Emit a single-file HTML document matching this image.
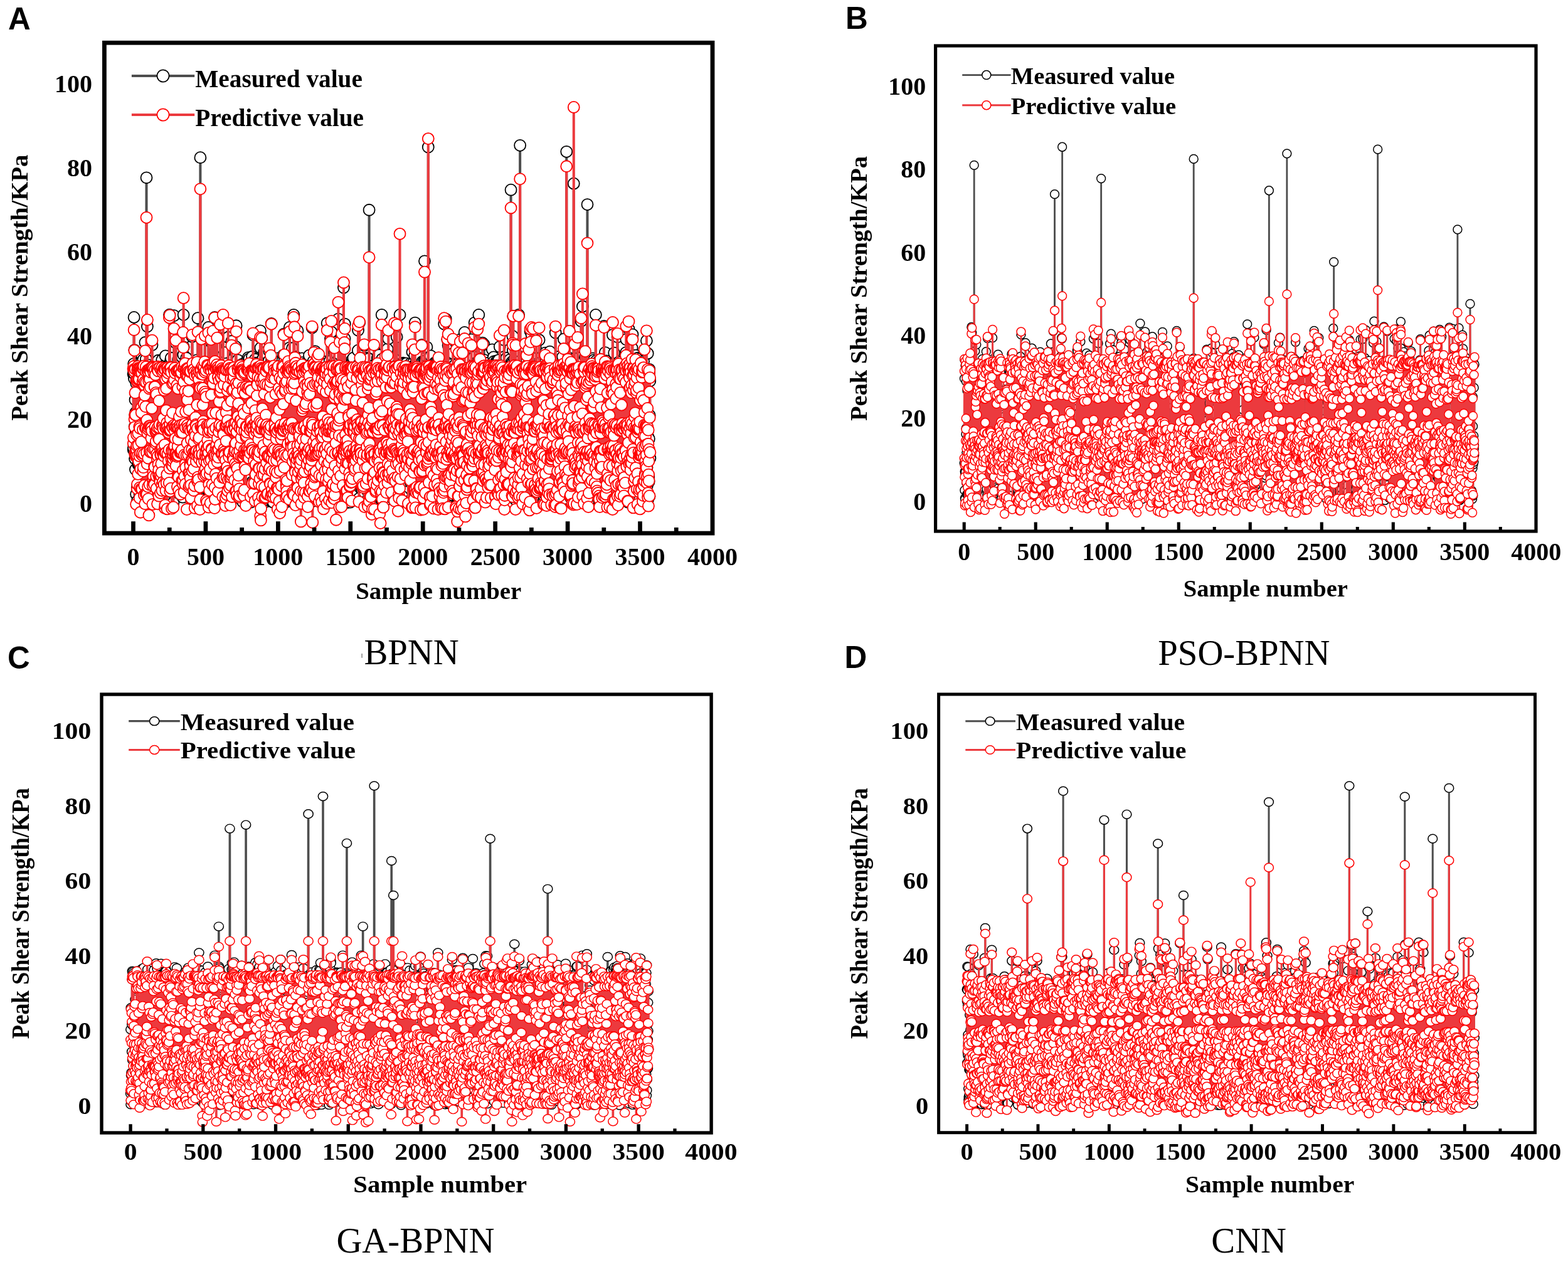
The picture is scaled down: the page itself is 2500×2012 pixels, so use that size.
<!DOCTYPE html>
<html><head><meta charset="utf-8"><title>Peak shear strength: measured vs predictive</title>
<style>html,body{margin:0;padding:0;background:#fff;}svg{display:block;}</style></head>
<body><svg width="2500" height="2012" viewBox="0 0 2500 2012">
<rect width="2500" height="2012" fill="#fff"/>
<defs>
<marker id="Ak" markerUnits="userSpaceOnUse" viewBox="-14 -14 28 28" markerWidth="121.29" markerHeight="41.88" preserveAspectRatio="none" overflow="visible"><circle r="9" fill="#fff" stroke="#000" stroke-width="1.8"/></marker>
<marker id="Ar" markerUnits="userSpaceOnUse" viewBox="-14 -14 28 28" markerWidth="121.29" markerHeight="41.88" preserveAspectRatio="none" overflow="visible"><circle r="9" fill="#fff" stroke="#f00" stroke-width="1.8"/></marker>
</defs>
<path transform="translate(212.5 802.7) scale(0.23086 -0.6685)" d="M0 309l1-181 1 5 1 200 1-20 1 131 1-146 1 11 1 57 1-183 1-39 1-37 1 104 1 36 1 77 1-243 1 136 1-49 1-38 1 0 1-108 1 264 1-151 1-12 1 53 1-56 1 180 1-262 1-32 1 310 1-193 1 183 1 28 1-241 1 73 1 144 1-154 1 200 1-262 1 228 1-3 1-49 1-103 1-70 1-76 1 19 1 129 1 154 1 16 1-333 1 101 1-19 1 221 1 18 1-274 1 98 1 69 1-1 1 71 1 51 1 12 1-318 1 43 1 236 1-220 1 164 1 62 1-147 1-107 1 277 1-256 1 192 1 49 1-23 1-74 1-213 1 106 1-86 1 234 1-9 1 35 1-284 1 370 1-223 1 28 1 72 1-255 1 269 1 69 1-169 1 126 1 476 1-760 1 126 1 59 1-173 1 42 1 351 1-108 1-117 1 106 1-132 1-119 1 47 1-91 1 270 1-83 1 76 1-253 1 312 1-74 1-63 1 87 1-237 1 62 1 195 1-170 1 195 1-129 1 69 1 26 1-1 1-151 1 21 1 16 1-14 1 15 1 128 1-116 1 1 1 188 1-81 1 15 1-189 1-101 1 24 1 8 1 274 1-254 1-27 1 245 1-166 1 176 1-226 1-34 1 53 1-49 1 201 1-147 1 170 1 22 1-103 1-37 1 153 1-140 1-34 1 125 1-88 1 5 1-100 1 197 1-268 1 176 1-50 1 51 1-99 1 225 1-289 1 317 1-144 1-97 1 235 1 14 1-248 1 0 1 77 1-76 1-72 1 211 1-93 1 61 1-119 1 86 1 133 1-233 1 10 1-23 1 84 1-118 1 106 1-15 1 215 1-198 1-67 1 63 1-70 1 69 1-96 1 314 1-292 1 122 1 142 1-189 1-29 1 72 1-112 1 271 1-137 1-13 1-45 1 8 1 187 1-229 1-82 1 255 1 44 1-3 1-185 1-106 1 301 1-312 1 95 1 247 1-147 1 87 1-256 1 112 1 57 1 58 1-219 1-13 1 160 1-3 1-118 1-45 1 293 1 10 1-148 1-77 1 196 1 1 1 14 1-136 1-72 1 55 1 165 1 1 1-221 1-50 1 394 1-281 1-65 1 346 1-275 1-164 1 194 1 95 1-99 1 140 1-154 1-133 1 293 1-266 1 244 1-249 1-1 1-48 1 108 1-41 1 90 1 75 1-8 1-172 1 102 1-102 1 17 1 44 1-138 1 265 1-153 1 202 1 132 1-314 1 61 1 119 1-135 1 6 1 118 1-10 1-80 1-51 1-77 1 14 1 6 1 278 1-282 1 25 1 17 1 4 1 44 1 121 1-219 1 204 1-4 1-203 1-22 1 129 1-2 1-35 1 91 1 92 1-188 1-31 1-47 1 113 1-166 1 293 1 3 1-94 1 45 1 73 1-42 1-77 1-46 1-26 1-131 1 191 1 97 1-181 1 190 1-191 1 64 1-49 1 172 1-196 1 23 1-82 1 289 1-192 1 37 1-34 1 98 1-243 1 63 1 313 1-346 1 310 1 95 1-77 1-82 1-129 1-136 1 160 1-97 1-6 1 225 1-109 1 126 1-72 1-149 1-21 1 70 1 56 1-142 1 259 1 2 1-36 1 55 1-237 1 186 1-267 1 286 1-79 1-113 1 120 1-69 1 158 1-148 1 114 1-16 1-171 1 180 1 11 1-219 1-57 1 204 1-65 1-86 1-53 1 87 1 217 1 0 1-287 1 71 1-29 1-1 1 63 1 165 1-277 1-23 1 118 1 9 1 45 1-5 1-24 1-8 1-26 1 277 1-347 1 147 1-24 1 133 1-92 1-104 1 189 1-196 1 31 1-83 1 41 1 236 1-190 1 67 1 101 1-261 1 77 1-97 1 293 1-168 1-21 1 28 1 70 1-79 1 30 1-42 1 52 1-86 1 0 1 40 1 192 1 3 1 4 1-105 1-162 1 164 1-216 1 280 1 139 1-399 1 28 1-2 1 14 1 63 1 26 1 145 1-15 1-125 1-69 1-30 1 195 1-179 1-71 1 5 1 0 1 797 1-568 1 47 1-123 1 131 1 18 1 3 1 64 1-208 1-45 1-13 1-29 1-3 1 85 1-49 1 180 1 17 1-66 1-11 1-47 1-8 1-19 1 3 1-124 1 247 1 28 1-43 1-199 1 31 1-6 1 211 1-29 1 92 1-120 1-106 1-82 1-17 1 194 1-145 1 207 1-83 1-221 1 77 1 47 1-47 1-3 1 109 1-183 1 92 1 204 1-177 1 32 1-76 1 108 1 110 1-139 1 247 1-337 1-57 1 106 1-114 1 314 1-225 1 82 1-163 1 135 1-10 1-86 1-2 1 119 1-159 1 315 1-10 1-216 1 273 1-264 1 159 1 26 1-183 1-13 1 12 1 59 1 152 1-264 1 121 1 149 1-174 1 214 1-72 1-34 1 68 1-157 1-80 1 245 1-254 1 205 1-31 1-117 1-148 1 440 1-401 1 312 1-325 1 40 1 256 1-284 1 132 1 79 1-134 1 218 1-31 1 67 1-241 1-66 1 262 1-224 1 310 1-292 1-40 1 63 1 174 1 1 1-292 1 257 1-185 1 65 1 149 1-161 1 9 1 165 1-46 1-76 1-32 1-109 1 222 1-80 1-78 1 291 1-123 1 26 1 4 1-57 1-8 1 73 1-35 1 9 1-195 1 100 1-44 1 129 1-24 1 45 1-3 1-217 1-11 1-82 1 331 1 83 1-110 1-137 1 6 1-87 1 209 1-22 1-208 1 52 1 15 1-66 1 288 1-45 1-206 1-9 1-72 1-14 1 147 1-151 1 93 1 208 1-146 1 43 1-22 1 131 1 5 1-236 1-57 1 25 1 151 1-21 1 86 1-63 1-172 1 43 1 318 1-130 1-203 1 231 1-182 1 208 1-201 1-12 1 39 1 30 1-145 1 105 1 30 1 152 1-9 1-261 1-26 1 106 1-75 1-7 1 253 1-13 1-209 1 151 1 159 1-176 1-170 1-21 1 270 1-183 1 68 1 102 1 10 1-161 1 82 1 85 1-205 1 203 1-213 1 232 1-20 1 13 1-171 1 35 1 27 1-119 1 68 1 21 1 7 1-109 1 69 1-117 1 360 1-238 1 64 1 66 1 158 1-304 1-93 1 234 1-79 1-162 1 270 1-204 1 30 1 177 1-129 1 178 1-152 1-133 1 242 1-90 1-162 1 222 1-134 1-120 1 87 1 204 1-273 1-14 1 116 1 31 1-8 1 38 1 132 1 2 1-21 1-11 1 26 1-198 1 48 1-15 1-55 1 207 1-116 1 114 1-156 1 157 1 22 1-15 1-112 1-201 1 285 1-188 1 155 1-34 1-114 1 202 1-192 1 113 1-219 1 265 1-238 1 123 1 29 1 100 1-196 1 187 1-148 1 15 1-55 1-25 1-45 1 240 1-123 1 11 1-50 1 52 1-3 1 38 1 5 1 148 1-227 1-20 1 214 1-192 1 5 1 208 1-117 1 135 1-251 1 212 1-41 1-154 1-30 1 252 1 9 1-32 1-174 1 129 1-70 1-26 1-17 1-39 1 21 1 66 1-200 1 297 1-13 1-48 1-45 1 25 1-21 1 39 1 77 1-187 1 223 1-227 1-71 1 51 1 217 1-136 1 218 1-89 1-293 1 209 1-34 1-10 1 117 1-226 1 194 1-233 1 16 1 117 1-77 1 42 1-128 1 337 1-126 1-24 1-138 1 24 1 103 1 152 1-135 1-40 1 150 1-98 1-10 1 46 1 31 1-170 1 181 1-85 1 102 1-176 1 198 1-194 1 175 1-289 1 134 1-45 1 17 1-53 1 90 1 162 1-257 1 64 1-104 1 154 1-130 1 256 1 103 1-398 1 357 1-178 1-166 1 1 1 150 1 126 1 28 1-54 1 117 1-360 1 141 1-137 1-33 1 244 1-168 1 239 1-115 1 140 1-39 1-200 1 223 1-192 1 163 1-235 1 294 1-28 1-69 1-76 1-142 1-38 1 124 1-65 1 33 1 105 1 89 1-289 1 159 1 23 1 130 1-159 1 162 1-129 1-104 1 122 1-181 1 304 1-169 1 0 1-64 1 151 1-187 1-54 1 77 1 248 1-224 1 78 1-24 1 177 1-271 1 122 1 172 1-85 1-76 1-89 1-33 1-7 1 215 1-45 1-193 1 132 1 105 1 23 1-293 1 151 1-61 1 322 1-89 1-255 1-75 1 40 1-46 1 25 1 111 1-14 1 184 1-164 1-12 1-23 1-108 1 123 1-74 1-26 1 298 1-232 1 200 1 6 1 1 1-92 1-59 1 66 1 85 1-224 1 116 1-168 1 259 1-267 1 179 1-146 1 189 1-79 1 170 1-239 1 67 1-106 1-6 1 302 1-35 1-257 1-30 1 92 1 60 1-122 1 243 1 40 1-204 1 9 1-124 1 257 1-173 1-86 1 227 1-43 1-94 1-96 1 289 1-238 1 116 1-15 1 115 1-176 1 105 1-54 1-30 1 43 1-135 1 55 1 83 1-143 1 289 1 9 1-218 1 158 1 78 1-161 1 9 1-10 1-94 1 172 1 97 1-24 1 74 1-212 1-37 1-84 1 268 1-229 1 20 1 125 1-84 1-8 1 110 1-36 1 49 1-1 1-211 1-65 1 317 1-143 1-136 1-17 1 42 1-68 1 274 1-242 1-26 1 173 1 141 1-22 1-147 1 6 1 165 1-196 1 203 1-42 1 51 1 2 1-181 1 33 1-184 1 359 1-77 1 126 1-108 1-7 1-123 1 130 1-49 1-83 1-27 1 13 1-21 1-2 1 184 1-208 1 26 1 127 1-45 1 43 1-167 1 267 1-79 1-287 1 118 1-109 1 136 1 49 1-57 1-5 1 51 1 263 1-178 1-270 1 306 1-20 1 119 1-97 1-203 1 237 1-168 1-70 1-12 1-65 1 321 1-62 1 39 1-89 1 47 1-149 1-62 1 269 1-10 1-135 1-100 1-82 1 116 1 6 1 274 1-376 1 304 1-329 1 98 1 10 1 53 1 114 1-156 1 57 1-2 1-79 1 52 1-69 1 67 1 170 1-19 1-112 1-115 1 64 1-54 1 111 1-186 1 9 1 89 1 14 1-101 1 19 1 1 1 256 1 44 1-10 1-52 1-47 1 77 1-141 1 136 1-238 1 121 1-120 1-68 1 97 1 83 1-77 1-63 1-32 1 275 1 14 1-194 1 81 1 145 1-266 1 62 1 82 1-184 1 273 1 25 1-84 1-64 1-58 1 46 1 161 1-152 1 134 1-167 1-56 1 223 1-140 1 99 1 17 1-260 1 4 1 274 1-185 1 162 1 27 1-97 1 111 1-224 1-94 1 351 1-217 1 169 1-208 1 147 1-241 1 185 1 0 1 112 1-221 1 93 1-74 1 7 1 49 1-89 1 143 1-197 1 189 1-104 1 6 1 317 1-200 1-29 1-185 1 133 1 70 1-182 1 274 1 39 1-208 1-8 1 107 1-195 1 325 1-311 1 272 1-10 1-227 1-59 1 111 1 227 1-239 1 179 1 31 1 2 1-248 1 40 1-37 1 60 1-38 1 214 1-106 1-150 1 68 1 124 1 38 1-118 1 97 1 44 1-10 1-172 1-2 1 155 1-164 1-12 1 176 1 54 1-199 1 190 1-328 1 258 1-205 1 35 1 185 1-135 1-32 1 84 1 84 1-112 1-3 1-169 1 318 1 12 1-243 1 198 1-123 1-58 1-95 1 302 1-249 1 267 1-40 1-189 1 164 1-102 1 67 1 80 1-292 1 154 1-165 1 310 1-28 1-156 1 134 1-58 1-111 1 92 1 102 1 27 1-224 1-3 1-83 1 123 1 179 1 26 1-5 1-47 1-215 1 98 1 135 1-116 1-63 1 186 1-294 1 413 1-130 1-217 1 32 1 11 1 66 1-116 1 72 1 178 1-240 1 85 1 22 1-97 1-24 1-68 1 168 1 38 1 129 1-20 1 2 1-35 1-156 1 149 1 114 1-246 1 47 1-174 1 6 1 95 1 288 1-389 1 220 1-216 1 267 1-199 1 68 1-7 1-24 1 53 1-144 1 12 1 39 1 213 1-123 1 147 1-301 1 296 1-149 1 164 1-324 1 349 1-110 1-222 1 276 1-267 1 244 1-162 1 44 1 45 1 64 1-147 1-121 1 25 1 171 1 73 1 29 1 22 1-18 1-29 1-234 1 282 1-129 1 9 1 82 1-201 1 94 1-94 1 353 1-326 1-34 1 234 1 32 1-147 1-27 1 83 1-244 1 267 1 77 1-131 1 83 1-34 1 23 1-176 1-49 1 205 1 34 1 21 1-26 1-3 1-288 1 93 1 274 1-271 1-11 1 7 1 162 1-108 1 79 1-121 1-64 1 262 1-40 1-156 1-13 1 408 1-258 1 5 1-145 1 19 1 245 1-250 1 262 1 35 1-300 1-41 1 196 1 27 1-126 1 129 1-204 1 27 1-32 1-78 1 253 1-176 1 4 1 15 1 2 1-122 1 256 1 71 1-230 1 68 1-151 1 304 1-88 1-93 1-52 1 134 1-1 1-44 1 123 1-170 1 62 1-102 1 26 1-77 1-4 1 9 1-40 1 324 1-145 1 17 1 109 1-195 1-85 1 64 1 239 1-77 1-210 1-24 1 322 1-15 1-211 1 94 1-162 1 290 1-221 1-23 1 92 1 5 1 156 1-271 1 40 1 58 1 21 1-74 1-27 1 79 1 25 1-31 1-80 1 12 1 28 1-43 1 45 1-19 1 178 1-180 1 123 1-103 1 191 1-118 1-26 1-45 1-15 1 186 1-172 1 107 1-40 1-41 1 162 1-211 1 259 1 48 1-248 1 166 1-230 1 211 1-232 1-68 1 42 1 61 1 316 1-246 1-23 1 149 1-120 1 144 1-177 1 10 1-42 1 64 1-35 1-16 1-41 1 234 1-168 1 16 1 108 1 22 1-251 1 287 1-99 1-199 1 291 1-94 1-122 1 62 1-151 1-31 1 281 1 34 1-220 1 91 1 5 1 183 1-42 1-308 1 162 1-2 1 113 1-158 1-60 1 144 1 110 1-12 1 9 1-144 1-146 1 304 1-175 1 4 1 74 1-103 1-37 1 209 1-254 1 31 1 109 1-176 1 11 1 205 1-234 1 182 1 23 1 33 1 96 1-67 1-72 1 494 1-671 1 104 1 157 1-163 1 35 1 162 1-244 1 22 1-73 1 172 1-75 1-111 1 265 1-154 1 0 1 155 1 47 1-311 1 291 1-214 1 73 1 160 1-301 1 171 1-35 1-117 1 38 1 91 1-143 1 31 1 257 1-227 1 277 1-333 1 94 1-113 1 56 1 43 1 30 1-72 1 147 1 73 1 16 1-37 1-247 1 245 1-51 1-168 1 259 1 1 1-43 1 38 1-252 1 127 1-11 1-8 1 184 1-243 1 241 1-38 1-274 1 98 1-18 1 52 1-60 1 116 1-78 1 169 1 42 1-224 1-63 1-40 1 85 1-16 1 67 1 48 1-208 1 26 1 140 1-15 1-115 1 248 1 41 1-319 1 316 1-230 1 355 1-106 1-339 1 231 1 51 1-267 1 22 1 7 1 133 1-177 1 161 1-154 1 49 1 240 1-242 1-2 1 16 1 67 1 144 1-279 1 185 1 115 1-16 1 17 1-213 1 241 1-7 1-15 1-235 1 201 1-135 1 181 1-302 1 313 1-234 1 71 1-22 1 171 1-37 1 84 1-23 1-10 1-270 1 46 1-35 1 97 1 220 1-237 1 154 1-98 1-87 1-21 1-56 1 287 1-263 1 73 1-61 1 109 1 30 1-36 1 146 1-219 1 73 1-52 1 124 1-142 1-10 1-93 1 74 1 133 1-75 1-26 1-62 1 20 1 4 1 265 1-182 1 137 1-14 1-74 1-148 1 164 1-50 1-16 1 155 1-233 1 78 1 248 1-254 1-147 1 65 1 45 1 208 1-41 1 26 1-272 1 300 1-125 1-14 1-80 1-24 1 128 1 70 1-68 1 168 1-297 1 107 1 96 1 29 1-137 1 25 1-121 1-17 1-74 1 122 1 29 1-36 1 184 1-283 1-10 1 44 1 272 1-128 1-200 1 166 1 282 1-207 1-104 1-14 1-41 1 102 1 112 1-227 1 252 1-147 1-32 1-31 1 48 1-34 1 16 1 1 1-127 1 108 1 18 1 182 1-86 1 58 1 38 1-220 1 144 1-128 1-8 1 210 1-55 1-126 1 174 1-22 1-124 1 3 1-89 1 20 1-4 1 67 1-2 1-121 1 108 1 161 1-11 1 11 1-150 1 161 1-21 1-125 1-83 1 71 1-58 1-29 1 200 1-135 1 24 1 128 1-145 1 118 1-274 1 94 1 187 1 19 1-18 1-90 1-17 1 20 1-119 1 118 1-21 1-54 1 129 1 62 1-146 1-118 1 283 1-118 1 90 1-9 1-109 1-126 1 16 1 6 1 210 1-287 1 180 1-97 1 271 1-65 1-291 1 329 1-124 1 54 1 64 1-237 1 234 1-241 1 65 1 92 1 86 1-294 1 54 1-61 1 160 1 167 1-26 1 104 1-403 1 280 1-285 1 275 1-201 1 231 1-303 1 70 1 227 1-134 1-176 1 77 1 221 1 0 1 25 1 11 1-151 1-165 1 79 1 193 1-133 1-28 1-10 1 44 1-94 1-58 1 113 1 179 1-191 1-44 1-53 1 131 1-122 1 312 1-237 1-2 1-61 1 259 1-282 1 243 1 27 1-214 1 91 1 129 1-43 1 120 1-215 1 34 1 141 1-229 1-23 1 12 1 190 1-119 1-17 1-126 1-2 1 298 1 16 1-167 1-13 1 74 1-188 1 235 1 55 1 244 1-467 1 164 1-74 1 139 1-27 1-285 1 278 1-131 1 36 1-70 1 180 1-13 1-175 1 2 1 238 1-42 1-230 1 56 1-49 1 187 1-3 1-197 1 170 1-85 1 670 1-763 1 89 1-43 1 127 1-223 1 285 1-46 1 55 1 5 1-207 1-47 1-55 1-14 1 311 1-294 1-2 1 215 1 109 1-251 1 29 1-46 1 28 1 113 1 75 1-93 1-109 1 227 1-77 1-232 1 152 1 93 1-71 1 13 1-77 1 52 1 154 1-269 1 70 1-110 1 290 1-134 1 45 1-48 1-127 1 223 1-76 1 140 1-209 1 36 1 145 1-20 1-67 1-143 1 244 1-173 1-73 1 104 1 140 1 17 1-249 1 27 1 217 1-41 1-241 1 34 1-5 1 240 1-293 1 267 1-99 1 88 1 58 1-144 1-88 1 62 1-106 1 87 1-34 1 227 1-317 1 274 1-288 1 321 1-195 1 129 1-4 1 21 1-175 1 61 1-165 1 145 1 48 1-103 1 8 1 17 1 223 1-100 1-223 1 35 1-37 1 112 1-71 1 52 1 15 1-109 1 289 1 28 1-59 1-85 1 237 1-351 1-64 1 31 1 153 1-176 1 37 1 256 1-100 1 56 1 37 1 133 1-245 1-130 1 96 1 183 1-151 1-74 1 68 1 52 1 65 1-175 1 262 1-74 1-235 1 132 1 99 1-207 1 271 1-358 1 93 1 70 1 56 1-165 1 125 1-18 1-15 1 166 1-289 1 64 1 10 1 51 1-105 1-9 1 142 1 64 1-108 1-38 1-25 1 219 1-201 1-61 1 58 1 93 1-73 1-7 1 39 1 160 1-236 1 2 1 194 1 83 1-221 1-118 1 253 1-163 1 175 1-26 1-75 1 118 1-210 1 23 1 72 1 23 1 121 1-137 1-90 1 43 1-1 1-113 1 26 1-38 1 97 1-91 1 355 1-220 1 151 1-168 1-54 1-7 1 200 1-280 1 179 1-178 1 306 1-180 1-120 1 293 1-136 1-42 1-114 1 367 1-247 1-125 1 296 1-122 1-160 1 337 1-339 1 67 1 44 1 262 1-305 1 96 1-99 1 33 1 9 1-114 1 118 1-76 1 40 1 191 1 33 1-21 1-163 1-120 1 108 1 228 1-122 1 73 1-115 1-72 1-93 1 76 1 72 1-75 1 57 1 88 1-152 1 212 1-211 1 321 1-68 1-325 1 305 1-14 1-91 1-193 1 286 1-169 1 70 1 88 1-287 1 247 1-212 1 63 1-49 1-18 1 101 1-44 1-59 1 273 1 34 1-205 1 182 1-105 1 163 1-250 1 140 1 48 1-168 1-89 1-1 1 94 1-50 1-47 1 83 1-53 1 228 1-224 1 227 1-44 1-17 1-86 1 147 1-183 1 23 1 137 1 95 1-171 1-69 1 163 1-195 1-38 1 48 1 124 1 69 1-35 1-192 1 165 1-251 1 98 1 85 1 134 1-211 1 211 1 23 1-87 1 60 1-240 1 349 1-311 1 119 1-233 1 188 1-183 1 145 1 137 1 42 1-52 1-113 1-118 1 70 1 164 1-253 1 157 1-13 1-148 1 163 1 71 1 158 1-100 1-47 1-104 1-4 1 161 1-316 1 330 1-233 1 342 1-333 1-21 1 25 1 13 1 128 1-174 1 114 1-4 1 148 1-209 1 73 1-11 1-62 1-95 1-20 1 146 1-27 1 176 1-191 1-59 1 250 1-134 1 129 1-226 1-14 1 311 1-77 1-77 1-92 1 189 1-262 1 240 1 28 1 4 1-272 1 315 1-224 1 151 1-223 1 259 1-51 1-218 1 19 1 222 1-299 1 143 1 2 1-99 1 68 1-71 1 70 1 139 1-145 1-98 1 267 1-132 1-33 1-69 1 133 1 88 1-152 1-44 1 16 1 237 1-281 1 40 1-36 1 261 1-196 1 34 1-103 1 257 1 15 1-115 1-115 1-50 1 3 1 263 1-129 1 145 1-36 1 5 1-114 1-173 1 191 1-82 1-62 1 100 1-91 1 22 1 156 1-153 1 276 1-155 1 84 1-122 1 117 1 15 1-126 1 32 1-97 1 234 1-147 1 77 1-144 1 204 1-232 1 18 1-33 1 232 1-243 1 237 1-172 1-132 1-12 1 161 1 154 1-298 1 270 1 24 1-85 1-108 1 220 1-4 1-131 1-87 1 171 1-5 1-278 1 326 1-78 1-47 1-192 1 223 1 85 1-221 1-19 1 259 1-337 1 139 1 34 1-17 1-37 1-98 1 348 1-212 1 143 1-148 1-6 1 153 1 10 1-12 1-276 1 62 1 242 1-69 1 23 1 42 1-304 1 198 1-103 1 62 1 136 1 18 1-228 1 97 1-74 1 139 1-104 1-83 1 206 1-93 1-147 1 264 1 80 1-274 1-92 1 3 1 290 1-292 1 302 1-186 1-84 1 63 1-6 1 44 1 77 1-65 1 56 1-129 1 16 1 234 1-200 1-10 1 54 1-152 1 140 1-168 1 323 1-171 1 122 1-253 1 117 1 121 1-106 1 119 1-177 1-2 1-101 1 148 1 163 1-198 1 75 1 9 1 143 1-246 1 211 1-32 1-176 1 29 1-30 1 649 1-629 1 156 1-163 1 217 1 8 1-164 1 156 1-327 1 248 1 84 1-225 1 290 1-376 1 343 1-255 1 336 1-312 1-117 1 5 1 289 1-160 1-28 1 41 1-115 1 295 1-16 1-153 1 7 1-133 1 272 1-312 1-1 1 304 1 40 1-181 1 160 1-325 1 306 1-135 1 93 1-66 1 118 1-159 1-70 1 46 1 9 1-28 1-85 1 272 1-296 1 55 1-33 1 144 1 272 1-334 1 16 1 9 1 35 1-167 1 123 1-28 1 26 1 724 1-514 1-149 1-37 1-81 1 139 1 58 1-10 1-154 1-24 1-42 1 137 1 84 1-108 1 123 1 35 1-307 1 153 1-136 1 45 1 218 1 44 1-153 1 15 1-58 1 82 1 88 1 10 1-115 1 3 1 57 1 50 1-61 1-135 1-90 1 97 1 191 1 63 1-268 1 158 1 80 1-245 1 217 1-151 1 26 1 81 1 77 1-160 1 154 1-128 1-164 1 200 1-153 1 79 1-19 1 68 1 66 1-267 1 51 1-31 1 82 1 238 1-54 1-122 1-36 1 183 1-321 1 92 1-31 1-61 1 129 1 269 1-243 1 218 1-243 1-95 1 270 1-204 1-7 1 4 1 291 1-269 1-95 1 241 1-14 1 5 1 47 1-178 1 173 1-148 1-73 1 293 1-71 1-4 1-118 1 146 1-194 1-27 1 48 1 184 1-45 1-264 1 179 1-28 1-136 1 270 1-131 1 179 1-254 1-88 1 280 1-192 1 276 1-141 1-228 1 147 1-144 1 91 1 78 1-19 1 155 1-248 1 47 1 56 1-152 1 25 1 14 1-27 1 150 1 114 1-116 1 116 1 78 1-285 1 195 1-2 1-261 1 43 1 255 1-270 1 240 1-271 1 88 1 27 1 167 1-257 1-19 1 43 1 102 1 121 1-142 1-64 1-84 1 125 1 32 1-24 1 33 1-93 1 129 1 78 1-52 1-137 1-102 1 229 1-94 1 31 1-153 1 293 1-178 1-57 1-53 1 198 1-121 1-62 1 321 1-110 1-186 1 278 1-13 1 10 1-31 1 6 1-15 1-49 1-223 1-9 1 298 1-25 1-251 1 100 1-59 1 90 1-167 1 145 1-125 1 281 1 35 1-25 1-120 1 31 1-171 1-37 1 54 1 86 1 173 1-306 1 338 1-52 1-14 1 24 1-123 1-121 1 60 1 35 1-39 1 159 1-63 1-199 1 87 1-61 1 70 1-11 1 14 1-102 1 164 1-53 1 6 1 178 1-295 1 246 1 10 1-90 1-38 1-30 1 51 1 66 1-72 1-20 1-127 1 188 1 101 1-299 1 103 1-110 1 307 1 95 1-256 1 67 1-92 1-111 1-7 1 153 1 21 1-25 1-48 1 186 1-26 1-138 1-108 1 32 1 256 1-25 1 17 1-110 1 41 1-70 1 151 1-232 1 267 1-51 1-184 1-105 1 39 1 144 1 122 1-249 1 86 1 12 1-154 1 49 1 48 1 23 1 192 1-14 1-306 1 290 1-230 1 154 1-37 1 34 1 89 1-142 1 32 1-161 1 108 1 211 1-101 1-56 1-20 1-133 1 40 1 249 1 63 1-296 1 36 1 8 1-51 1 201 1 22 1-231 1-69 1 202 1 70 1-171 1-61 1 278 1-218 1 147 1 7 1-98 1 123 1 548 1-515 1-226 1 63 1-102 1 81 1 174 1-262 1 262 1-18 1 36 1-113 1 10 1-33 1 70 1-146 1-58 1 274 1-212 1 17 1 270 1-81 1-142 1 145 1-104 1-205 1 265 1-110 1-165 1 8 1 324 1-32 1-34 1-21 1-147 1-76 1 269 1-109 1 137 1-311 1 116 1 153 1-255 1 74 1-48 1 70 1-94 1 262 1-277 1 321 1 419 1-454 1-306 1 312 1-54 1-38 1 104 1 64 1-351 1 77 1 36 1 146 1 27 1-171 1 64 1-131 1 207 1-215 1 101 1 99 1 32 1-36 1-260 1 312 1-12 1-142 1 95 1 113 1-172 1-117 1 65 1-134 1 110 1 55 1-136 1 260 1 34 1-306 1 121 1-43 1 24 1-70 1-42 1 263 1-156 1 61 1-52 1-30 1-41 1 72 1-64 1 351 1-291 1-79 1 21 1 165 1-117 1-6 1-63 1 52 1 117 1 236 1-448 1 153 1 15 1 111 1-118 1-40 1 175 1 22 1-268 1-50 1 277 1-125 1-82 1 183 1 46 1-253 1 243 1 39 1-251 1 108 1-136 1 44 1 143 1-134 1 22 1-36 1 136 1 35 1-209 1 52 1 173 1-267 1 683 1-632 1 26 1 134 1-103 1-35 1 230 1-329 1 311 1-144 1-76 1-79 1 303 1-149 1 142 1-197 1 75 1-9 1-58 1 30 1 3 1 28 1-128 1 224 1 3 1 30 1-188 1 64 1 92 1 52 1-131 1 105 1-272 1 272 1-31 1-26 1-125 1 181 1-114 1 154 1-177 1-82 1 161 1-129 1 193 1 30 1-73 1 51 1-208 1-13 1 71 1 132 1-89 1-155 1 269 1-143 1-106 1 220 1 152 1-194 1 84 1-178 1-19 1-15 1 32 1-135 1 32 1 59 1-61 1 48 1 186 1 42 1-62 1 50 1-306 1 132 1 171 1-184 1 155 1 53 1-163 1-169 1 0 1-1 1 116 1-112 1 159 1-19 1-71 1 65 1 135 1-187 1 241 1-152 1-2 1 46 1-172 1 72 1 180 1-180 1 198 1-238 1-83 1 301 1 7 1-101 1-47 1 123 1-99 1 155 1-148 1-70 1-102 1 177 1 109 1 115 1-276 1 170 1 23 1-165 1 125 1-116 1 87 1 89 1-332 1 168 1 124 1-305 1 187 1-194 1 323 1-38 1 47 1-299 1 285 1-301 1 185 1 123 1-320 1 271 1-228 1 57 1 64 1 26 1 125 1 5 1-297 1 85 1 98 1-68 1-79 1 4 1 125 1-28 1-45 1-117 1 305 1-140 1 141 1 5 1-33 1-224 1 47 1 45 1 52 1-20 1-85 1 21 1 171 1-50 1 55 1-206 1 51 1-21 1-115 1 392 1-120 1-97 1-53 1-105 1 129 1 135 1 33 1-124 1-48 1 207 1-262 1 68 1-138 1 43 1-41 1 65 1 36 1-121 1 224 1-112 1 171 1-38 1-8 1 73 1-135 1-143 1 221 1 55 1-198 1 112 1 86 1-242 1 322 1-372 1 42 1 10 1-56 1 287 1-221 1-46 1 296 1-212 1-11 1-7 1 203 1-104 1 108 1-188 1-97 1 169 1-109 1 168 1-62 1 117 1-183 1-121 1 105 1-50 1 257 1-263 1 168 1-103 1 205 1-156 1 17 1 118 1-97 1-135 1 57 1 52 1 130 1-231 1 125 1-142 1-23 1-13 1-21 1 101 1-55 1 240 1-99 1-13 1 125 1-127 1 124 1-240 1 42 1 212 1-103 1-97 1 171 1 71 1 31 1-74 1-208 1 70 1-83 1 219 1-204 1 72 1-8 1-36 1-127 1 181 1 121 1-311 1 341 1-241 1 41 1 38 1 234 1-112 1-21 1-207 1 265 1-84 1 41 1-126 1-75 1 230 1-56 1 57 1-239 1-4 1 223 1-120 1-25 1-19 1 19 1 96 1-153 1 184 1 81 1-48 1-216 1 102 1 194 1-101 1-188 1 9 1 197 1-294 1 218 1-127 1 236 1-44 1-289 1 12 1 145 1-40 1 147 1-93 1-146 1 247 1-71 1 72 1 29 1 31 1-272 1 96 1-20 1 35 1 63 1 5 1 49 1 20 1-27 1-250 1 121 1 8 1-128 1-44 1 338 1-194 1 42 1 101 1-92 1-150 1 231 1-182 1 34 1 181 1-301 1 34 1 50 1 70 1 0 1 10 1-170 1 135 1 83 1-87 1-1 1-2 1 207 1-185 1-137 1 85 1-12 1-27 1 249 1-78 1-131 1 219 1-21 1-165 1-7 1-117 1 310 1-11 1-277 1-21 1 319 1-120 1-166 1 131 1-57 1 68 1 170 1-166 1-160 1 91 1 30 1-85 1-16 1 97 1-32 1 67 1-89 1 53 1 36 1-64 1 18 1 243 1-315 1 124 1-111 1-44 1 135 1 39 1-5 1 147 1-349 1 8 1 117 1 24 1-144 1 50 1 53 1-65 1 102 1 157 1 9 1-303 1 193 1 83 1-1 1-184" fill="none" stroke="#4d4d4d" stroke-width="4" vector-effect="non-scaling-stroke" stroke-linejoin="bevel" marker-start="url(#Ak)" marker-mid="url(#Ak)" marker-end="url(#Ak)"/>
<path transform="translate(212.5 802.7) scale(0.23086 -0.6685)" d="M0 321l1-178 1 14 1 164 1 6 1 87 1-94 1-5 1 50 1-164 1-19 1-63 1 93 1 52 1 56 1-205 1 96 1-81 1-18 1 0 1-114 1 296 1-179 1 14 1 35 1-26 1 155 1-258 1 11 1 272 1-205 1 183 1 31 1-257 1 97 1 156 1-184 1 179 1-218 1 195 1 27 1-25 1-114 1-70 1-100 1 25 1 141 1 142 1-8 1-334 1 141 1-38 1 242 1-7 1-282 1 112 1 81 1-11 1 98 1-3 1-1 1-277 1 81 1 211 1-206 1 171 1 31 1-146 1-99 1 246 1-237 1 210 1 24 1 8 1-91 1-217 1 98 1-75 1 239 1-24 1 32 1-291 1 365 1-184 1 2 1 49 1-208 1 292 1 11 1-147 1 110 1 393 1-657 1 96 1 78 1-177 1 72 1 344 1-122 1-148 1 150 1-141 1-137 1 68 1-97 1 303 1-133 1 111 1-320 1 348 1-46 1-89 1 133 1-273 1 79 1 172 1-170 1 196 1-137 1 92 1 40 1-4 1-191 1 57 1 3 1-26 1 24 1 143 1-96 1-54 1 216 1-63 1-2 1-202 1-124 1 45 1 11 1 266 1-246 1-9 1 257 1-192 1 181 1-263 1-1 1 41 1-43 1 234 1-192 1 191 1 40 1-136 1-52 1 177 1-136 1-28 1 121 1-116 1 24 1-107 1 195 1-224 1 139 1-57 1 58 1-69 1 213 1-321 1 327 1-145 1-68 1 209 1-6 1-223 1-24 1 86 1-75 1-62 1 227 1-92 1 28 1-120 1 127 1 136 1-258 1-11 1-4 1 77 1-103 1 92 1-2 1 204 1-202 1-52 1 30 1-21 1 57 1-87 1 280 1-293 1 155 1 127 1-179 1-13 1 62 1-132 1 266 1-114 1-25 1-60 1-3 1 207 1-209 1-68 1 225 1 51 1 2 1-183 1-151 1 331 1-324 1 124 1 199 1-139 1 117 1-266 1 90 1 101 1 52 1-219 1-6 1 129 1 14 1-123 1-82 1 335 1-21 1-118 1-65 1 206 1-12 1-1 1-136 1-74 1 68 1 149 1 1 1-191 1-79 1 394 1-269 1-90 1 365 1-260 1-160 1 145 1 147 1-119 1 123 1-149 1-140 1 288 1-211 1 200 1-208 1-13 1-104 1 139 1-4 1 60 1 103 1-70 1-127 1 92 1-81 1 7 1 9 1-125 1 297 1-165 1 196 1 98 1-281 1 51 1 108 1-158 1 37 1 149 1-12 1-128 1-28 1-35 1-12 1 5 1 276 1-299 1 24 1 5 1 62 1 5 1 130 1-204 1 170 1 35 1-202 1-75 1 149 1-8 1-45 1 138 1 45 1-166 1-38 1-52 1 115 1-147 1 286 1 0 1-110 1 104 1 7 1 1 1-133 1-16 1-49 1-99 1 159 1 121 1-180 1 189 1-138 1 46 1-47 1 141 1-191 1 5 1-73 1 272 1-157 1 19 1-19 1 110 1-232 1 32 1 329 1-353 1 317 1 118 1-167 1-33 1-104 1-159 1 159 1-70 1-51 1 260 1-135 1 144 1-66 1-222 1 48 1 87 1 38 1-133 1 221 1 13 1-6 1 2 1-201 1 206 1-335 1 318 1-49 1-111 1 103 1-60 1 136 1-143 1 141 1-18 1-187 1 152 1 47 1-242 1-34 1 184 1-46 1-105 1-29 1 84 1 169 1 18 1-247 1 27 1-4 1-30 1 113 1 142 1-271 1-31 1 139 1-48 1 81 1 1 1 0 1-58 1-26 1 300 1-325 1 112 1-14 1 159 1-156 1-79 1 220 1-199 1 1 1-90 1 52 1 237 1-174 1 22 1 145 1-271 1 75 1-128 1 316 1-182 1 48 1-10 1 44 1-82 1 65 1-63 1 60 1-85 1 15 1 10 1 188 1-5 1 29 1-102 1-181 1 125 1-184 1 309 1 105 1-346 1 53 1-66 1 7 1 64 1 32 1 143 1 18 1-157 1-31 1-20 1 171 1-160 1-131 1 53 1-30 1 741 1-475 1 40 1-131 1 125 1 12 1-2 1 73 1-212 1-48 1-1 1-33 1 17 1 64 1-62 1 210 1-19 1-33 1-40 1-57 1 18 1-8 1-12 1-109 1 256 1-7 1 10 1-250 1 62 1-37 1 237 1-72 1 134 1-87 1-200 1-30 1-14 1 192 1-140 1 196 1-63 1-247 1 102 1 22 1-59 1 25 1 89 1-183 1 126 1 201 1-212 1 33 1-40 1 72 1 145 1-158 1 237 1-286 1-130 1 146 1-92 1 275 1-218 1 80 1-151 1 142 1 2 1-105 1 12 1 108 1-189 1 323 1-3 1-214 1 284 1-287 1 155 1 56 1-184 1-2 1-1 1 62 1 107 1-252 1 170 1 110 1-155 1 241 1-109 1-16 1 50 1-161 1-58 1 205 1-229 1 222 1-16 1-187 1-123 1 454 1-405 1 301 1-329 1 105 1 209 1-254 1 110 1 36 1-86 1 195 1 2 1-7 1-181 1-79 1 271 1-215 1 279 1-268 1-28 1 56 1 170 1-6 1-291 1 273 1-191 1 19 1 191 1-191 1 42 1 151 1-29 1-50 1-59 1-134 1 215 1-77 1-48 1 287 1-108 1 0 1-6 1-46 1 10 1 52 1-30 1 2 1-182 1 92 1-27 1 132 1 6 1-5 1-2 1-196 1-57 1-46 1 291 1 143 1-134 1-148 1-4 1-98 1 254 1-37 1-173 1 20 1-7 1-62 1 257 1-15 1-185 1-3 1-112 1-8 1 190 1-171 1 89 1 215 1-169 1 68 1-31 1 133 1 0 1-257 1-41 1 66 1 147 1-44 1 79 1-71 1-168 1 47 1 353 1-151 1-223 1 262 1-196 1 207 1-218 1 13 1 53 1 7 1-147 1 85 1 56 1 145 1-3 1-262 1-62 1 180 1-133 1 19 1 236 1 18 1-242 1 170 1 133 1-190 1-121 1-50 1 254 1-197 1 103 1 140 1 1 1-208 1 68 1 119 1-182 1 157 1-167 1 220 1-22 1 14 1-192 1 62 1 6 1-136 1 68 1 17 1 38 1-84 1 34 1-100 1 340 1-225 1 49 1 93 1 124 1-322 1-58 1 231 1-90 1-152 1 261 1-197 1 39 1 143 1-78 1 136 1-116 1-158 1 268 1-79 1-171 1 220 1-176 1-96 1 101 1 209 1-290 1-17 1 108 1 54 1 1 1 17 1 115 1 5 1 11 1-21 1 11 1-181 1 62 1-43 1-45 1 195 1-127 1 139 1-144 1 150 1-6 1-3 1-125 1-168 1 254 1-166 1 158 1-46 1-112 1 205 1-198 1 96 1-196 1 292 1-278 1 96 1 45 1 140 1-225 1 175 1-145 1-2 1-36 1 41 1-126 1 283 1-120 1 26 1-58 1 35 1-29 1 38 1 13 1 137 1-197 1-12 1 164 1-166 1 20 1 188 1-89 1 92 1-199 1 198 1-47 1-153 1-11 1 213 1 13 1-21 1-184 1 148 1-96 1 2 1-8 1-55 1 21 1 57 1-182 1 254 1 42 1-43 1-79 1 5 1-16 1 60 1 79 1-186 1 186 1-191 1-80 1 79 1 178 1-118 1 220 1-88 1-294 1 156 1 3 1-11 1 144 1-214 1 207 1-262 1 2 1 116 1-46 1 4 1-117 1 317 1-101 1-29 1-124 1 24 1 89 1 142 1-138 1-14 1 160 1-128 1-26 1 79 1 29 1-169 1 166 1-96 1 137 1-201 1 179 1-178 1 199 1-309 1 139 1-69 1 28 1-65 1 123 1 154 1-241 1 40 1-122 1 195 1-137 1 239 1 98 1-426 1 358 1-150 1-218 1 28 1 204 1 131 1-5 1-30 1 106 1-352 1 136 1-109 1-53 1 210 1-141 1 212 1-108 1 133 1-44 1-150 1 186 1-175 1 147 1-217 1 252 1-20 1-40 1-84 1-138 1-26 1 99 1-30 1 41 1 59 1 102 1-269 1 158 1 38 1 108 1-133 1 129 1-132 1-86 1 91 1-166 1 304 1-152 1-2 1-58 1 169 1-223 1-37 1 88 1 215 1-213 1 71 1-35 1 173 1-241 1 96 1 193 1-46 1-159 1-53 1-27 1-37 1 231 1-26 1-207 1 130 1 114 1 63 1-336 1 167 1-59 1 303 1-127 1-194 1-82 1 52 1-44 1-13 1 103 1-2 1 183 1-180 1 1 1-3 1-107 1 117 1-86 1-23 1 305 1-226 1 204 1 13 1-6 1-138 1-47 1 61 1 108 1-220 1 100 1-147 1 231 1-248 1 166 1-117 1 142 1-50 1 161 1-212 1 66 1-132 1 37 1 249 1-2 1-284 1-50 1 130 1 57 1-137 1 276 1 14 1-200 1 0 1-94 1 242 1-159 1-111 1 219 1-45 1-56 1-146 1 323 1-222 1 106 1-3 1 86 1-149 1 63 1 6 1-76 1 43 1-112 1 74 1 49 1-173 1 303 1 26 1-216 1 156 1 67 1-148 1-1 1-6 1-79 1 143 1 89 1-16 1 92 1-222 1-5 1-89 1 269 1-234 1-6 1 155 1-87 1 8 1 95 1-19 1 4 1 17 1-231 1-42 1 303 1-140 1-133 1-7 1 74 1-83 1 262 1-237 1-37 1 167 1 128 1 9 1-143 1-36 1 174 1-200 1 223 1-23 1 3 1 4 1-149 1 15 1-179 1 317 1-55 1 138 1-94 1-3 1-130 1 141 1-72 1-74 1-20 1 26 1-41 1 6 1 171 1-184 1-3 1 141 1-82 1 92 1-216 1 250 1-27 1-265 1 75 1-79 1 136 1 21 1-44 1-16 1 59 1 266 1-169 1-255 1 299 1-32 1 134 1-112 1-199 1 238 1-172 1-64 1-37 1-79 1 339 1-23 1 14 1-81 1 73 1-219 1-3 1 231 1-9 1-142 1-71 1-44 1 59 1 18 1 261 1-362 1 279 1-303 1 101 1-39 1 106 1 143 1-198 1 51 1-4 1-59 1 43 1-55 1 60 1 151 1 1 1-134 1-97 1 58 1-47 1 85 1-150 1-72 1 152 1-5 1-104 1 62 1-4 1 261 1 1 1 11 1-64 1-46 1 98 1-167 1 158 1-246 1 163 1-154 1-45 1 86 1 66 1-51 1-80 1-35 1 277 1 23 1-238 1 109 1 138 1-203 1 16 1 96 1-206 1 257 1 40 1-85 1-63 1-55 1 34 1 161 1-138 1 144 1-209 1-19 1 228 1-195 1 139 1 21 1-269 1-25 1 286 1-155 1 135 1 67 1-132 1 124 1-214 1-73 1 297 1-195 1 172 1-224 1 181 1-232 1 143 1 4 1 111 1-198 1 84 1-85 1 24 1 16 1-80 1 133 1-145 1 135 1-68 1 11 1 308 1-230 1-12 1-225 1 162 1 70 1-158 1 252 1 50 1-211 1 26 1 85 1-159 1 288 1-314 1 287 1-14 1-256 1-46 1 117 1 193 1-211 1 169 1 40 1-1 1-258 1 65 1-55 1 82 1-39 1 196 1-84 1-115 1 26 1 97 1 80 1-147 1 114 1 64 1-31 1-137 1-64 1 183 1-177 1-5 1 203 1 34 1-227 1 196 1-321 1 279 1-216 1 56 1 157 1-101 1-47 1 55 1 99 1-100 1-17 1-155 1 302 1-3 1-222 1 227 1-162 1-35 1-118 1 293 1-232 1 259 1-6 1-184 1 139 1-114 1 49 1 116 1-294 1 159 1-201 1 328 1 1 1-195 1 170 1-121 1-68 1 87 1 133 1-7 1-186 1-51 1-66 1 117 1 174 1 18 1-11 1-44 1-208 1 122 1 145 1-151 1-55 1 201 1-320 1 413 1-129 1-190 1 44 1 22 1 40 1-119 1 91 1 135 1-255 1 133 1-5 1-82 1-36 1-54 1 165 1 20 1 133 1 0 1-14 1-15 1-166 1 138 1 116 1-210 1 8 1-155 1-3 1 84 1 326 1-396 1 186 1-223 1 325 1-252 1 95 1 4 1-50 1 69 1-156 1 8 1 1 1 239 1-110 1 149 1-312 1 300 1-129 1 144 1-316 1 360 1-119 1-232 1 270 1-200 1 170 1-141 1 44 1 20 1 102 1-141 1-104 1-79 1 226 1 101 1 34 1-4 1 7 1-34 1-232 1 260 1-109 1 5 1 77 1-172 1 66 1-67 1 361 1-358 1-44 1 241 1 9 1-130 1-36 1 103 1-274 1 258 1 136 1-181 1 118 1-60 1 57 1-207 1-46 1 248 1 9 1-3 1-32 1 10 1-306 1 116 1 297 1-277 1-32 1 11 1 149 1-99 1 73 1-109 1-78 1 230 1 21 1-176 1-2 1 411 1-278 1 27 1-161 1 17 1 252 1-258 1 243 1 48 1-285 1-49 1 165 1 73 1-157 1 161 1-188 1 11 1-50 1-68 1 261 1-174 1 7 1 17 1-6 1-104 1 219 1 74 1-227 1 54 1-137 1 306 1-42 1-142 1-41 1 116 1-5 1-27 1 142 1-198 1 54 1-104 1 52 1-71 1-14 1 22 1-20 1 279 1-147 1 14 1 136 1-210 1-64 1 69 1 205 1-37 1-236 1-45 1 315 1-5 1-210 1 108 1-155 1 244 1-182 1-16 1 69 1 19 1 131 1-236 1 43 1 51 1-15 1-62 1-15 1 81 1 21 1-8 1-106 1 30 1 15 1-40 1 41 1-6 1 153 1-169 1 143 1-124 1 204 1-131 1-34 1-22 1-23 1 184 1-171 1 72 1-11 1-14 1 140 1-199 1 206 1 102 1-240 1 134 1-208 1 208 1-234 1-80 1 57 1 93 1 279 1-259 1-46 1 181 1-133 1 171 1-215 1-4 1-8 1 76 1-43 1-42 1 8 1 190 1-128 1 13 1 89 1 15 1-257 1 279 1-53 1-221 1 279 1-85 1-138 1 82 1-146 1 4 1 275 1-14 1-186 1 66 1-1 1 197 1-62 1-325 1 186 1 10 1 137 1-148 1-93 1 113 1 118 1 0 1 4 1-147 1-125 1 276 1-156 1 17 1-3 1-46 1-24 1 194 1-219 1 31 1 53 1-172 1 61 1 214 1-280 1 218 1-19 1 91 1 40 1-27 1-68 1 359 1-582 1 138 1 156 1-129 1 13 1 134 1-200 1 9 1-109 1 168 1-75 1-94 1 281 1-185 1 10 1 183 1 14 1-345 1 347 1-207 1 83 1 121 1-331 1 216 1-34 1-113 1 14 1 101 1-107 1-3 1 250 1-208 1 275 1-331 1 72 1-133 1 88 1 41 1 3 1-17 1 78 1 137 1-1 1-27 1-260 1 233 1-83 1-147 1 293 1-16 1-41 1 52 1-275 1 133 1 3 1-5 1 159 1-228 1 217 1-31 1-237 1 114 1-57 1 65 1-53 1 110 1-117 1 199 1 4 1-204 1-18 1-123 1 110 1 43 1 58 1 27 1-183 1-77 1 232 1-62 1-58 1 238 1 19 1-298 1 298 1-256 1 360 1-118 1-280 1 192 1 72 1-282 1 74 1-24 1 126 1-195 1 146 1-146 1 84 1 247 1-263 1 14 1-17 1 67 1 199 1-279 1 132 1 123 1 20 1-12 1-191 1 204 1 32 1-28 1-255 1 209 1-153 1 192 1-290 1 305 1-210 1 24 1-24 1 180 1-57 1 109 1-35 1 0 1-269 1 46 1-25 1 70 1 273 1-229 1 140 1-141 1-54 1-10 1-56 1 263 1-253 1 50 1-34 1 88 1 61 1-60 1 100 1-161 1 72 1-71 1 159 1-152 1-8 1-91 1 87 1 82 1-51 1-27 1-56 1 17 1 46 1 200 1-144 1 107 1 4 1-73 1-161 1 143 1-19 1-7 1 137 1-181 1 49 1 251 1-265 1-159 1 55 1 66 1 199 1-39 1 33 1-267 1 266 1-117 1-26 1-50 1-32 1 126 1 83 1-73 1 196 1-305 1 103 1 99 1 0 1-135 1 25 1-109 1-41 1-81 1 137 1 46 1-70 1 233 1-307 1-8 1 23 1 292 1-116 1-176 1 136 1 471 1-363 1-161 1 5 1-65 1 127 1 102 1-205 1 228 1-128 1-50 1-24 1 71 1-54 1 14 1 16 1-149 1 101 1 13 1 203 1-45 1 5 1 18 1-183 1 155 1-148 1-7 1 198 1-28 1-169 1 190 1 12 1-161 1 24 1-104 1 26 1 2 1 62 1 12 1-116 1 99 1 161 1-22 1 14 1-117 1 116 1-4 1-142 1-80 1 79 1-63 1 6 1 147 1-143 1 48 1 149 1-167 1 137 1-285 1 106 1 200 1 13 1-20 1-115 1-4 1 15 1-109 1 88 1 4 1-58 1 104 1 85 1-131 1-123 1 258 1-105 1 112 1-45 1-62 1-113 1-5 1 22 1 180 1-307 1 201 1-91 1 279 1-101 1-287 1 330 1-117 1 61 1 54 1-201 1 189 1-233 1 54 1 150 1 44 1-287 1 93 1-117 1 173 1 183 1-47 1 101 1-386 1 279 1-324 1 325 1-227 1 216 1-278 1 62 1 233 1-148 1-134 1 81 1 205 1-4 1-3 1 3 1-137 1-156 1 88 1 195 1-115 1-76 1 1 1 54 1-70 1-81 1 103 1 188 1-211 1-27 1-38 1 140 1-143 1 282 1-243 1 47 1-83 1 281 1-335 1 333 1-12 1-192 1 32 1 162 1-58 1 127 1-190 1-1 1 133 1-215 1-28 1 2 1 199 1-106 1 10 1-195 1 27 1 295 1 6 1-144 1-30 1 135 1-236 1 261 1 17 1 235 1-461 1 170 1-81 1 127 1 14 1-296 1 286 1-112 1 1 1-74 1 188 1 4 1-197 1 17 1 189 1-4 1-231 1 73 1-69 1 168 1 39 1-203 1 198 1-118 1 690 1-763 1 75 1-36 1 118 1-214 1 278 1-33 1 32 1-9 1-204 1 1 1-100 1-19 1 306 1-286 1-17 1 231 1 90 1-203 1 7 1-49 1 42 1 101 1 90 1-125 1-57 1 193 1-63 1-239 1 166 1 131 1-152 1 28 1-72 1 60 1 148 1-259 1 63 1-142 1 336 1-131 1-3 1-6 1-140 1 230 1-90 1 139 1-199 1 55 1 144 1-37 1-99 1-78 1 213 1-182 1-55 1 90 1 146 1 0 1-264 1 63 1 206 1-44 1-236 1 36 1 35 1 199 1-330 1 314 1-115 1 86 1 77 1-144 1-92 1 76 1-152 1 83 1 1 1 195 1-297 1 302 1-292 1 294 1-186 1 158 1-20 1 52 1-215 1 64 1-185 1 183 1 2 1-52 1-33 1 29 1 202 1-49 1-262 1 23 1-45 1 168 1-61 1 29 1-15 1-83 1 279 1 14 1-61 1-78 1 262 1-378 1-33 1 10 1 142 1-196 1 72 1 234 1-107 1 66 1 55 1 127 1-240 1-131 1 84 1 177 1-132 1-87 1 77 1 53 1 86 1-200 1 271 1-81 1-248 1 137 1 100 1-185 1 289 1-413 1 121 1 65 1 36 1-146 1 105 1 14 1-2 1 131 1-254 1 72 1-8 1 36 1-119 1 11 1 125 1 80 1-79 1-48 1-14 1 193 1-168 1-73 1 48 1 62 1-66 1 9 1 29 1 168 1-289 1 80 1 201 1 81 1-230 1-138 1 232 1-143 1 176 1-28 1-81 1 138 1-238 1 35 1 67 1 18 1 120 1-141 1-60 1 19 1 35 1-103 1-4 1-74 1 117 1-121 1 379 1-174 1 129 1-173 1-43 1-28 1 196 1-317 1 223 1-199 1 328 1-179 1-112 1 254 1-88 1-40 1-127 1 342 1-243 1-128 1 303 1-86 1-164 1 290 1-290 1 48 1 30 1 267 1-280 1 87 1-120 1 51 1-27 1-111 1 111 1-43 1 18 1 205 1 40 1 3 1-197 1-126 1 119 1 243 1-115 1 74 1-130 1-90 1-111 1 130 1 67 1-69 1 65 1 66 1-147 1 207 1-250 1 337 1-77 1-296 1 296 1 5 1-74 1-278 1 347 1-184 1 39 1 128 1-298 1 264 1-228 1 92 1-61 1-35 1 108 1-50 1-52 1 275 1 9 1-197 1 194 1-111 1 173 1-250 1 132 1 52 1-209 1-49 1-4 1 64 1 3 1-65 1 62 1-34 1 232 1-209 1 212 1-31 1-48 1-78 1 162 1-209 1 62 1 134 1 66 1-162 1-45 1 157 1-204 1-31 1 33 1 130 1 59 1-26 1-199 1 178 1-259 1 93 1 78 1 141 1-198 1 205 1-1 1-60 1 54 1-266 1 366 1-313 1 147 1-264 1 199 1-199 1 198 1 134 1 3 1-46 1-91 1-152 1 83 1 175 1-259 1 164 1-27 1-151 1 191 1 64 1 139 1-113 1-17 1-97 1-26 1 146 1-290 1 297 1-193 1 306 1-323 1 20 1-14 1 27 1 127 1-164 1 101 1 8 1 134 1-225 1 68 1-7 1-58 1-87 1-21 1 173 1-63 1 200 1-201 1-32 1 218 1-150 1 155 1-244 1 4 1 306 1-66 1-39 1-144 1 187 1-264 1 220 1 42 1 12 1-252 1 252 1-150 1 135 1-221 1 232 1-39 1-222 1 59 1 201 1-320 1 163 1 15 1-123 1 81 1-81 1 64 1 162 1-162 1-108 1 281 1-132 1-28 1-84 1 129 1 113 1-170 1-71 1 74 1 191 1-279 1 82 1-34 1 243 1-231 1 70 1-115 1 256 1 18 1-151 1-85 1-25 1-22 1 256 1-98 1 123 1-23 1 18 1-121 1-186 1 191 1-56 1-104 1 119 1-45 1-11 1 179 1-184 1 216 1-141 1 114 1-102 1 122 1 9 1-144 1 13 1-75 1 213 1-123 1 111 1-186 1 192 1-224 1 8 1 3 1 220 1-248 1 232 1-177 1-119 1 2 1 164 1 142 1-325 1 298 1 32 1-116 1-111 1 220 1 0 1-126 1-70 1 169 1-17 1-253 1 302 1-38 1-114 1-151 1 225 1 74 1-213 1-54 1 266 1-302 1 133 1 15 1-12 1-32 1-89 1 366 1-216 1 133 1-133 1-17 1 104 1 41 1-24 1-253 1 28 1 264 1-81 1 17 1 54 1-299 1 217 1-113 1 47 1 146 1 8 1-258 1 141 1-84 1 152 1-98 1-63 1 163 1-110 1-122 1 243 1 125 1-295 1-132 1 22 1 308 1-297 1 282 1-140 1-103 1 55 1 13 1 25 1 115 1-78 1 42 1-101 1-54 1 238 1-188 1-3 1 53 1-131 1 139 1-137 1 271 1-151 1 154 1-273 1 93 1 158 1-124 1 148 1-207 1-10 1-59 1 119 1 142 1-184 1 42 1 20 1 138 1-203 1 205 1-55 1-179 1 48 1-36 1 602 1-577 1 140 1-181 1 233 1 2 1-150 1 148 1-301 1 247 1 51 1-218 1 283 1-366 1 362 1-260 1 329 1-267 1-148 1 3 1 287 1-152 1-27 1 27 1-109 1 261 1 7 1-152 1-8 1-117 1 271 1-300 1-37 1 331 1 60 1-194 1 140 1-295 1 291 1-140 1 119 1-114 1 144 1-137 1-79 1 21 1-8 1-9 1-83 1 279 1-298 1 31 1 17 1 115 1 270 1-328 1 6 1 5 1 62 1-174 1 111 1-44 1 40 1 649 1-457 1-133 1-58 1-64 1 112 1 110 1-26 1-139 1-18 1-64 1 166 1 59 1-132 1 137 1 54 1-306 1 130 1-146 1 72 1 211 1 38 1-141 1 5 1-57 1 64 1 121 1-1 1-120 1 21 1 51 1 45 1-36 1-152 1-106 1 113 1 194 1 60 1-289 1 149 1 86 1-216 1 198 1-123 1-6 1 77 1 96 1-167 1 141 1-127 1-141 1 203 1-137 1 57 1-15 1 58 1 55 1-290 1 98 1-39 1 104 1 214 1-49 1-137 1-41 1 183 1-339 1 118 1-31 1-67 1 170 1 242 1-234 1 203 1-260 1-80 1 271 1-190 1-24 1 5 1 313 1-297 1-76 1 269 1-47 1-7 1 48 1-172 1 175 1-159 1-72 1 335 1-91 1-18 1-115 1 131 1-198 1-12 1 58 1 147 1-1 1-277 1 142 1-3 1-135 1 280 1-153 1 150 1-209 1-79 1 256 1-204 1 302 1-120 1-279 1 197 1-158 1 95 1 65 1-11 1 142 1-199 1 7 1 58 1-153 1 54 1-34 1 8 1 130 1 132 1-122 1 120 1 99 1-303 1 162 1 40 1-283 1 76 1 206 1-228 1 236 1-288 1 76 1 59 1 146 1-268 1-11 1 58 1 81 1 109 1-163 1-46 1-32 1 72 1 37 1-11 1 26 1-101 1 153 1 96 1-70 1-153 1-97 1 247 1-83 1 0 1-125 1 277 1-169 1-92 1-56 1 184 1-69 1-57 1 299 1-81 1-202 1 258 1-3 1-3 1-3 1 1 1-21 1-66 1-239 1 20 1 298 1-11 1-256 1 93 1-33 1 80 1-153 1 110 1-118 1 295 1 2 1-10 1-117 1 18 1-165 1-13 1 48 1 98 1 138 1-298 1 325 1-24 1-6 1-16 1-118 1-81 1 17 1 65 1-78 1 177 1-44 1-241 1 122 1-13 1 7 1 6 1-5 1-92 1 155 1-41 1 26 1 125 1-269 1 271 1 6 1-113 1-59 1-8 1 67 1 27 1-30 1-53 1-130 1 215 1 110 1-301 1 95 1-123 1 321 1 109 1-295 1 73 1-76 1-127 1 27 1 105 1 54 1-13 1-53 1 175 1-26 1-125 1-109 1 45 1 243 1-63 1 49 1-96 1 36 1-69 1 140 1-220 1 232 1-15 1-194 1-103 1 32 1 122 1 147 1-266 1 62 1 66 1-191 1 89 1 29 1 34 1 179 1 9 1-341 1 294 1-221 1 132 1-18 1 36 1 106 1-133 1 5 1-138 1 63 1 211 1-85 1-69 1 4 1-126 1-11 1 295 1 36 1-259 1 15 1-1 1-5 1 198 1 8 1-237 1-60 1 200 1 69 1-165 1-62 1 254 1-203 1 158 1 8 1-104 1 137 1 484 1-487 1-195 1 49 1-105 1 60 1 201 1-269 1 275 1-19 1 30 1-183 1 48 1-19 1 71 1-113 1-68 1 243 1-199 1-2 1 289 1-90 1-135 1 138 1-101 1-206 1 281 1-115 1-164 1 1 1 317 1-25 1 2 1-43 1-149 1-80 1 274 1-113 1 114 1-318 1 114 1 207 1-265 1 77 1-87 1 75 1-72 1 261 1-312 1 324 1 624 1-625 1-320 1 319 1-87 1-55 1 140 1 63 1-294 1 21 1 76 1 127 1 0 1-126 1-7 1-79 1 183 1-191 1 79 1 121 1 23 1 5 1-320 1 317 1 8 1-143 1 108 1 108 1-190 1-119 1 58 1-130 1 101 1 65 1-134 1 269 1 9 1-271 1 122 1-64 1 57 1-91 1-20 1 251 1-234 1 154 1-100 1-1 1-31 1 77 1-101 1 369 1-298 1-108 1 74 1 179 1-158 1-27 1-41 1 29 1 122 1 286 1-483 1 155 1-3 1 123 1-110 1-46 1 182 1 7 1-249 1-76 1 291 1-121 1-47 1 190 1 11 1-249 1 201 1 87 1-247 1 76 1-85 1 7 1 167 1-107 1 4 1-65 1 134 1 39 1-197 1 34 1 169 1-280 1 609 1-557 1 60 1 130 1-98 1-55 1 214 1-323 1 321 1-130 1-68 1-90 1 264 1-113 1 145 1-238 1 119 1-19 1-67 1 70 1-5 1-55 1-76 1 265 1-21 1 21 1-201 1 77 1 111 1 31 1-151 1 135 1-262 1 272 1-10 1-89 1-109 1 189 1-119 1 134 1-147 1-66 1 119 1-69 1 158 1 3 1-79 1 80 1-208 1-13 1 74 1 129 1-116 1-139 1 247 1-122 1-90 1 219 1 122 1-158 1 55 1-143 1-46 1 1 1 34 1-128 1 31 1 42 1-83 1 66 1 208 1 19 1-9 1 6 1-295 1 163 1 134 1-208 1 139 1 64 1-132 1-167 1-6 1-2 1 111 1-129 1 183 1-50 1-24 1 23 1 149 1-187 1 258 1-176 1 14 1 47 1-146 1 42 1 188 1-203 1 212 1-235 1-73 1 301 1 9 1-127 1-8 1 123 1-130 1 135 1-129 1-60 1-110 1 175 1 126 1 101 1-291 1 195 1 1 1-143 1 116 1-119 1 137 1 22 1-322 1 173 1 128 1-295 1 156 1-156 1 295 1 8 1-19 1-268 1 284 1-277 1 183 1 99 1-336 1 272 1-192 1 58 1 49 1-8 1 156 1-11 1-254 1 73 1 71 1-31 1-52 1-31 1 119 1-30 1-63 1-125 1 334 1-157 1 153 1 0 1-13 1-254 1 65 1 17 1 100 1-66 1-44 1-8 1 199 1-53 1 25 1-164 1 5 1-42 1-103 1 446 1-160 1-83 1-59 1-120 1 128 1 123 1 58 1-144 1-13 1 156 1-203 1 71 1-176 1 46 1-50 1 117 1 4 1-118 1 179 1-61 1 191 1-33 1-35 1 60 1-130 1-137 1 234 1 41 1-200 1 68 1 133 1-224 1 310 1-388 1 89 1-28 1-82 1 310 1-200 1-60 1 287 1-222 1-2 1 23 1 166 1-119 1 140 1-145 1-157 1 162 1-90 1 175 1-90 1 123 1-168 1-107 1 87 1-65 1 273 1-239 1 157 1-116 1 201 1-139 1-7 1 144 1-127 1-148 1 73 1 65 1 121 1-182 1 61 1-100 1-21 1-22 1-20 1 93 1-49 1 235 1-121 1 1 1 143 1-134 1 135 1-272 1 80 1 200 1-141 1-62 1 163 1 64 1 70 1-107 1-221 1 84 1-91 1 246 1-221 1 78 1-14 1-12 1-159 1 181 1 141 1-323 1 314 1-219 1 45 1 28 1 261 1-118 1-12 1-210 1 219 1-39 1 26 1-120 1-73 1 227 1-57 1 47 1-227 1-17 1 233 1-118 1-27 1-52 1 70 1 78 1-168 1 186 1 109 1-47 1-234 1 81 1 200 1-86 1-183 1 7 1 195 1-334 1 280 1-149 1 201 1-15 1-278 1 24 1 128 1-24 1 124 1-75 1-145 1 256 1-101 1 74 1 27 1 26 1-258 1 73 1 19 1 3 1 84 1 6 1 52 1-1 1-21 1-266 1 156 1-12 1-107 1-73 1 326 1-154 1 7 1 138 1-136 1-127 1 224 1-153 1-13 1 210 1-292 1 6 1 81 1 61 1 2 1 17 1-208 1 130 1 129 1-131 1 7 1 24 1 189 1-209 1-91 1 84 1-5 1-80 1 267 1-46 1-142 1 205 1-5 1-191 1 13 1-130 1 318 1-9 1-264 1-31 1 305 1-78 1-203 1 118 1-51 1 77 1 180 1-150 1-164 1 82 1 42 1-106 1-5 1 94 1-58 1 84 1-97 1 94 1-3 1-40 1-24 1 296 1-327 1 96 1-132 1 16 1 114 1 48 1-45 1 138 1-305 1 10 1 117 1 33 1-181 1 75 1 32 1-47 1 75 1 182 1 6 1-299 1 187 1 61 1 34 1-178" fill="none" stroke="#ec3a3e" stroke-width="4" vector-effect="non-scaling-stroke" stroke-linejoin="bevel" marker-start="url(#Ar)" marker-mid="url(#Ar)" marker-end="url(#Ar)"/>
<rect x="166.4" y="68.2" width="969.6" height="781.9" fill="none" stroke="#000" stroke-width="6.8"/>
<path d="M212.5 831.2V850.1M270.22 840.9V850.1M327.93 831.2V850.1M385.64 840.9V850.1M443.36 831.2V850.1M501.07 840.9V850.1M558.79 831.2V850.1M616.5 840.9V850.1M674.22 831.2V850.1M731.94 840.9V850.1M789.65 831.2V850.1M847.37 840.9V850.1M905.08 831.2V850.1M962.8 840.9V850.1M1020.51 831.2V850.1M1078.22 840.9V850.1" stroke="#000" stroke-width="6.7"/>
<g font-family="'Liberation Serif','Times New Roman',serif" font-weight="bold" font-size="40"><text transform="translate(212.5 901) scale(1 1)" text-anchor="middle">0</text><text transform="translate(327.93 901) scale(1 1)" text-anchor="middle">500</text><text transform="translate(443.36 901) scale(1 1)" text-anchor="middle">1000</text><text transform="translate(558.79 901) scale(1 1)" text-anchor="middle">1500</text><text transform="translate(674.22 901) scale(1 1)" text-anchor="middle">2000</text><text transform="translate(789.65 901) scale(1 1)" text-anchor="middle">2500</text><text transform="translate(905.08 901) scale(1 1)" text-anchor="middle">3000</text><text transform="translate(1020.51 901) scale(1 1)" text-anchor="middle">3500</text><text transform="translate(1135.94 901) scale(1 1)" text-anchor="middle">4000</text><text transform="translate(147 815.97) scale(1 1)" text-anchor="end">0</text><text transform="translate(147 682.27) scale(1 1)" text-anchor="end">20</text><text transform="translate(147 548.57) scale(1 1)" text-anchor="end">40</text><text transform="translate(147 414.87) scale(1 1)" text-anchor="end">60</text><text transform="translate(147 281.17) scale(1 1)" text-anchor="end">80</text><text transform="translate(147 147.47) scale(1 1)" text-anchor="end">100</text></g>
<text font-family="'Liberation Serif','Times New Roman',serif" font-weight="bold" font-size="38.7" text-anchor="middle" transform="translate(43.7 458.7) rotate(-90) scale(1 1)">Peak Shear Strength/KPa</text>
<text font-family="'Liberation Serif','Times New Roman',serif" font-weight="bold" font-size="38.8" text-anchor="middle" transform="translate(699.2 955.1) scale(1 1)">Sample number</text>
<path d="M209.9 121H310.2" stroke="#4d4d4d" stroke-width="4"/>
<ellipse cx="260" cy="121" rx="9.6" ry="9.6" fill="#fff" stroke="#000" stroke-width="1.8"/>
<text font-family="'Liberation Serif','Times New Roman',serif" font-weight="bold" font-size="39.3" transform="translate(311.2 139.2) scale(1 1)">Measured value</text>
<path d="M209.9 183H310.2" stroke="#ec3a3e" stroke-width="4"/>
<ellipse cx="260" cy="183" rx="9.6" ry="9.6" fill="#fff" stroke="#f00" stroke-width="1.8"/>
<text font-family="'Liberation Serif','Times New Roman',serif" font-weight="bold" font-size="39.3" transform="translate(311.2 201) scale(1 1)">Predictive value</text>
<text font-family="'Liberation Serif','Times New Roman',serif" font-size="56.7" text-anchor="middle" x="656.1" y="1059.2">BPNN</text>
<text font-family="'Liberation Sans',Arial,sans-serif" font-weight="bold" font-size="49.5" x="13" y="47">A</text>
<rect x="576.2" y="1042" width="1.8" height="6.8" fill="#9a9a9a"/>
<defs>
<marker id="Bk" markerUnits="userSpaceOnUse" viewBox="-14 -14 28 28" markerWidth="122.79" markerHeight="42.3" preserveAspectRatio="none" overflow="visible"><circle r="6.9" fill="#fff" stroke="#000" stroke-width="1.5"/></marker>
<marker id="Br" markerUnits="userSpaceOnUse" viewBox="-14 -14 28 28" markerWidth="122.79" markerHeight="42.3" preserveAspectRatio="none" overflow="visible"><circle r="6.9" fill="#fff" stroke="#f00" stroke-width="1.5"/></marker>
</defs>
<path transform="translate(1537.2 799.5) scale(0.22803 -0.6619)" d="M0 92l1 204 1 46 1-315 1 45 1-64 1-3 1 61 1 262 1-257 1 31 1 240 1-180 1 14 1 113 1-244 1 73 1 182 1-208 1-75 1 125 1 125 1 56 1-259 1-46 1 137 1-139 1 41 1 8 1 55 1-18 1-4 1 166 1-184 1-76 1 24 1 135 1 172 1-36 1-181 1-108 1 295 1 43 1-328 1 48 1-51 1 117 1-7 1 163 1-212 1 29 1 313 1-414 1 122 1-103 1 381 1-272 1-52 1-26 1 34 1-1 1 208 1 0 1-149 1 34 1-28 1-16 1 176 1-174 1-51 1 721 1-789 1 113 1-18 1-23 1 43 1-86 1 312 1-224 1-104 1 162 1 41 1-235 1 94 1 20 1 145 1 117 1-341 1 81 1-88 1 224 1-30 1 52 1-153 1-78 1 223 1-195 1 39 1 25 1-112 1 290 1-58 1-141 1-15 1 49 1-145 1 120 1-21 1-31 1 179 1 38 1-163 1 18 1-125 1 212 1-137 1 30 1-10 1 175 1-239 1 27 1 200 1-124 1-29 1-91 1 246 1-205 1 49 1 219 1-112 1-139 1 224 1-221 1 74 1 147 1-196 1-8 1 154 1-173 1 235 1-188 1 25 1-54 1 142 1-235 1-4 1 239 1-66 1 125 1-232 1 219 1-254 1 268 1-227 1 275 1-104 1 52 1-279 1 308 1-199 1-124 1 234 1-111 1 255 1-146 1-128 1 33 1 163 1-3 1-298 1 295 1-221 1 236 1-97 1 80 1-161 1 168 1-25 1-192 1 158 1-108 1 162 1-27 1-214 1 35 1 77 1 86 1-111 1-126 1 42 1 4 1-68 1 101 1 6 1 25 1 151 1-209 1-70 1 311 1 72 1-110 1-182 1 241 1-277 1 51 1 30 1-57 1 22 1-105 1 31 1 225 1-209 1 277 1-239 1 231 1-228 1 151 1 97 1-239 1 22 1 194 1-189 1 180 1-161 1 1 1-29 1 117 1 9 1-100 1-49 1-34 1 58 1-13 1 202 1-208 1 2 1 3 1 245 1-265 1-57 1 213 1 68 1-215 1 25 1 206 1-163 1-91 1 150 1-199 1 279 1-139 1-162 1 326 1-259 1 241 1 14 1-199 1 39 1 53 1 104 1-277 1 91 1-129 1 87 1 114 1-151 1-25 1-14 1 95 1-9 1-17 1 56 1-22 1-42 1 22 1 157 1-241 1 151 1 93 1-186 1 128 1-113 1-76 1 96 1-3 1 3 1-90 1 249 1-115 1-99 1 123 1-173 1 130 1-132 1 133 1 2 1-5 1 116 1-10 1-77 1-150 1 309 1-166 1-135 1 74 1-56 1-9 1 43 1 39 1-84 1 275 1-188 1-63 1-11 1 76 1-47 1-48 1 301 1-9 1-6 1-193 1 151 1 62 1-264 1 210 1 43 1-259 1 53 1 62 1-73 1-55 1 58 1 252 1-309 1 62 1-74 1 103 1-131 1 89 1 202 1 36 1 5 1-103 1-153 1-10 1 183 1-190 1 148 1-77 1-132 1 72 1 112 1 161 1-173 1 138 1 10 1-31 1 19 1-16 1-227 1 210 1-157 1-116 1 321 1-264 1 10 1 28 1 13 1-24 1 8 1-55 1 107 1 166 1-309 1 243 1-121 1-104 1 68 1 189 1-191 1 160 1 73 1-311 1 7 1 271 1-76 1-72 1 188 1-323 1 203 1 104 1-307 1 48 1-52 1 345 1-228 1 61 1-82 1 302 1-135 1-86 1-42 1 144 1-220 1 246 1-243 1-34 1 14 1 86 1-129 1 71 1 60 1-104 1 236 1-48 1-208 1 247 1-158 1 206 1-123 1 58 1-108 1 200 1 7 1-62 1-211 1 141 1-47 1 157 1 65 1-60 1-218 1 51 1-133 1 0 1 104 1 102 1-77 1-34 1 45 1 120 1-136 1-10 1-71 1-63 1 40 1 237 1-217 1 47 1-24 1 74 1-49 1 151 1 13 1-23 1-84 1 168 1-312 1 37 1 206 1-131 1 183 1-272 1 227 1-128 1-127 1 221 1-63 1-48 1-96 1 271 1 19 1-194 1-21 1 262 1-235 1-48 1 185 1-154 1 195 1-293 1 130 1-73 1 29 1-65 1 52 1 14 1 64 1-40 1-111 1-17 1 336 1-174 1-98 1 214 1 47 1-315 1 58 1-68 1 94 1-83 1 72 1 88 1-139 1 294 1-232 1 147 1-208 1 254 1 47 1-57 1-184 1 74 1-72 1-39 1 269 1-68 1-199 1 91 1 79 1 42 1 85 1-272 1 212 1-116 1-70 1 183 1-133 1 132 1-146 1-131 1 80 1 264 1-217 1-141 1 53 1 67 1 6 1-25 1-91 1 98 1-3 1 70 1 106 1-205 1 180 1-162 1 177 1 17 1-189 1 9 1-25 1 242 1-281 1-27 1 84 1 58 1 39 1-193 1 192 1 38 1 94 1 16 1-184 1-142 1 260 1-199 1-75 1 336 1-216 1-39 1 73 1 155 1-206 1-8 1 22 1-76 1 5 1 65 1-90 1-21 1 264 1-261 1 256 1-94 1-76 1 256 1-50 1 30 1-309 1 163 1 134 1-200 1-3 1 12 1 27 1-127 1 139 1-165 1 102 1 147 1 83 1-24 1-77 1-133 1 195 1 84 1-53 1-81 1-141 1 187 1-194 1-69 1 10 1 67 1-86 1 283 1-276 1 43 1 17 1 211 1-263 1 115 1 260 1-369 1 194 1-206 1 45 1 16 1 14 1 209 1-85 1 9 1 503 1-652 1 102 1 134 1-27 1 41 1-329 1 75 1 80 1 33 1-43 1 98 1-96 1-61 1 30 1-46 1 253 1-315 1 108 1 8 1-65 1 82 1-123 1 83 1 36 1 163 1-11 1-106 1-96 1 238 1 8 1-333 1 305 1-45 1-178 1 63 1 119 1 62 1-195 1-136 1 14 1-5 1-2 1 339 1-253 1 71 1 16 1 68 1 142 1-272 1-104 1 374 1-48 1 510 1-679 1 172 1-345 1 19 1 320 1-175 1-98 1 262 1-176 1-45 1 160 1-261 1 19 1 12 1 14 1-32 1 300 1-286 1 92 1 161 1-255 1 254 1-159 1 4 1-78 1-4 1 244 1-220 1 255 1-180 1-33 1-98 1 152 1 80 1 57 1-299 1 6 1 127 1-133 1 312 1-182 1 197 1-311 1 305 1 1 1-318 1 191 1-72 1 91 1-86 1 18 1-44 1-60 1 69 1-51 1-21 1 158 1 114 1-161 1-81 1-52 1 227 1 6 1-72 1-14 1-82 1-36 1 16 1 10 1 88 1 157 1-315 1 52 1 30 1 170 1-27 1 55 1-182 1 226 1-49 1-273 1 74 1 143 1-159 1 54 1-45 1 77 1-6 1-13 1-46 1-24 1 60 1-99 1 146 1-48 1-96 1 65 1 247 1-183 1 127 1-55 1 43 1-263 1 353 1-103 1 101 1-296 1 192 1-141 1-77 1 201 1 102 1-64 1 46 1-268 1 217 1 58 1-314 1 113 1-45 1 175 1-237 1 46 1-45 1 101 1-94 1 34 1 319 1-365 1 130 1-63 1 52 1-60 1 212 1-127 1 89 1 69 1-209 1-28 1-67 1 290 1-48 1-186 1-65 1 12 1 23 1 224 1-51 1 114 1-188 1-138 1 205 1 124 1-277 1 44 1 2 1-86 1 18 1 75 1-41 1 2 1 38 1 217 1-193 1-55 1 53 1 61 1-71 1-83 1 319 1-245 1-84 1 213 1 81 1-303 1 102 1 187 1-28 1-165 1 208 1-46 1-135 1-101 1 97 1-132 1 258 1 60 1-296 1 324 1-214 1-7 1-123 1 11 1 258 1 5 1-154 1-75 1 26 1-9 1-40 1 51 1 195 1-271 1 3 1 123 1-60 1 218 1 27 1-312 1 127 1 192 1-1 1-253 1-59 1 222 1-126 1-92 1 378 1-325 1 128 1-45 1 19 1 132 1-153 1-33 1 181 1-129 1 233 1-223 1-36 1-23 1 229 1-326 1 242 1-182 1 160 1-96 1-5 1 107 1-116 1-39 1-84 1 69 1 83 1-53 1 184 1-239 1 240 1-158 1 191 1-98 1 154 1-119 1-144 1-105 1 92 1-24 1-29 1 243 1-190 1 177 1-152 1-109 1 82 1-79 1 69 1 185 1-269 1 269 1-174 1 32 1 642 1-453 1-236 1 9 1 16 1-12 1-49 1 54 1-91 1 147 1-150 1 259 1-262 1 322 1-74 1 67 1-47 1-264 1 319 1-195 1-19 1-30 1 38 1 3 1 122 1-121 1 138 1 11 1 8 1 24 1-10 1-279 1 305 1-216 1 24 1-75 1-58 1 155 1-42 1 211 1-7 1-142 1-20 1-103 1 139 1-94 1 198 1-38 1-247 1 33 1-35 1 61 1 261 1-7 1-192 1 10 1-68 1 31 1 36 1 19 1-2 1 220 1-268 1-84 1 166 1-176 1 23 1-32 1-1 1 396 1-219 1 102 1 41 1-227 1 208 1-164 1-62 1 218 1-29 1-67 1-124 1 1 1 236 1 47 1-346 1 149 1-158 1 14 1 159 1-143 1-35 1 56 1-19 1 128 1-78 1 169 1-232 1 248 1-96 1-105 1 211 1-170 1-49 1 12 1-60 1 115 1-114 1 52 1-10 1 216 1-172 1 203 1-236 1 32 1-81 1-3 1 283 1-17 1-232 1-18 1 53 1 181 1 38 1-163 1-53 1 226 1-242 1 241 1 30 1-109 1-217 1 317 1-264 1 196 1 32 1 92 1-73 1-114 1 55 1-173 1 39 1 252 1-364 1 81 1 177 1 26 1-198 1 157 1-197 1-39 1 102 1 7 1-18 1 143 1-171 1-29 1 251 1-205 1 10 1-112 1 142 1-35 1 256 1-218 1-34 1 13 1-15 1 75 1-134 1 229 1-279 1 95 1 62 1 124 1 23 1-124 1 93 1-153 1-40 1-36 1 68 1 45 1 117 1-51 1-124 1-45 1 162 1-215 1 26 1 31 1-49 1 183 1-112 1 327 1-310 1 216 1-275 1 259 1 34 1-260 1 52 1-51 1 203 1 111 1-297 1 170 1-245 1 312 1-185 1 1 1 194 1-156 1 40 1-77 1-34 1-4 1 39 1-143 1 106 1-77 1 294 1-287 1 203 1-238 1 161 1-125 1 92 1-104 1 111 1 151 1-262 1-16 1 339 1 3 1-342 1 296 1-153 1 133 1-282 1 316 1-52 1-251 1 205 1-216 1 257 1-7 1-112 1 196 1-236 1-98 1 318 1 5 1-281 1 191 1-121 1-113 1 268 1-227 1 15 1-1 1 284 1-320 1 307 1-263 1 17 1 37 1 51 1-63 1 26 1 44 1-64 1 160 1-237 1 387 1-293 1-100 1 108 1 109 1-129 1-21 1-94 1 113 1-30 1 22 1 129 1 65 1-75 1-125 1-102 1 289 1-2 1-188 1-2 1 241 1-266 1 17 1 28 1-26 1-75 1 76 1 28 1-1 1-3 1-99 1 234 1-161 1 42 1 271 1-285 1 0 1-72 1 66 1 83 1 102 1-243 1 81 1-45 1 217 1-74 1-48 1 157 1-170 1 183 1-263 1-44 1 275 1-148 1-121 1 184 1 56 1-116 1-77 1-82 1 320 1-237 1 235 1 27 1-248 1-115 1 290 1-146 1-24 1-105 1 174 1-170 1 247 1-123 1-146 1 95 1 81 1 16 1-188 1 320 1-324 1 108 1-89 1 261 1-274 1 387 1-84 1-49 1 29 1 68 1-254 1 49 1-47 1 110 1-97 1 29 1 127 1 47 1-196 1 7 1-97 1-9 1 322 1-38 1-307 1 35 1 81 1-46 1 85 1 159 1-232 1 251 1-325 1 336 1-211 1-32 1 15 1 30 1-44 1 7 1-97 1 5 1-16 1 320 1-304 1 283 1-292 1 104 1 47 1-63 1 19 1-115 1-5 1 282 1-275 1 127 1-113 1 95 1 183 1-208 1 183 1-152 1-91 1 69 1-59 1 126 1-18 1 188 1-12 1-175 1-27 1 6 1 157 1-116 1 72 1 26 1 138 1-100 1-195 1 232 1-339 1 116 1 208 1-74 1-248 1 2 1 99 1 225 1-233 1-98 1 161 1 25 1 116 1-164 1 178 1-297 1-2 1 32 1 306 1-98 1 63 1 10 1-161 1 123 1-146 1 137 1-188 1 2 1 207 1-278 1 345 1-274 1 173 1-245 1 269 1-199 1-71 1 50 1-70 1 65 1 243 1-194 1 20 1-113 1 103 1-39 1 53 1 20 1 10 1-46 1-113 1 80 1-12 1 32 1 214 1-21 1-76 1-175 1 276 1-178 1 145 1 22 1-34 1-192 1 5 1-22 1 164 1-237 1 30 1 84 1-94 1 82 1 222 1-308 1-6 1-14 1 188 1 61 1-246 1 303 1-272 1 63 1-72 1 47 1 32 1 169 1 38 1 9 1-1 1-194 1 106 1-195 1 40 1 160 1-164 1 336 1-349 1-23 1 48 1 249 1-177 1-75 1 70 1 164 1-312 1 151 1-26 1 50 1-102 1 21 1 47 1-141 1 12 1 67 1-63 1 211 1-131 1 90 1 180 1-291 1 62 1 183 1-320 1 51 1-3 1 84 1-17 1 2 1 17 1-131 1 11 1 125 1 202 1-344 1 149 1 180 1-93 1 54 1-121 1-66 1-21 1-7 1 33 1 232 1-274 1 19 1-15 1-39 1 171 1 39 1-166 1 65 1 30 1 148 1-288 1-17 1 259 1-119 1-58 1-44 1 24 1 167 1-42 1-185 1 286 1-302 1 12 1 253 1-236 1 212 1-134 1 214 1-304 1 4 1 245 1-139 1-30 1-76 1 230 1-241 1 167 1 115 1-147 1-15 1-68 1 224 1-111 1-41 1 17 1-70 1-79 1 240 1-189 1 239 1-121 1 141 1-249 1-41 1 287 1-217 1 58 1 159 1-293 1 3 1 21 1 113 1 176 1 12 1-6 1-176 1 138 1-260 1 136 1-112 1 762 1-480 1-53 1 38 1-189 1-15 1 111 1 7 1-150 1 39 1 180 1-138 1-70 1 186 1-175 1 2 1-18 1 217 1-1 1-249 1 29 1 21 1-97 1 271 1 5 1 0 1 2 1-187 1-12 1 208 1-176 1-94 1 270 1-43 1-183 1 21 1-74 1 277 1-279 1 284 1-277 1 268 1-272 1-7 1 273 1-221 1-65 1 316 1-238 1 58 1 189 1-177 1 102 1-2 1 26 1-150 1 92 1-218 1 126 1 38 1-50 1 43 1 108 1-156 1 153 1 40 1-73 1-214 1 15 1 242 1-218 1 264 1-192 1 196 1-286 1 17 1 55 1-107 1 187 1-142 1-18 1 23 1-7 1 12 1 76 1-114 1 0 1 89 1-31 1 47 1 90 1 146 1-44 1-213 1 191 1-204 1-77 1 83 1-32 1-43 1 74 1 10 1-81 1 103 1 65 1-61 1 176 1-301 1 144 1-129 1 210 1-149 1 47 1-58 1 82 1-46 1-86 1 298 1-45 1-122 1 172 1-300 1 73 1 185 1 81 1-51 1-300 1 391 1-323 1-57 1 193 1 136 1-227 1-90 1 103 1-89 1 50 1 65 1-29 1 14 1-80 1-37 1 130 1-72 1-44 1 288 1-174 1-63 1 108 1-156 1-30 1 98 1 255 1-259 1-92 1-21 1 25 1 36 1 61 1-43 1-59 1 98 1 45 1-52 1 158 1 25 1-237 1 214 1-134 1-31 1-81 1 6 1 57 1 94 1 129 1-16 1-189 1 203 1-302 1 10 1 231 1 73 1-247 1 39 1-21 1-83 1 90 1 66 1 148 1-278 1-23 1 12 1 58 1 82 1-14 1-151 1 25 1 148 1 91 1-233 1 45 1 158 1-235 1 333 1-262 1 261 1-109 1 108 1-87 1-200 1 197 1-184 1 95 1-49 1 212 1-306 1 9 1 117 1 3 1-41 1 40 1 161 1-221 1-72 1 54 1 246 1-268 1 147 1-13 1-151 1 38 1 56 1 221 1-37 1-290 1 43 1 32 1 281 1-296 1 158 1-171 1-37 1 269 1-209 1 232 1-1 1-230 1 191 1-17 1 16 1-205 1 33 1 21 1 150 1 0 1-181 1-65 1 127 1-33 1 214 1-160 1-19 1 149 1 35 1-328 1-5 1 262 1-256 1 73 1 271 1-280 1 224 1-138 1 123 1 16 1-294 1 291 1-190 1 58 1 175 1 7 1-283 1 320 1-73 1-165 1-74 1 25 1 0 1 77 1-98 1 258 1-246 1 30 1-107 1 12 1 28 1 61 1 231 1-183 1 162 1-152 1-138 1-15 1 295 1-291 1 102 1-44 1 263 1-323 1 6 1 24 1 87 1 203 1-24 1-23 1 60 1-193 1 19 1 131 1-291 1 31 1 57 1-62 1 70 1-1 1-66 1 74 1 60 1-24 1-41 1-37 1-17 1 46 1-47 1-55 1 159 1-3 1-82 1-52 1-11 1 290 1-281 1-22 1 203 1 78 1 52 1-117 1 54 1-201 1 79 1-39 1-83 1 96 1-107 1 276 1-163 1-109 1 82 1 239 1-337 1 106 1-35 1-8 1 211 1-122 1-12 1 119 1-254 1 112 1-70 1 47 1 233 1-33 1-36 1-255 1 416 1-251 1 99 1-176 1 148 1-169 1 137 1-74 1-52 1-51 1 272 1 33 1-213 1 197 1-134 1-125 1 235 1-179 1-51 1-8 1-63 1 75 1 9 1-84 1 60 1 343 1-303 1-88 1 143 1 179 1-330 1 118 1-26 1 71 1-79 1 63 1 132 1-207 1 77 1-47 1-105 1 163 1-86 1-72 1 36 1 53 1-17 1-71 1 91 1 295 1-63 1-323 1 21 1 131 1 170 1-20 1-180 1 29 1-39 1 64 1-162 1 134 1-11 1 144 1 1 1-204 1 67 1-76 1 60 1-50 1-76 1 291 1-220 1 178 1-13 1-171 1-6 1-2 1 32 1 129 1-88 1-48 1 55 1-106 1 215 1-179 1-13 1 191 1 1 1 49 1-167 1-57 1 190 1-5 1-163 1-97 1 49 1 76 1 42 1 162 1-53 1-260 1 70 1 16 1 25 1-20 1-13 1 218 1-196 1-33 1-49 1 271 1-206 1 206 1 6 1-169 1 229 1-233 1 191 1-7 1-26 1-153 1 177 1-271 1 27 1 206 1 27 1-233 1 75 1-72 1-11 1 193 1-207 1 351 1-134 1-135 1-122 1 281 1-295 1 112 1-92 1 96 1-103 1 302 1-302 1 260 1-90 1-108 1 149 1 18 1-140 1 70 1 569 1-400 1-246 1-94 1 254 1-172 1 41 1-68 1 51 1 121 1-212 1 32 1 211 1-117 1 177 1-94 1 40 1-145 1-19 1 18 1 181 1-220 1 186 1-128 1-123 1 313 1-203 1 9 1-40 1 28 1 74 1-69 1 131 1-215 1-46 1 261 1 63 1-249 1 198 1-252 1 276 1-69 1 37 1-9 1-251 1 74 1-37 1 51 1 246 1-142 1-197 1 121 1-100 1 75 1 37 1-123 1 116 1-9 1-71 1-22 1 50 1-73 1 235 1-207 1 290 1-175 1 233 1-279 1 107 1-60 1-13 1 1 1 124 1-141 1 21 1 215 1-64 1 102 1-309 1 59 1-27 1 190 1 33 1-18 1-243 1 259 1-219 1 201 1-302 1 268 1 37 1-208 1 51 1-134 1 231 1-242 1 223 1 35 1-5 1 35 1-10 1-289 1 330 1-13 1-266 1 202 1 43 1-293 1 17 1 6 1 65 1-19 1 196 1-165 1-22 1-46 1 73 1-112 1 135 1-94 1-36 1 103 1-69 1-31 1 107 1 716 1-619 1 93 1-287 1 97 1-107 1 23 1 289 1-212 1-31 1 66 1-128 1-8 1 68 1 252 1-81 1 69 1-194 1-121 1 258 1-74 1-163 1-8 1 280 1-233 1 123 1-11 1-165 1 76 1-73 1 332 1-223 1 86 1-178 1 55 1 35 1 141 1-241 1 69 1 181 1-229 1 255 1-293 1 76 1 264 1-92 1-229 1 298 1 12 1-66 1-132 1-121 1 36 1 77 1-100 1 119 1-50 1 153 1-250 1 339 1 43 1-287 1 23 1-39 1-78 1 159 1-42 1 199 1-163 1 82 1-165 1 40 1-35 1 68 1-105 1 75 1-86 1 72 1-4 1 212 1-284 1 109 1-39 1 58 1-126 1 26 1 162 1-202 1 157 1-80 1 75 1-38 1 180 1 17 1-234 1-40 1 56 1-69 1 290 1-237 1-19 1 74 1 166 1-232 1-62 1 81 1 56 1-55 1 29 1-39 1-62 1 42 1 269 1-70 1-132 1-31 1 21 1-102 1 271 1-191 1 154 1-221 1 73 1-89 1 125 1-121 1 62 1-63 1-11 1 150 1-135 1 129 1-137 1 273 1 15 1-185 1-112 1-2 1 17 1 39 1 53 1-92 1 293 1-269 1 2 1 296 1-209 1 0 1-103 1 213 1 118 1-55 1-65 1-136 1-44 1 107 1-2 1 71 1-172 1 49 1 118 1 133 1-353 1 344 1-189 1 156 1-114 1 123 1-295 1 19 1 27 1 40 1 1 1 26 1-140 1 3 1 222 1-16 1 25 1-184 1 102 1-150 1 314 1-252 1 6 1 137 1-104 1-98 1 153 1 65 1 171 1-333 1 51 1 172 1-14 1-229 1 215 1-268 1 59 1 89 1-74 1-60 1 308 1-299 1 108 1 0 1-25 1 54 1-88 1 103 1 166 1 38 1-227 1 86 1-220 1 315 1-242 1 200 1-203 1 23 1 6 1-31 1 217 1 86 1-317 1 260 1-297 1 214 1-188 1-40 1 45 1 190 1-165 1 25 1-26 1 158 1-93 1 142 1-180 1 118 1 63 1 0 1-186 1-52 1 212 1-207 1 45 1-22 1 39 1 10 1-21 1-96 1 69 1 1 1 62 1-18 1-77 1 27 1-8 1 160 1-165 1 176 1-53 1-71 1 183 1-228 1-3 1-30 1 58 1-10 1 3 1-66 1 73 1 126 1-114 1-114 1 130 1-2 1 178 1-207 1 8 1 208 1-157 1 74 1-185 1 49 1-73 1 129 1-91 1-50 1 263 1-263 1 106 1-118 1 323 1-224 1 123 1 94 1-274 1 88 1-110 1 63 1 73 1-97 1 250 1-134 1 140 1-84 1-133 1-19 1-7 1 8 1 202 1-266 1 54 1-58 1 119 1-119 1 218 1 22 1-200 1 132 1 107 1-51 1 172 1-258 1-105 1 274 1 249 1-556 1 93 1 170 1-246 1-28 1 137 1 126 1-150 1 7 1-3 1-2 1 184 1-137 1-77 1-36 1 248 1-219 1-36 1 190 1 116 1-345 1 304 1-251 1 217 1-263 1 87 1 190 1-222 1 77 1-90 1 110 1-21 1 158 1 79 1-169 1-2 1-195 1 68 1 146 1 116 1-261 1-70 1 363 1-60 1-29 1 0 1-189 1 50 1-32 1 40 1 112 1 7 1-172 1-83 1 254 1-27 1-181 1-56 1 211 1 128 1-63 1-134 1 169 1-82 1-177 1 40 1 3 1 22 1-46 1 81 1-22 1-127 1 239 1 58 1 22 1-183 1 114 1 50 1-51 1 96 1-257 1 215 1 6 1 15 1 42 1-242 1 215 1-104 1-243 1 339 1-246 1-68 1 84 1 203 1-2 1-301 1 75 1 216 1-7 1-94 1-150 1 267 1-320 1 306 1-231 1 218 1-292 1 379 1-146 1-87 1 178 1-231 1 271 1-367 1 1 1 338 1-327 1 248 1 8 1-197 1 22 1 180 1-173 1 176 1-121 1 136 1-172 1 201 1-278 1 271 1-189 1-13 1 191 1-194 1-62 1-39 1 115 1-73 1 89 1-15 1-104 1 294 1-318 1 25 1 213 1-103 1 41 1-24 1-5 1-37 1 19 1-113 1 10 1 112 1-93 1 319 1-251 1-96 1 0 1 132 1-14 1-123 1 320 1-162 1-143 1-26 1 141 1 170 1-1 1 1 1 26 1-53 1-172 1-111 1 150 1-74 1 63 1 162 1 45 1-25 1 16 1-233 1-96 1 325 1-228 1 281 1-310 1 154 1 11 1-161 1 224 1 38 1-119 1-66 1-35 1-1 1-116 1 6 1 52 1 234 1-213 1 303 1-107 1-278 1 10 1 148 1-56 1 34 1 153 1-267 1 107 1-5 1 167 1-255 1 40 1 264 1-322 1 49 1 214 1-175 1 132 1-158 1 327 1-399 1 117 1-7 1-12 1 59 1-28 1 21 1-157 1 126 1-28 1-98 1 142 1 181 1-289 1 2 1 264 1-278 1 99 1-76 1-22 1 274 1-176 1 211 1-244 1-78 1 112 1-25 1 192 1-260 1 84 1 135 1 33 1-272 1 273 1-271 1 101 1-66 1 94 1-48 1 68 1 133 1-233 1 179 1-120 1-111 1 72 1 15 1-93 1 316 1 68 1-311 1-16 1 316 1-311 1 74 1-45 1 188 1-107 1 253 1-391 1 237 1-192 1 6 1 68 1-154 1 28 1-9 1 309 1-88 1-170 1 269 1-284 1 14 1-68 1 129 1 247 1-113 1-206 1 241 1-232 1 239 1-173 1 173 1 534 1-843 1 38 1-28 1 66 1 235 1-312 1 51 1-34 1 258 1-265 1 144 1 198 1-43 1-236 1 183 1-142 1-53 1 236 1-222 1 232 1-249 1 223 1-153 1-23 1 117 1-114 1-19 1 47 1 121 1-253 1 300 1-112 1-42 1-45 1 155 1-188 1-63 1 169 1 0 1 145 1-31 1 8 1 117 1-140 1-154 1-80 1 48 1 165 1 30 1-11 1-276 1 314 1-191 1 15 1-44 1-13 1 50 1-18 1 215 1-181 1 35 1-75 1-50 1 68 1 11 1 271 1-330 1 258 1-67 1-141 1 194 1-58 1 13 1 42 1-237 1 184 1-196 1 83 1 130 1-101 1-176 1 77 1 57 1 175 1-200 1-41 1 168 1-99 1 4 1-18 1-117 1 7 1 297 1-253 1 269 1-232 1 210 1-219 1 134 1-78 1-145 1 148 1 187 1-132 1-147 1 30 1 52 1-88 1 82 1 41 1-28 1-17 1-123 1 108 1-28 1 303 1-300 1 21 1-96 1 313 1-255 1-58 1 233 1-44 1-176 1 138 1-19 1-37 1-49 1 61 1 291 1-29 1-298 1 62 1 178 1-92 1-233 1 133 1 100 1 26 1-187 1 294 1-341 1 280 1-179 1-31 1 21 1 205 1-159 1-140 1 104 1 58 1-108 1-53 1 76 1 212 1 9 1-211 1 3 1 296 1 22 1-64 1-20 1-330 1 144 1 149 1-42 1 34 1-207 1 214 1-288 1 117 1 21 1-150 1 102 1 229 1-54 1-154 1 115 1-238 1 349 1-285 1-63 1 86 1-77 1 59 1 34 1 236 1-340 1 126 1 194 1-85 1 81 1-228 1 177 1 66 1-324 1 269 1-182 1 29 1-67 1 43 1 184 1 16 1-214 1-89 1 338 1-12 1-99 1 82 1-36 1-228 1 331 1-39 1-2 1-286 1 179 1-63 1-162 1 143 1 91 1 102 1-334 1 334 1-247 1-93 1 72 1 217 1-201 1-73 1 72 1 229 1 41 1-248 1 6 1 32 1 121 1-169 1 207 1-198 1 15 1-102 1 18 1-17 1 49 1-59 1 9 1 180 1-179 1 248 1 31 1-87 1 72 1 11 1-166 1 161 1-21 1-136 1 149 1-216 1 5 1 154 1 11 1-125 1 22 1-124 1 75 1-61 1 282 1-298 1 83 1-23 1 238 1-170 1 187 1-166 1 112 1-191 1 69 1 163 1-168 1 164 1-191 1 199 1-303 1 124 1-8 1-131 1 30 1 276 1-184 1-65 1 57 1-89 1 314 1-225 1-46 1 321 1-84 1-287 1 309 1-80 1-232 1 89 1-84 1 297 1-19 1-49 1-107 1 190 1-184 1-54 1 50 1-6 1 148 1-58 1-88 1-71 1-16 1 273 1-274 1 29 1 209 1-118 1 127 1-287 1 274 1-277 1 0 1 140 1 1 1-140 1 290 1-292 1 270 1-118 1-20 1 176 1-259 1 273 1-316 1 189 1-90 1 11 1-20 1-10 1 57 1 22 1 104 1-254 1 295 1-296 1-1 1-17 1 312 1 45 1-274 1 22 1-86 1-20 1 132 1 263 1-60 1-313 1 54 1-33 1 284 1-223 1 168 1-226 1-27 1 88 1 192 1-209 1 212 1-222 1-34 1 242 1-68 1-214 1 57 1 232 1-207 1-1 1 226 1-62 1-142 1-29 1-10 1 335 1-319 1 184 1-199 1 250 1-202 1 201 1-209 1 154 1-223 1 269 1-172 1-114 1 330 1-35 1-49 1 46 1-94 1 73 1-227 1 93 1 163 1 24 1-349 1 23 1 117 1 186 1-272 1 320 1-47 1-18 1-124 1 124 1-260 1 116 1 77 1-224 1 83 1 190 1-138 1-47 1 197 1-100 1 206 1-303 1 52 1-48 1-88 1-11 1 119 1 12 1 247 1-259 1-124 1 144 1-45 1-10 1 297 1-58 1-316 1 237 1 49 1-185 1 173 1 6 1-21 1-268 1 218 1 74 1-297 1 132 1 205 1-194 1-60 1 41 1 117 1-247 1 10 1 294 1-278 1 287 1-256 1 4 1 250 1-52 1-206 1 285 1-200 1 11 1-95 1 276 1-72 1 41 1 40 1-215 1-63 1 100 1-137 1 271 1-29 1-25 1-129 1 155 1-153 1-3 1-104 1 190 1 99 1-295 1 94 1 47 1 274 1-265 1 2 1-89 1 57 1-106 1 103 1 38 1-86 1-56 1 3 1 101 1-68 1-24 1-17 1 267 1 55 1-85 1-243 1 278 1-166 1 176 1 122 1-98 1-300 1 319 1-300 1-23 1 103 1-2 1 220 1-207 1 204 1 34 1-315 1 65 1-89 1 54 1 232 1-181 1 1 1 23 1 191 1-86 1-190 1-48 1 133 1-23 1 110 1-11 1 32 1 89 1-238 1-102 1 9 1 77 1 25 1 531 1-362 1 1 1-209 1 229 1-180 1-61 1 79 1-72 1 338 1-316 1 90 1-116 1-66 1 138 1-130 1-15 1 47 1-30 1-15 1 23 1 18 1 260 1-166 1-23 1-29 1 23 1 75 1-174 1 230 1 85 1-233 1 235 1-23 1 95 1-132 1-144 1 225 1 18 1-59 1-72 1-86 1 144 1-183 1 84 1-81 1 186 1-158 1-27 1 12 1-110 1 54 1 67 1 13 1 12 1 183 1-212 1 203 1-160 1-26 1-39 1 156 1-11 1-240 1 83 1 9 1-95 1 31 1 224 1-250 1-10 1 149 1-73 1-81 1 332 1-184 1-45 1 67 1-111 1-45 1 104 1 33 1 22 1 109 1-212 1 39 1 45 1-70 1 387 1-177 1-204 1 17 1 20 1-9 1 6 1 127 1 63 1-216 1 9 1 47 1-133 1 79 1 227 1-311 1-15 1 88 1-14 1 172 1-71 1-167 1 75 1 246 1-211 1 34 1-63 1 179 1-147 1 8 1-23 1 218" fill="none" stroke="#4d4d4d" stroke-width="2.8" vector-effect="non-scaling-stroke" stroke-linejoin="bevel" marker-start="url(#Bk)" marker-mid="url(#Bk)" marker-end="url(#Bk)"/>
<path transform="translate(1537.2 799.5) scale(0.22803 -0.6619)" d="M0 104l1 210 1 29 1-284 1 28 1-97 1 6 1 102 1 240 1-247 1 55 1 183 1-155 1 26 1 119 1-273 1 81 1 171 1-193 1-114 1 154 1 127 1 73 1-266 1-45 1 99 1-130 1 63 1 11 1 73 1-34 1-36 1 195 1-169 1-115 1 31 1 133 1 175 1-14 1-179 1-116 1 320 1 16 1-312 1 58 1-129 1 154 1 6 1 184 1-233 1 30 1 289 1-405 1 145 1-134 1 408 1-278 1-41 1-18 1-5 1 10 1 213 1 13 1-182 1 39 1-17 1 5 1 150 1-177 1-24 1 381 1-501 1 159 1-46 1-1 1 37 1-87 1 341 1-262 1-89 1 189 1 13 1-185 1 53 1 11 1 136 1 135 1-357 1 113 1-137 1 254 1-54 1 63 1-148 1-60 1 203 1-167 1 35 1 10 1-152 1 340 1-57 1-143 1-19 1 35 1-169 1 157 1-3 1-50 1 178 1 22 1-171 1 27 1-157 1 272 1-163 1 52 1 1 1 176 1-261 1 13 1 211 1-122 1-34 1-71 1 250 1-226 1 52 1 199 1-83 1-116 1 187 1-225 1 63 1 142 1-193 1 13 1 139 1-145 1 214 1-163 1 2 1-27 1 107 1-254 1-14 1 268 1-57 1 141 1-237 1 214 1-263 1 275 1-217 1 242 1-89 1 63 1-313 1 326 1-168 1-155 1 247 1-92 1 233 1-146 1-125 1-3 1 206 1-19 1-317 1 341 1-217 1 215 1-62 1 31 1-153 1 176 1-26 1-197 1 185 1-117 1 167 1-49 1-196 1 36 1 42 1 108 1-111 1-173 1 83 1 25 1-87 1 90 1 34 1 20 1 142 1-216 1-82 1 335 1 77 1-84 1-229 1 232 1-248 1 25 1 30 1-31 1 20 1-104 1 35 1 205 1-183 1 248 1-233 1 231 1-252 1 180 1 76 1-214 1 18 1 202 1-190 1 181 1-172 1-17 1 12 1 83 1 20 1-102 1-41 1-36 1 45 1-20 1 214 1-168 1-32 1-5 1 227 1-242 1-20 1 184 1 64 1-216 1 30 1 196 1-154 1-93 1 160 1-194 1 288 1-172 1-172 1 348 1-250 1 237 1-9 1-162 1 32 1 55 1 91 1-276 1 68 1-103 1 66 1 93 1-114 1-39 1-15 1 113 1-9 1-18 1 47 1 0 1-65 1 37 1 175 1-289 1 173 1 80 1-183 1 154 1-113 1-150 1 147 1-5 1 0 1-104 1 254 1-123 1-59 1 98 1-173 1 128 1-121 1 150 1-17 1-4 1 128 1-4 1-84 1-187 1 340 1-167 1-173 1 86 1-24 1-55 1 88 1 16 1-97 1 317 1-208 1-46 1 5 1 65 1-65 1-84 1 345 1-9 1 3 1-172 1 135 1 30 1-231 1 160 1 67 1-239 1 43 1 43 1-33 1-85 1 86 1 211 1-265 1 17 1-36 1 85 1-166 1 127 1 202 1 48 1-15 1-106 1-144 1 7 1 173 1-164 1 104 1-75 1-96 1 71 1 70 1 153 1-177 1 170 1-4 1-7 1-8 1 3 1-218 1 179 1-164 1-104 1 334 1-255 1 16 1 23 1-9 1-16 1 32 1-94 1 102 1 193 1-332 1 247 1-86 1-162 1 121 1 203 1-213 1 138 1 72 1-305 1-13 1 305 1-103 1-46 1 180 1-360 1 283 1 72 1-325 1 82 1-112 1 359 1-192 1 36 1-73 1 301 1-154 1-74 1-57 1 173 1-225 1 256 1-283 1 1 1 33 1 48 1-135 1 83 1 58 1-118 1 275 1-68 1-227 1 251 1-144 1 222 1-136 1 52 1-97 1 192 1 2 1-27 1-260 1 207 1-87 1 157 1 47 1-42 1-233 1 69 1-128 1-29 1 134 1 85 1-70 1-6 1 25 1 106 1-127 1-3 1-73 1-49 1 31 1 211 1-200 1 60 1-23 1 49 1-38 1 153 1 6 1-28 1-105 1 195 1-315 1 41 1 215 1-109 1 145 1-259 1 238 1-160 1-144 1 267 1-95 1-33 1-102 1 271 1 46 1-215 1-40 1 257 1-204 1-58 1 183 1-159 1 209 1-306 1 140 1-51 1 2 1-53 1 16 1 70 1 22 1-49 1-97 1 16 1 326 1-175 1-128 1 246 1 27 1-337 1 97 1-58 1 85 1-135 1 113 1 97 1-158 1 302 1-251 1 175 1-201 1 246 1 27 1-60 1-172 1 80 1-61 1-78 1 290 1-53 1-227 1 87 1 117 1 47 1 44 1-242 1 200 1-121 1-71 1 211 1-147 1 115 1-170 1-120 1 100 1 247 1-180 1-138 1 52 1 50 1 18 1-53 1-66 1 85 1 8 1 38 1 104 1-158 1 157 1-154 1 152 1 54 1-202 1-10 1 0 1 229 1-275 1-68 1 143 1 39 1 29 1-187 1 179 1 57 1 93 1 6 1-192 1-139 1 267 1-180 1-89 1 332 1-210 1-34 1 60 1 153 1-210 1 0 1 24 1-71 1 4 1 73 1-121 1-19 1 269 1-266 1 282 1-119 1-55 1 252 1-37 1 19 1-328 1 210 1 106 1-227 1 28 1 23 1 0 1-149 1 163 1-165 1 85 1 163 1 86 1-1 1-75 1-142 1 173 1 46 1 6 1-71 1-167 1 182 1-183 1-107 1 63 1 65 1-102 1 268 1-286 1 66 1 55 1 192 1-266 1 110 1 248 1-365 1 211 1-255 1 66 1 34 1 9 1 204 1-57 1-3 1 205 1-351 1 103 1 96 1 2 1 24 1-313 1 88 1 60 1 28 1-31 1 121 1-118 1-75 1 41 1-17 1 219 1-328 1 115 1 35 1-87 1 65 1-137 1 104 1 64 1 164 1-16 1-141 1-94 1 254 1 10 1-324 1 304 1-44 1-160 1 24 1 136 1 53 1-190 1-156 1 27 1 6 1 6 1 341 1-269 1 72 1 23 1 62 1 161 1-273 1-151 1 400 1-60 1 162 1-297 1 135 1-318 1-14 1 345 1-164 1-105 1 258 1-170 1-41 1 149 1-290 1 39 1 41 1-15 1-16 1 299 1-283 1 59 1 217 1-283 1 257 1-173 1 11 1-60 1-21 1 270 1-223 1 231 1-201 1-23 1-91 1 165 1 71 1 69 1-318 1 2 1 162 1-152 1 314 1-174 1 182 1-339 1 353 1-23 1-316 1 204 1-81 1 69 1-76 1 25 1-57 1-22 1 76 1-57 1-60 1 179 1 93 1-132 1-74 1-82 1 255 1-5 1-78 1-3 1-115 1-19 1 37 1-3 1 63 1 183 1-332 1 69 1 21 1 189 1-33 1 64 1-209 1 236 1-55 1-292 1 89 1 174 1-178 1 50 1-53 1 67 1 7 1-9 1-8 1-45 1 55 1-105 1 135 1-38 1-131 1 96 1 225 1-152 1 120 1-32 1 23 1-265 1 326 1-77 1 106 1-289 1 195 1-158 1-79 1 222 1 86 1-60 1 63 1-268 1 191 1 71 1-321 1 114 1-41 1 172 1-257 1 78 1-80 1 134 1-82 1 7 1 328 1-402 1 147 1-41 1 45 1-51 1 201 1-146 1 140 1 41 1-242 1 11 1-116 1 324 1-44 1-182 1-69 1 25 1 16 1 229 1-37 1 86 1-177 1-159 1 244 1 100 1-270 1 29 1 19 1-113 1 55 1 56 1-39 1 27 1-6 1 240 1-196 1-69 1 54 1 64 1-57 1-78 1 278 1-221 1-108 1 236 1 88 1-347 1 151 1 192 1-12 1-196 1 220 1-44 1-120 1-128 1 94 1-130 1 258 1 61 1-326 1 342 1-205 1 7 1-140 1 0 1 291 1 10 1-165 1-75 1 8 1-1 1-22 1 29 1 187 1-227 1-50 1 136 1-67 1 232 1 31 1-333 1 145 1 178 1 6 1-235 1-68 1 261 1-147 1-101 1 385 1-333 1 115 1-29 1 6 1 156 1-187 1-12 1 182 1-151 1 240 1-238 1-38 1-15 1 241 1-319 1 241 1-177 1 152 1-103 1-5 1 129 1-137 1-12 1-99 1 54 1 97 1-68 1 203 1-253 1 264 1-160 1 185 1-97 1 165 1-126 1-156 1-115 1 104 1-31 1-33 1 251 1-215 1 189 1-118 1-139 1 84 1-115 1 119 1 198 1-285 1 265 1-161 1 7 1 344 1-146 1-239 1 24 1 0 1-3 1-62 1 80 1-105 1 117 1-131 1 250 1-287 1 355 1-72 1 83 1-72 1-264 1 324 1-199 1-9 1-26 1 30 1 21 1 102 1-97 1 138 1-7 1 12 1 3 1 18 1-315 1 332 1-199 1 9 1-51 1-80 1 152 1-60 1 233 1-13 1-142 1-13 1-90 1 112 1-80 1 189 1-32 1-291 1 66 1-18 1 60 1 246 1 2 1-212 1 15 1-51 1 33 1 30 1 12 1 7 1 195 1-249 1-128 1 185 1-197 1 66 1 2 1-36 1 386 1-203 1 117 1 11 1-211 1 207 1-171 1-40 1 219 1-61 1-70 1-88 1 3 1 222 1 20 1-340 1 155 1-153 1-34 1 210 1-122 1-28 1 48 1-46 1 141 1-55 1 146 1-260 1 293 1-109 1-99 1 224 1-200 1-55 1 18 1-31 1 97 1-145 1 87 1-25 1 229 1-179 1 205 1-236 1 15 1-69 1-33 1 347 1-49 1-227 1-17 1 49 1 183 1 52 1-172 1-77 1 250 1-256 1 251 1 12 1-95 1-246 1 330 1-237 1 179 1 48 1 53 1-38 1-151 1 85 1-178 1 21 1 286 1-371 1 76 1 185 1 40 1-199 1 117 1-157 1-92 1 128 1 30 1-6 1 117 1-176 1-49 1 269 1-187 1 5 1-137 1 168 1-36 1 224 1-199 1-26 1 9 1-22 1 83 1-137 1 219 1-259 1 78 1 78 1 130 1 35 1-147 1 99 1-147 1-44 1-23 1 79 1 5 1 130 1-32 1-156 1-40 1 186 1-222 1-26 1 69 1-60 1 205 1-99 1 298 1-320 1 248 1-284 1 268 1 12 1-237 1 62 1-55 1 195 1 97 1-291 1 187 1-284 1 327 1-187 1 11 1 179 1-145 1 28 1-70 1-38 1 14 1 15 1-104 1 65 1-59 1 279 1-253 1 181 1-266 1 192 1-119 1 95 1-152 1 127 1 186 1-310 1-22 1 370 1 25 1-343 1 281 1-156 1 135 1-317 1 349 1-62 1-268 1 234 1-241 1 265 1 19 1-129 1 193 1-241 1-125 1 349 1 22 1-278 1 204 1-179 1-83 1 291 1-228 1-5 1-8 1 302 1-367 1 336 1-241 1 24 1 33 1 40 1-61 1 3 1 72 1-79 1 175 1-243 1 349 1-247 1-115 1 97 1 137 1-132 1-33 1-92 1 98 1-4 1 15 1 141 1 67 1-65 1-153 1-76 1 296 1-37 1-153 1-20 1 206 1-258 1 34 1 7 1 3 1-81 1 41 1 31 1 32 1-18 1-104 1 244 1-144 1 31 1 246 1-273 1 13 1-48 1 15 1 87 1 127 1-262 1 73 1-10 1 222 1-79 1-78 1 168 1-167 1 160 1-231 1-29 1 250 1-146 1-126 1 207 1 44 1-128 1-70 1-108 1 337 1-237 1 243 1 30 1-244 1-111 1 315 1-175 1-35 1-142 1 229 1-211 1 264 1-96 1-151 1 115 1 55 1-29 1-142 1 313 1-337 1 116 1-83 1 257 1-274 1 371 1-80 1-37 1 60 1 48 1-271 1 62 1-78 1 143 1-106 1 39 1 142 1 36 1-205 1 6 1-104 1 8 1 315 1-15 1-323 1 15 1 104 1-65 1 88 1 180 1-248 1 267 1-366 1 356 1-214 1-35 1 9 1 54 1-48 1 20 1-111 1-53 1 21 1 339 1-342 1 346 1-343 1 140 1 34 1-37 1-13 1-82 1-43 1 291 1-278 1 126 1-161 1 155 1 201 1-224 1 168 1-134 1-90 1 48 1-65 1 159 1-47 1 185 1 5 1-169 1-8 1 13 1 115 1-98 1 81 1 18 1 107 1-73 1-184 1 230 1-352 1 134 1 176 1-68 1-286 1 38 1 117 1 197 1-240 1-56 1 163 1-5 1 146 1-160 1 149 1-268 1-37 1 46 1 268 1-29 1 34 1-4 1-158 1 152 1-173 1 130 1-184 1-5 1 242 1-287 1 308 1-252 1 180 1-282 1 298 1-179 1-98 1 86 1-79 1 38 1 255 1-206 1 42 1-120 1 93 1-26 1 32 1 27 1-15 1 5 1-168 1 124 1-33 1 55 1 202 1-59 1-14 1-179 1 243 1-149 1 139 1 14 1-31 1-178 1 10 1-26 1 172 1-271 1 45 1 102 1-140 1 129 1 166 1-273 1-34 1 45 1 111 1 97 1-259 1 294 1-224 1 45 1-62 1 56 1 20 1 151 1 56 1 8 1-7 1-210 1 101 1-148 1 9 1 152 1-151 1 322 1-317 1-41 1 45 1 255 1-180 1-89 1 68 1 174 1-340 1 194 1-35 1 21 1-47 1-17 1 80 1-195 1 33 1 67 1-76 1 239 1-117 1 63 1 181 1-293 1 81 1 192 1-333 1 36 1 23 1 62 1-6 1 14 1-2 1-125 1 13 1 115 1 191 1-350 1 180 1 154 1-72 1 54 1-131 1-58 1-21 1-21 1 33 1 228 1-250 1 39 1-58 1-23 1 154 1 55 1-158 1 45 1 26 1 171 1-302 1-30 1 296 1-129 1-79 1-32 1 30 1 167 1-31 1-202 1 297 1-292 1-40 1 281 1-230 1 210 1-129 1 220 1-338 1 4 1 290 1-194 1 6 1-88 1 249 1-282 1 210 1 82 1-118 1-22 1-62 1 198 1-85 1-56 1 26 1-69 1-76 1 229 1-205 1 274 1-143 1 158 1-242 1-80 1 319 1-228 1 58 1 161 1-292 1-35 1 95 1 80 1 171 1 4 1-6 1-169 1 137 1-263 1 121 1-74 1 402 1-168 1-18 1 29 1-203 1 4 1 137 1-2 1-180 1 40 1 200 1-154 1-58 1 201 1-201 1 15 1-9 1 193 1 22 1-257 1 5 1 33 1-139 1 297 1 1 1 47 1-29 1-151 1-27 1 225 1-194 1-90 1 265 1-61 1-190 1 46 1-144 1 349 1-304 1 302 1-253 1 223 1-309 1 21 1 299 1-235 1-33 1 298 1-242 1 31 1 210 1-183 1 112 1 1 1 14 1-136 1 123 1-227 1 82 1 49 1-40 1 32 1 131 1-146 1 162 1 30 1-78 1-231 1 36 1 234 1-232 1 268 1-211 1 213 1-273 1-14 1 72 1-118 1 178 1-109 1-33 1 33 1-11 1 9 1 77 1-131 1 26 1 81 1-48 1 67 1 126 1 97 1-35 1-221 1 208 1-204 1-130 1 116 1-27 1-71 1 124 1-2 1-66 1 88 1 76 1-77 1 182 1-318 1 153 1-110 1 215 1-186 1 63 1-54 1 99 1-68 1-132 1 329 1-40 1-111 1 168 1-356 1 133 1 194 1 98 1-95 1-266 1 370 1-293 1-86 1 219 1 85 1-207 1-68 1 97 1-84 1 49 1 54 1-40 1 36 1-84 1-19 1 71 1-11 1-80 1 296 1-170 1-60 1 133 1-172 1-86 1 127 1 276 1-250 1-143 1 10 1 27 1 36 1 51 1-31 1-102 1 152 1 4 1-37 1 170 1 24 1-245 1 244 1-134 1-30 1-80 1-16 1 84 1 63 1 137 1-20 1-200 1 196 1-266 1-24 1 234 1 93 1-233 1 30 1-25 1-92 1 108 1 31 1 173 1-283 1-42 1 8 1 92 1 61 1-19 1-135 1-20 1 186 1 104 1-245 1 51 1 157 1-270 1 389 1-278 1 249 1-85 1 76 1-64 1-181 1 166 1-179 1 75 1-32 1 206 1-330 1 58 1 111 1-18 1-30 1 45 1 182 1-230 1-117 1 57 1 257 1-241 1 141 1-22 1-163 1 50 1 54 1 222 1-36 1-274 1 10 1 74 1 264 1-293 1 164 1-156 1-47 1 233 1-172 1 216 1 3 1-263 1 225 1-21 1 9 1-220 1 34 1 33 1 161 1 4 1-178 1-129 1 203 1-80 1 201 1-135 1-9 1 142 1 32 1-341 1 12 1 266 1-255 1 88 1 217 1-230 1 235 1-169 1 128 1 31 1-307 1 305 1-234 1 96 1 161 1 2 1-265 1 300 1-100 1-146 1-33 1-11 1 20 1 54 1-75 1 239 1-251 1 42 1-125 1-18 1 77 1 83 1 211 1-178 1 159 1-146 1-149 1-33 1 326 1-303 1 91 1-29 1 252 1-336 1 30 1 18 1 89 1 195 1 1 1-21 1 31 1-176 1 8 1 118 1-273 1 37 1 59 1-36 1 50 1 10 1-95 1 90 1 60 1-46 1-28 1-40 1-26 1 42 1-9 1-65 1 155 1 13 1-111 1-45 1-33 1 323 1-324 1-7 1 183 1 118 1 36 1-69 1 32 1-216 1 87 1-48 1-86 1 115 1-89 1 271 1-208 1-129 1 124 1 225 1-318 1 85 1-11 1-17 1 221 1-135 1 8 1 114 1-274 1 139 1-81 1 15 1 243 1-52 1-12 1-273 1 411 1-240 1 148 1-186 1 139 1-138 1 122 1-104 1-59 1-10 1 247 1 33 1-224 1 200 1-126 1-142 1 268 1-185 1-48 1-11 1-94 1 108 1-6 1-110 1 96 1 303 1-266 1-132 1 162 1 182 1-315 1 125 1-36 1 71 1-72 1 54 1 144 1-244 1 102 1-49 1-104 1 155 1-89 1-54 1 25 1 46 1 13 1-105 1 105 1 303 1-79 1-313 1-2 1 154 1 178 1-19 1-202 1 68 1-51 1 45 1-138 1 142 1-48 1 137 1 36 1-217 1 61 1-78 1 36 1-20 1-89 1 295 1-195 1 153 1 6 1-192 1-9 1 12 1 53 1 144 1-112 1-66 1 79 1-111 1 203 1-198 1 1 1 202 1 18 1 18 1-169 1-45 1 190 1 1 1-152 1-139 1 77 1 60 1 47 1 127 1-10 1-278 1 78 1 45 1-13 1-10 1 3 1 202 1-178 1-37 1-25 1 241 1-207 1 197 1 9 1-161 1 220 1-231 1 197 1-11 1-36 1-158 1 181 1-230 1-9 1 235 1 11 1-247 1 101 1-60 1-10 1 157 1-166 1 311 1-144 1-98 1-159 1 286 1-300 1 105 1-129 1 163 1-108 1 292 1-313 1 285 1-90 1-117 1 161 1 19 1-166 1 86 1 292 1-132 1-223 1-143 1 267 1-160 1 63 1-101 1 55 1 163 1-227 1 47 1 177 1-111 1 176 1-78 1 31 1-139 1-25 1 16 1 170 1-196 1 165 1-115 1-146 1 334 1-175 1-21 1-5 1-57 1 101 1-40 1 134 1-215 1-87 1 282 1 79 1-266 1 239 1-303 1 298 1-61 1 24 1 21 1-297 1 104 1-47 1 62 1 227 1-152 1-166 1 115 1-151 1 134 1 21 1-137 1 130 1 6 1-85 1-49 1 62 1-45 1 215 1-182 1 271 1-174 1 204 1-255 1 118 1-80 1-8 1-34 1 164 1-161 1 40 1 175 1-31 1 102 1-331 1 96 1-42 1 212 1 33 1-19 1-238 1 230 1-223 1 211 1-292 1 256 1 45 1-207 1 69 1-155 1 254 1-306 1 272 1 23 1 1 1 44 1 8 1-331 1 323 1 5 1-266 1 181 1 61 1-301 1 23 1 31 1 32 1 14 1 190 1-177 1 3 1-68 1 73 1-121 1 134 1-84 1-38 1 104 1-48 1-62 1 130 1 356 1-253 1 67 1-272 1 102 1-153 1 81 1 252 1-189 1-38 1 48 1-149 1 6 1 102 1 230 1-83 1 92 1-202 1-162 1 283 1-67 1-199 1 22 1 301 1-223 1 85 1-3 1-202 1 113 1-94 1 355 1-192 1 89 1-163 1 0 1 49 1 141 1-256 1 118 1 122 1-226 1 279 1-303 1 83 1 225 1-49 1-258 1 324 1 11 1-41 1-148 1-142 1 53 1 69 1-128 1 123 1-23 1 167 1-238 1 302 1 57 1-270 1-14 1-10 1-128 1 171 1-27 1 206 1-182 1 113 1-143 1 36 1-34 1 44 1-123 1 89 1-106 1 92 1-5 1 219 1-322 1 143 1-21 1 28 1-138 1 72 1 180 1-268 1 195 1-95 1 76 1-40 1 201 1-13 1-226 1-45 1 45 1-59 1 300 1-227 1-10 1 60 1 154 1-210 1-97 1 110 1 70 1-68 1 21 1-34 1-111 1 112 1 231 1-65 1-140 1-25 1 21 1-129 1 339 1-231 1 151 1-205 1 58 1-109 1 186 1-176 1 77 1-109 1 30 1 194 1-185 1 131 1-142 1 305 1 2 1-171 1-138 1-6 1 18 1 57 1 53 1-147 1 362 1-288 1-3 1 298 1-206 1 0 1-104 1 222 1 76 1-5 1-76 1-144 1-14 1 71 1 19 1 67 1-197 1 47 1 164 1 105 1-360 1 330 1-171 1 178 1-160 1 151 1-289 1 33 1 8 1 44 1 33 1 19 1-153 1-9 1 219 1 3 1 3 1-192 1 86 1-141 1 333 1-223 1-5 1 138 1-116 1-120 1 180 1 71 1 141 1-323 1 51 1 184 1-25 1-189 1 189 1-276 1 72 1 62 1-48 1-104 1 344 1-330 1 125 1-3 1-1 1 32 1-80 1 74 1 196 1 41 1-219 1 94 1-266 1 332 1-197 1 163 1-199 1 22 1-2 1-27 1 229 1 59 1-288 1 234 1-257 1 200 1-219 1-27 1 68 1 181 1-149 1-2 1-11 1 140 1-100 1 169 1-202 1 147 1 13 1 16 1-164 1-61 1 240 1-246 1 52 1-19 1 36 1 24 1-35 1-109 1 81 1 18 1 44 1-26 1-35 1 11 1-29 1 174 1-175 1 191 1-79 1-72 1 224 1-229 1-44 1-16 1 74 1-35 1-18 1-21 1 67 1 140 1-110 1-127 1 122 1-18 1 199 1-207 1 16 1 189 1-142 1 66 1-204 1 43 1-94 1 178 1-91 1-65 1 311 1-324 1 103 1-129 1 359 1-226 1 146 1 99 1-279 1 77 1-153 1 123 1 41 1-77 1 254 1-152 1 133 1-73 1-130 1-29 1-8 1 14 1 214 1-316 1 95 1-113 1 181 1-170 1 244 1 16 1-183 1 124 1 126 1-38 1 121 1-234 1-116 1 291 1 114 1-410 1 71 1 185 1-245 1-51 1 140 1 171 1-196 1 30 1 1 1-19 1 218 1-158 1-66 1-53 1 251 1-216 1-28 1 168 1 120 1-364 1 324 1-253 1 220 1-285 1 121 1 195 1-254 1 73 1-63 1 115 1-39 1 178 1 45 1-167 1-1 1-154 1 55 1 167 1 56 1-220 1-115 1 389 1-45 1-32 1 3 1-195 1 64 1-63 1 66 1 110 1-13 1-179 1-108 1 299 1-49 1-145 1-94 1 205 1 121 1-34 1-134 1 186 1-83 1-185 1 31 1 25 1 2 1-38 1 86 1-50 1-139 1 264 1 66 1 28 1-181 1 81 1 53 1-33 1 94 1-242 1 197 1 1 1 2 1 66 1-241 1 173 1-62 1-284 1 365 1-222 1-65 1 79 1 197 1 3 1-349 1 109 1 226 1-26 1-76 1-155 1 260 1-317 1 314 1-233 1 242 1-337 1 415 1-164 1-75 1 178 1-241 1 275 1-400 1 10 1 377 1-379 1 312 1-13 1-202 1 20 1 188 1-185 1 177 1-152 1 167 1-159 1 200 1-280 1 252 1-183 1-10 1 197 1-196 1-57 1-61 1 143 1-89 1 73 1 4 1-141 1 334 1-357 1 32 1 264 1-122 1 34 1-28 1 17 1-18 1-14 1-130 1-20 1 159 1-104 1 329 1-244 1-128 1-3 1 176 1-24 1-137 1 324 1-158 1-202 1-4 1 168 1 193 1-32 1 40 1 1 1-84 1-157 1-96 1 134 1-40 1 55 1 139 1 44 1-4 1 4 1-227 1-68 1 293 1-216 1 292 1-330 1 163 1 20 1-174 1 244 1 13 1-135 1-50 1-18 1-6 1-140 1 21 1 51 1 240 1-208 1 314 1-115 1-300 1 41 1 100 1-62 1 63 1 151 1-281 1 115 1 9 1 173 1-240 1 15 1 248 1-358 1 118 1 198 1-171 1 144 1-167 1 305 1-372 1 105 1-8 1-12 1 62 1-28 1 31 1-200 1 165 1-26 1-126 1 154 1 177 1-255 1-17 1 244 1-291 1 122 1-61 1 6 1 217 1-134 1 167 1-200 1-149 1 158 1-35 1 208 1-258 1 86 1 122 1 30 1-298 1 301 1-290 1 124 1-62 1 100 1-43 1 58 1 140 1-271 1 232 1-169 1-79 1 74 1 10 1-77 1 295 1 67 1-306 1-1 1 299 1-291 1 60 1-60 1 208 1-120 1 226 1-353 1 249 1-201 1 12 1 29 1-137 1 27 1-39 1 346 1-82 1-164 1 234 1-264 1 33 1-94 1 130 1 271 1-120 1-226 1 265 1-244 1 241 1-171 1 185 1 169 1-520 1 82 1-73 1 116 1 221 1-306 1 33 1-38 1 298 1-339 1 185 1 201 1-62 1-219 1 204 1-158 1-50 1 235 1-232 1 252 1-261 1 238 1-181 1 12 1 103 1-128 1 1 1 18 1 132 1-293 1 353 1-117 1-60 1-40 1 149 1-167 1-69 1 162 1-5 1 150 1-6 1-5 1 94 1-115 1-164 1-74 1 20 1 180 1 29 1-25 1-255 1 321 1-219 1 54 1-68 1 16 1 17 1-1 1 199 1-212 1 64 1-82 1-42 1 74 1 21 1 255 1-302 1 223 1-47 1-146 1 201 1-68 1-8 1 66 1-225 1 180 1-181 1 63 1 120 1-105 1-149 1 69 1 21 1 218 1-215 1-35 1 162 1-93 1-4 1-15 1-109 1-26 1 293 1-212 1 243 1-204 1 200 1-233 1 150 1-84 1-135 1 148 1 167 1-129 1-138 1 25 1 38 1-40 1 23 1 75 1-38 1-13 1-153 1 146 1-46 1 325 1-275 1-27 1-89 1 312 1-251 1-113 1 309 1-44 1-221 1 171 1-21 1-47 1-43 1 53 1 277 1-10 1-288 1 31 1 186 1-72 1-259 1 190 1 63 1 40 1-186 1 295 1-369 1 304 1-217 1-20 1 66 1 147 1-137 1-163 1 112 1 85 1-126 1-75 1 95 1 225 1-3 1-199 1-21 1 314 1-4 1-8 1-50 1-309 1 123 1 159 1-55 1 72 1-236 1 224 1-314 1 129 1 27 1-198 1 138 1 218 1-50 1-131 1 122 1-287 1 353 1-249 1-72 1 84 1-86 1 63 1 28 1 234 1-335 1 132 1 195 1-76 1 76 1-222 1 176 1 54 1-321 1 308 1-206 1 26 1-77 1 55 1 204 1 14 1-226 1-113 1 341 1-15 1-79 1 90 1-47 1-231 1 322 1-36 1-12 1-251 1 140 1-63 1-137 1 89 1 144 1 79 1-331 1 330 1-238 1-97 1 81 1 218 1-183 1-80 1 50 1 249 1 22 1-229 1 27 1-7 1 154 1-170 1 201 1-215 1 66 1-182 1 52 1-54 1 132 1-134 1 44 1 163 1-213 1 314 1 24 1-72 1 37 1 27 1-186 1 182 1-49 1-128 1 157 1-190 1-30 1 187 1-14 1-105 1-12 1-155 1 140 1-115 1 279 1-263 1 102 1-20 1 214 1-163 1 170 1-184 1 127 1-166 1 66 1 157 1-155 1 166 1-189 1 183 1-337 1 155 1-5 1-137 1 58 1 266 1-201 1-36 1 21 1-115 1 341 1-208 1-53 1 310 1-67 1-321 1 329 1-71 1-253 1 129 1-100 1 296 1-26 1-31 1-129 1 185 1-177 1-83 1 95 1-28 1 193 1-56 1-133 1-77 1-19 1 274 1-249 1 48 1 183 1-117 1 121 1-310 1 322 1-332 1 41 1 122 1 11 1-152 1 292 1-315 1 308 1-134 1-27 1 211 1-288 1 291 1-365 1 237 1-78 1 0 1-21 1 16 1 50 1-5 1 119 1-303 1 330 1-321 1 20 1-26 1 348 1 7 1-243 1 17 1-120 1-12 1 190 1 206 1-49 1-331 1 72 1-3 1 255 1-227 1 180 1-249 1-39 1 139 1 191 1-226 1 204 1-230 1 10 1 251 1-87 1-232 1 82 1 202 1-209 1 6 1 230 1-45 1-166 1-2 1-15 1 308 1-337 1 237 1-217 1 256 1-210 1 192 1-214 1 140 1-178 1 251 1-163 1-176 1 384 1-41 1-66 1 73 1-106 1 56 1-215 1 113 1 146 1 40 1-355 1-15 1 155 1 194 1-288 1 324 1-65 1-5 1-139 1 144 1-260 1 99 1 107 1-275 1 120 1 205 1-165 1-58 1 238 1-97 1 172 1-278 1 37 1-31 1-104 1-55 1 150 1 37 1 225 1-246 1-137 1 158 1-27 1-16 1 285 1-76 1-349 1 280 1 60 1-188 1 181 1 25 1-49 1-257 1 213 1 87 1-316 1 136 1 197 1-181 1-67 1 11 1 149 1-263 1 22 1 296 1-335 1 340 1-246 1-12 1 255 1-18 1-248 1 265 1-155 1-28 1-61 1 247 1-79 1 89 1-15 1-174 1-69 1 94 1-186 1 347 1-84 1 7 1-148 1 141 1-147 1 24 1-101 1 187 1 77 1-262 1 75 1 33 1 283 1-266 1 14 1-56 1 71 1-126 1 75 1 37 1-61 1-123 1-11 1 173 1-71 1-40 1-51 1 300 1 66 1-87 1-256 1 263 1-140 1 187 1 92 1-69 1-296 1 284 1-271 1-70 1 134 1 7 1 219 1-231 1 207 1 51 1-288 1 66 1-99 1 44 1 233 1-181 1-20 1 25 1 187 1-78 1-193 1-42 1 128 1 3 1 127 1-18 1 5 1 80 1-229 1-121 1 18 1 73 1 46 1 318 1-175 1 35 1-207 1 232 1-204 1-67 1 49 1 9 1 266 1-283 1 96 1-115 1-120 1 184 1-119 1-30 1 57 1-55 1 1 1 45 1 27 1 246 1-190 1-30 1-14 1 32 1 47 1-140 1 217 1 90 1-248 1 246 1-41 1 100 1-119 1-148 1 206 1 22 1-48 1-56 1-83 1 168 1-234 1 108 1-71 1 150 1-135 1-37 1 5 1-78 1 44 1 56 1 14 1-6 1 184 1-203 1 195 1-149 1-34 1-45 1 196 1-20 1-252 1 107 1 1 1-152 1 86 1 221 1-271 1-38 1 162 1-64 1-95 1 348 1-157 1-61 1 81 1-150 1-47 1 140 1 37 1-27 1 164 1-228 1 51 1 28 1-73 1 349 1-124 1-206 1 15 1 7 1 2 1-1 1 138 1 66 1-218 1 28 1 12 1-100 1 6 1 276 1-317 1-49 1 126 1 0 1 149 1-42 1-190 1 86 1 224 1-186 1 9 1-44 1 200 1-171 1 12 1-29 1 231" fill="none" stroke="#ec3a3e" stroke-width="2.8" vector-effect="non-scaling-stroke" stroke-linejoin="bevel" marker-start="url(#Br)" marker-mid="url(#Br)" marker-end="url(#Br)"/>
<rect x="1491.6" y="73" width="957.4" height="774" fill="none" stroke="#000" stroke-width="5.2"/>
<path d="M1537.2 832.4V847M1594.21 840V847M1651.22 832.4V847M1708.22 840V847M1765.23 832.4V847M1822.24 840V847M1879.25 832.4V847M1936.25 840V847M1993.26 832.4V847M2050.27 840V847M2107.28 832.4V847M2164.28 840V847M2221.29 832.4V847M2278.3 840V847M2335.31 832.4V847M2392.31 840V847" stroke="#000" stroke-width="5.1"/>
<g font-family="'Liberation Serif','Times New Roman',serif" font-weight="bold" font-size="40"><text transform="translate(1537.2 892.5) scale(1 1)" text-anchor="middle">0</text><text transform="translate(1651.22 892.5) scale(1 1)" text-anchor="middle">500</text><text transform="translate(1765.23 892.5) scale(1 1)" text-anchor="middle">1000</text><text transform="translate(1879.25 892.5) scale(1 1)" text-anchor="middle">1500</text><text transform="translate(1993.26 892.5) scale(1 1)" text-anchor="middle">2000</text><text transform="translate(2107.28 892.5) scale(1 1)" text-anchor="middle">2500</text><text transform="translate(2221.29 892.5) scale(1 1)" text-anchor="middle">3000</text><text transform="translate(2335.31 892.5) scale(1 1)" text-anchor="middle">3500</text><text transform="translate(2449.32 892.5) scale(1 1)" text-anchor="middle">4000</text><text transform="translate(1476.2 812.77) scale(1 1)" text-anchor="end">0</text><text transform="translate(1476.2 680.39) scale(1 1)" text-anchor="end">20</text><text transform="translate(1476.2 548.01) scale(1 1)" text-anchor="end">40</text><text transform="translate(1476.2 415.63) scale(1 1)" text-anchor="end">60</text><text transform="translate(1476.2 283.25) scale(1 1)" text-anchor="end">80</text><text transform="translate(1476.2 150.87) scale(1 1)" text-anchor="end">100</text></g>
<text font-family="'Liberation Serif','Times New Roman',serif" font-weight="bold" font-size="38.5" text-anchor="middle" transform="translate(1381.7 460) rotate(-90) scale(1 1)">Peak Shear Strength/KPa</text>
<text font-family="'Liberation Serif','Times New Roman',serif" font-weight="bold" font-size="38.5" text-anchor="middle" transform="translate(2017.8 950.9) scale(1 1)">Sample number</text>
<path d="M1534.2 119.6H1611.6" stroke="#4d4d4d" stroke-width="2.9"/>
<ellipse cx="1572.8" cy="119.6" rx="7" ry="7" fill="#fff" stroke="#000" stroke-width="1.5"/>
<text font-family="'Liberation Serif','Times New Roman',serif" font-weight="bold" font-size="38.5" transform="translate(1611.8 133.8) scale(1 1)">Measured value</text>
<path d="M1534.2 167.7H1611.6" stroke="#ec3a3e" stroke-width="2.9"/>
<ellipse cx="1572.8" cy="167.7" rx="7" ry="7" fill="#fff" stroke="#f00" stroke-width="1.5"/>
<text font-family="'Liberation Serif','Times New Roman',serif" font-weight="bold" font-size="38.5" transform="translate(1611.8 181.6) scale(1 1)">Predictive value</text>
<text font-family="'Liberation Serif','Times New Roman',serif" font-size="56.7" text-anchor="middle" x="1983.4" y="1059.5">PSO-BPNN</text>
<text font-family="'Liberation Sans',Arial,sans-serif" font-weight="bold" font-size="49.5" x="1348" y="46">B</text>
<defs>
<marker id="Ck" markerUnits="userSpaceOnUse" viewBox="-14 -14 28 28" markerWidth="120.99" markerHeight="46.85" preserveAspectRatio="none" overflow="visible"><circle r="6.9" fill="#fff" stroke="#000" stroke-width="1.4" transform="scale(1.1 1)"/></marker>
<marker id="Cr" markerUnits="userSpaceOnUse" viewBox="-14 -14 28 28" markerWidth="120.99" markerHeight="46.85" preserveAspectRatio="none" overflow="visible"><circle r="6.9" fill="#fff" stroke="#f00" stroke-width="1.4" transform="scale(1.1 1)"/></marker>
</defs>
<path transform="translate(208.1 1763.3) scale(0.23143 -0.5977)" d="M0 33l1 171 1-200 1 258 1-180 1-44 1 51 1-77 1 247 1-114 1 72 1 121 1 22 1-237 1 234 1-274 1-7 1 277 1-220 1-1 1 36 1 179 1-335 1 199 1-171 1 132 1 73 1-2 1 19 1-170 1 33 1 31 1 128 1-99 1-37 1-73 1-3 1-7 1 48 1 71 1-37 1-16 1 180 1 49 1-317 1 84 1 29 1-53 1 251 1-2 1-138 1 106 1-229 1-4 1 228 1-150 1 76 1-144 1 9 1-89 1 78 1 84 1-112 1-63 1 102 1-61 1 88 1-112 1 67 1 38 1 174 1-179 1 230 1-227 1 199 1-222 1 218 1 31 1 16 1-203 1 5 1 73 1-98 1 30 1 111 1-149 1-111 1 103 1-56 1 80 1-43 1-94 1 355 1-275 1-64 1 139 1 159 1-322 1 41 1 44 1 232 1 24 1-318 1 170 1 121 1 0 1-180 1 195 1-182 1 42 1-78 1-21 1 97 1 10 1 113 1 25 1-213 1 236 1-192 1-92 1-53 1 70 1 11 1-29 1-44 1 92 1 116 1 101 1-242 1-49 1 107 1-144 1 228 1-175 1-59 1 148 1 167 1-150 1-150 1-15 1 6 1 40 1 30 1 133 1-127 1 4 1-23 1 74 1 193 1-299 1 53 1-82 1 219 1 109 1-134 1-106 1 143 1-101 1-32 1 194 1 22 1-215 1 252 1-302 1-25 1 159 1-87 1-2 1-13 1 105 1-104 1 8 1 40 1 9 1 28 1-87 1-83 1 372 1-363 1 271 1-186 1 182 1 90 1-324 1 315 1-193 1-33 1 34 1 8 1-153 1 65 1 222 1-203 1-99 1 97 1 123 1-32 1-114 1 237 1-69 1-104 1 177 1-277 1 26 1 58 1 13 1-139 1 84 1 87 1 82 1 117 1-208 1 180 1-180 1 169 1-284 1-41 1 17 1-26 1 113 1-63 1 186 1-136 1-70 1 150 1-22 1-125 1 315 1-21 1-175 1-139 1 141 1-119 1 77 1 27 1-134 1 346 1-232 1-123 1 10 1 336 1-234 1 242 1-171 1 12 1 120 1 42 1-9 1-89 1-106 1 40 1-16 1 145 1-225 1 62 1 176 1-141 1-93 1 16 1-47 1 217 1-150 1-75 1 194 1-108 1 31 1 53 1-217 1 78 1 244 1-62 1 52 1-43 1-223 1 119 1-52 1-50 1 157 1 70 1-12 1-220 1 189 1-45 1-190 1 304 1-242 1 26 1 56 1-63 1-50 1-4 1 211 1-119 1 197 1-197 1 114 1-171 1-7 1-65 1 79 1 18 1-59 1 46 1-93 1 201 1 159 1-234 1 31 1 166 1-109 1-79 1-21 1 80 1-123 1 228 1 42 1-217 1-14 1 41 1 206 1-265 1 58 1-143 1 305 1-241 1-12 1 254 1-250 1-55 1 93 1 75 1-109 1 31 1-33 1 40 1 112 1 10 1-181 1 273 1-327 1 45 1 282 1-189 1-123 1 53 1 54 1-85 1 214 1-220 1 95 1 216 1-11 1-245 1-36 1 4 1-41 1 323 1-177 1 135 1-226 1 227 1-54 1-110 1-105 1 319 1-248 1 4 1 109 1 136 1-232 1 10 1 179 1-154 1-120 1 14 1-14 1-7 1 333 1-207 1-123 1-1 1 219 1 109 1-335 1 103 1-5 1 37 1-3 1-102 1 29 1-70 1 134 1 166 1 55 1-49 1-204 1 245 1-210 1 223 1-242 1 115 1-180 1 247 1-145 1-74 1 18 1-100 1 339 1-246 1 147 1-126 1-61 1 193 1-128 1-22 1 240 1-107 1 27 1-4 1-138 1 26 1-32 1 21 1 148 1-161 1-109 1 117 1-101 1 13 1-21 1 344 1-57 1-236 1 43 1-43 1 26 1 46 1 188 1-19 1-274 1 27 1 80 1 90 1 91 1-197 1 73 1 152 1-134 1-205 1 103 1 223 1-8 1 9 1-243 1-21 1-46 1 318 1-121 1 107 1-180 1-40 1 248 1-324 1 195 1-171 1 245 1-295 1 314 1-66 1-35 1 113 1-246 1 312 1-345 1 266 1-179 1 22 1 133 1-169 1 130 1-147 1 172 1 34 1-286 1 34 1 96 1-16 1-106 1 6 1 14 1-46 1 136 1 195 1-209 1-99 1-20 1-16 1 353 1-41 1-185 1-76 1 112 1-61 1 64 1-2 1-69 1-2 1-95 1 125 1-104 1 93 1 139 1-27 1-132 1-37 1 80 1 213 1-216 1-7 1-74 1-36 1 58 1 75 1-153 1 289 1-97 1-76 1-58 1-54 1 130 1-68 1 94 1-98 1 306 1-282 1 211 1 51 1-305 1 145 1 114 1-49 1-239 1 180 1-65 1-123 1 336 1-85 1-17 1-191 1 263 1-217 1 221 1-173 1 188 1-86 1-108 1 133 1-198 1 54 1 121 1-237 1 302 1-298 1 162 1 70 1 100 1-322 1 140 1-14 1-43 1 57 1 164 1-177 1 148 1-202 1-50 1 170 1-27 1 89 1-45 1 164 1-49 1-223 1 41 1 94 1-191 1 1 1 86 1-92 1-44 1 76 1-83 1 239 1-146 1-46 1 273 1-187 1-39 1 5 1 35 1-108 1 263 1-33 1-128 1-50 1-70 1 110 1 184 1 159 1-107 1-4 1-115 1-95 1-120 1 48 1-84 1 153 1 45 1-183 1 168 1 27 1-60 1-14 1-131 1 168 1-140 1 120 1-84 1 35 1 208 1-73 1-146 1-35 1 82 1 50 1-130 1 26 1-71 1 83 1 241 1-256 1 233 1 34 1-249 1-57 1 29 1 59 1 9 1 97 1-144 1 178 1-62 1-55 1-148 1 8 1 59 1-32 1 290 1-202 1 171 1 46 1-144 1-73 1 101 1 92 1-219 1-46 1 80 1 26 1-150 1-8 1 1 1 138 1-35 1 196 1-157 1 215 1-77 1-108 1-22 1-154 1 276 1-69 1-75 1 603 1-432 1 28 1-55 1 39 1-230 1 231 1 7 1 16 1-249 1 39 1 201 1-68 1-168 1 265 1 17 1-265 1 151 1-251 1 97 1 62 1 109 1-127 1 207 1-301 1 287 1-308 1 310 1-221 1 253 1-293 1 237 1 6 1-88 1-158 1 23 1 162 1-246 1 299 1-305 1 34 1 138 1-118 1 51 1 235 1-331 1 290 1 17 1-16 1 1 1-194 1-116 1 105 1 224 1-337 1 134 1-63 1 65 1-131 1 274 1-30 1-6 1 80 1-243 1 129 1-33 1 162 1-251 1 30 1 106 1-170 1-41 1 99 1-47 1-26 1 97 1 199 1-158 1-35 1-35 1 6 1 259 1-289 1 67 1 80 1-138 1 198 1-215 1-73 1 349 1-251 1-1 1 3 1-40 1-18 1 273 1-198 1-114 1 12 1 320 1-170 1-37 1 195 1-325 1 350 1-14 1-287 1 316 1-251 1-105 1 43 1 695 1-682 1-39 1 320 1-273 1-8 1-58 1 91 1 67 1-155 1 191 1-122 1-61 1 154 1 139 1-220 1-15 1 211 1-44 1-168 1 294 1-26 1-150 1-157 1 264 1-32 1-235 1 296 1-16 1-164 1-31 1 223 1 9 1 11 1-45 1-62 1-5 1-120 1 189 1-38 1 17 1-145 1-107 1 309 1-104 1-238 1 87 1 99 1-44 1 184 1 19 1-295 1 19 1-80 1 336 1-261 1-8 1 45 1 126 1-158 1 4 1-28 1 93 1 102 1 70 1-279 1 337 1-106 1-269 1 238 1-125 1 67 1-101 1-70 1 340 1-245 1-3 1 115 1 90 1 64 1-288 1 39 1-30 1 252 1-328 1 105 1 205 1-282 1 88 1 195 1 56 1-232 1-154 1 367 1-82 1-200 1-79 1 166 1 170 1-132 1 139 1-262 1 229 1-204 1-88 1 43 1-27 1 88 1 165 1-151 1-44 1-95 1 91 1 268 1-272 1-91 1 361 1-352 1 84 1-79 1 327 1-213 1 176 1-41 1-146 1-28 1-46 1 53 1 74 1 88 1-234 1 160 1 21 1-142 1 298 1-195 1-159 1 324 1-151 1 69 1-232 1 98 1-106 1 51 1 281 1-20 1-286 1 88 1 205 1-122 1-52 1-16 1 193 1-235 1-88 1 153 1 116 1 110 1-43 1-230 1 130 1-111 1 207 1-165 1 12 1-134 1 202 1-195 1 265 1-312 1 76 1 105 1 50 1 87 1-182 1-109 1 213 1-176 1 242 1-197 1 125 1 20 1-1 1-266 1 328 1-6 1-187 1-3 1 21 1-45 1 128 1 115 1-213 1-128 1 302 1-227 1 212 1-197 1-55 1-2 1 36 1 162 1-8 1-213 1 68 1-83 1 231 1-144 1 265 1-301 1-12 1-21 1 122 1 185 1-101 1-215 1 170 1 122 1-143 1 168 1 40 1-190 1 144 1-202 1 135 1-111 1-25 1-7 1 14 1-104 1 90 1-15 1 110 1 37 1 72 1-270 1 302 1-184 1 171 1 50 1-330 1 23 1 1 1 277 1-252 1 211 1-124 1 142 1-17 1-309 1 45 1 123 1 5 1-121 1 184 1-86 1-42 1-35 1-3 1-67 1 221 1-147 1 23 1 75 1 55 1-144 1 91 1-148 1-24 1 75 1-71 1 153 1-156 1 158 1 174 1-246 1 45 1 128 1 28 1-237 1 241 1-199 1 228 1-286 1 75 1 19 1 206 1-247 1-98 1 237 1-179 1 1 1 42 1-4 1 226 1-229 1-11 1 233 1 23 1-288 1 107 1-15 1-21 1-65 1-43 1 95 1 212 1-215 1 123 1-98 1-42 1 200 1-275 1 101 1-35 1 315 1-93 1-71 1 103 1-260 1 1 1 99 1-110 1 53 1-110 1 275 1-183 1 200 1-203 1-54 1 120 1 48 1 154 1-359 1 220 1-129 1-3 1-78 1 46 1 18 1-76 1 323 1-52 1-252 1 30 1 177 1-76 1 76 1-176 1 294 1-305 1 162 1-58 1-29 1 157 1-95 1-63 1 222 1-59 1-148 1 209 1-295 1-33 1 343 1-266 1 73 1 10 1-12 1-120 1-22 1-12 1 79 1 278 1-281 1-23 1-47 1 287 1-219 1 27 1-6 1 69 1 165 1-218 1 141 1-82 1 6 1-103 1 8 1 142 1 124 1-256 1-83 1 56 1-69 1 316 1-189 1 232 1-350 1 22 1 18 1 15 1 95 1 153 1-298 1 159 1-1 1-8 1-62 1-81 1 48 1 20 1-80 1 269 1-181 1-27 1 119 1-170 1 69 1 62 1-72 1 46 1 143 1-53 1-195 1 59 1-17 1 157 1-181 1 36 1 221 1 476 1-749 1 49 1 46 1-10 1-86 1 79 1 219 1-283 1 198 1 79 1-297 1 45 1 67 1 205 1-243 1-77 1 242 1-234 1 322 1-33 1 39 1-109 1-225 1 95 1 27 1-54 1 183 1-208 1 79 1 181 1-3 1-249 1 270 1 1 1-272 1-52 1 91 1-24 1-56 1-16 1 103 1 14 1 7 1 160 1-239 1-33 1 59 1-36 1-35 1 333 1-34 1-165 1-20 1 194 1-305 1 344 1-152 1-188 1 86 1 18 1 183 1-308 1 271 1 35 1-287 1 131 1-136 1 80 1-2 1 73 1-90 1 274 1-246 1-52 1 82 1-1 1 230 1-198 1-50 1-11 1 226 1-259 1 290 1 20 1-234 1 121 1-79 1-119 1-23 1 33 1-78 1 248 1 96 1 0 1-297 1 41 1 19 1 124 1-37 1-150 1 779 1-746 1-59 1-10 1 120 1-70 1 77 1-36 1 24 1-34 1 281 1-321 1 244 1-137 1-51 1 12 1 209 1-234 1 207 1-245 1 28 1 175 1-148 1-3 1 24 1-6 1-30 1 263 1-111 1 96 1-266 1 11 1-2 1 61 1-17 1-7 1-95 1-21 1 98 1 17 1 188 1 35 1-344 1 22 1 51 1-55 1 44 1 301 1-277 1 278 1-29 1-320 1 64 1 242 1 64 1-7 1-267 1-106 1 115 1-14 1-53 1 110 1 180 1-235 1 2 1-7 1 213 1-307 1 47 1 91 1-54 1 169 1-187 1 115 1-109 1-23 1 36 1-38 1 51 1-70 1 234 1 53 1 14 1-253 1-2 1-56 1 236 1-148 1 140 1 10 1-240 1 89 1-101 1 341 1-3 1-17 1-20 1-216 1 0 1-90 1 4 1 181 1-73 1 192 1-228 1 167 1 37 1-205 1-5 1 6 1 79 1-41 1-22 1 66 1 67 1 0 1 27 1-88 1 25 1-132 1 21 1-68 1 209 1-29 1 156 1-262 1-42 1 231 1 48 1-266 1 277 1-265 1 114 1 87 1 59 1-302 1 366 1-119 1-138 1-126 1 77 1-91 1 264 1 79 1-7 1-253 1 40 1-69 1 292 1-244 1 33 1-20 1 194 1 30 1-190 1-48 1 85 1-8 1-163 1 221 1-18 1-122 1 153 1 101 1 346 1-631 1 167 1-137 1-9 1-31 1-32 1 85 1-30 1-6 1 32 1 31 1-127 1 147 1-53 1 248 1-128 1-187 1 69 1 247 1-298 1 295 1-132 1-209 1 148 1-19 1-131 1 340 1-322 1 108 1 23 1 132 1-249 1-3 1 85 1 187 1-224 1 297 1-328 1-47 1 111 1-33 1 104 1-138 1 81 1 185 1 29 1-170 1 156 1-124 1-187 1 54 1 197 1 75 1-342 1 333 1-75 1 50 1-210 1-1 1 12 1 52 1-147 1 32 1 37 1 59 1-144 1 360 1-36 1-195 1-117 1 244 1-99 1 161 1-244 1 27 1 82 1-169 1 67 1 150 1-90 1 44 1-151 1 104 1 41 1-159 1 307 1-282 1 54 1-13 1 48 1 189 1 23 1-136 1 94 1 12 1-155 1-16 1-16 1 268 1-96 1-225 1-18 1-16 1 195 1 119 1 12 1-317 1 69 1-33 1 66 1 321 1-244 1 106 1-174 1-145 1 222 1 29 1 76 1-303 1-41 1 81 1 3 1-19 1 39 1 127 1 141 1-279 1-91 1 4 1 326 1-320 1-14 1 279 1-248 1 285 1 31 1-276 1 160 1-100 1 18 1-53 1 267 1-294 1 36 1 234 1-296 1 270 1-302 1 12 1 58 1 246 1-313 1 108 1-14 1 144 1 114 1-294 1 97 1-107 1 45 1 245 1-330 1 108 1-109 1-18 1 308 1-248 1 16 1-69 1 52 1 5 1 19 1-62 1 304 1-231 1-20 1 218 1-195 1 219 1-188 1 8 1 4 1 115 1 118 1-314 1 263 1 21 1-321 1 826 1-814 1 295 1-327 1 59 1 102 1-122 1 273 1-274 1 132 1-7 1-123 1 67 1-33 1 179 1-216 1 290 1-156 1 81 1-179 1 31 1 222 1-252 1 4 1 0 1-71 1 132 1-52 1 59 1-150 1 164 1-38 1 152 1-189 1 207 1-57 1-118 1 247 1-318 1 175 1 13 1-8 1 98 1-310 1 62 1 10 1 196 1-113 1-62 1 216 1-191 1 36 1-36 1 193 1-59 1-119 1 194 1-291 1 211 1-108 1-117 1 260 1-57 1 100 1-255 1-74 1 95 1 188 1-131 1-134 1 107 1-107 1 301 1-241 1 116 1 167 1-53 1 10 1-250 1-40 1 111 1-89 1-19 1 226 1-194 1 36 1-106 1 92 1 254 1-273 1 51 1 222 1-78 1-220 1 179 1 76 1-126 1 160 1-283 1 0 1 19 1-51 1 280 1 26 1-229 1-84 1 74 1-8 1-41 1 257 1-144 1-34 1-49 1 29 1 254 1-221 1 200 1-338 1 314 1 335 1-490 1-78 1 166 1-166 1 268 1-336 1 325 1-205 1-92 1 299 1-254 1 152 1 319 1-507 1 200 1 34 1-161 1 202 1-44 1 38 1-44 1 47 1 24 1 4 1-27 1-220 1 12 1-24 1-1 1-24 1 11 1 68 1-30 1 46 1-150 1 6 1 21 1 285 1-230 1-2 1 216 1-45 1-52 1 142 1-290 1 297 1-237 1 195 1-233 1 278 1-23 1-322 1 57 1-57 1 265 1-201 1 21 1 271 1-205 1-163 1 177 1 0 1-167 1 209 1-165 1-62 1 334 1-25 1-27 1-141 1-9 1 83 1 155 1-330 1 262 1-175 1 215 1-269 1 70 1-30 1-47 1 3 1-34 1-28 1 348 1-302 1 13 1 243 1 21 1 14 1-29 1-202 1 50 1-84 1 31 1 217 1-215 1 190 1-50 1-88 1-43 1-85 1 41 1 209 1-150 1 38 1 71 1-151 1-82 1 355 1-179 1-42 1-8 1 107 1 93 1-314 1 322 1-228 1 92 1-91 1-42 1 35 1 197 1-139 1-162 1 352 1-335 1-17 1 79 1-60 1 55 1-69 1 334 1-304 1 206 1-94 1-26 1 138 1-117 1-68 1-79 1 113 1 161 1 59 1-317 1 19 1 71 1 116 1-22 1-98 1 14 1-50 1 238 1-136 1 193 1-234 1 145 1-20 1-185 1 6 1 240 1-217 1-48 1 294 1 27 1-243 1 73 1-177 1 101 1-90 1 104 1-130 1 4 1 151 1-75 1 118 1-202 1 163 1 15 1 11 1-101 1-37 1-36 1 39 1-46 1 144 1 212 1-276 1-94 1 11 1 61 1 54 1 11 1 56 1 65 1-136 1 162 1-271 1 51 1 333 1-195 1-20 1-67 1 39 1 197 1-349 1 238 1-76 1-29 1 180 1-231 1-11 1 10 1 74 1 122 1 47 1 31 1-356 1 96 1 237 1 18 1-288 1 32 1-9 1 50 1-94 1 93 1 169 1-93 1-136 1 164 1 68 1 37 1-264 1 54 1-59 1-8 1 148 1 4 1-216 1 162 1-144 1 69 1 48 1-30 1-50 1 44 1 3 1-9 1-20 1 110 1 154 1-203 1 98 1-154 1-56 1 121 1-60 1-7 1-27 1-29 1-10 1 336 1-145 1-117 1-10 1 97 1 110 1-111 1 138 1-187 1-25 1 62 1 121 1 25 1-286 1 30 1-7 1 114 1-75 1-31 1 63 1 163 1-268 1 69 1-68 1 101 1 227 1 9 1 5 1-346 1 39 1 140 1-100 1 61 1-148 1 53 1 268 1 8 1-258 1 267 1-243 1 198 1-288 1 304 1-293 1 37 1 37 1 14 1 203 1 7 1-293 1 329 1-194 1-98 1 85 1-40 1-11 1 79 1 236 1-297 1-81 1 318 1-130 1-121 1-81 1 99 1 235 1-68 1-215 1-61 1 27 1 293 1-65 1 71 1-103 1-168 1 284 1-310 1 304 1-251 1 105 1-71 1 48 1-71 1-89 1 60 1 56 1 92 1-171 1 4 1 282 1 14 1-265 1 89 1-110 1 173 1-72 1-147 1 59 1-27 1 91 1-20 1-104 1-7 1 149 1 129 1-165 1-77 1 68 1-108 1 103 1 22 1-80 1 157 1 122 1-91 1 104 1-131 1-111 1 196 1-263 1 42 1 169 1-107 1-130 1 343 1-322 1 334 1-3 1-268 1 149 1-115 1-55 1 115 1-101 1-79 1 79 1 246 1-102 1-133 1 7 1 33 1-22 1 222 1-330 1 71 1 60 1-58 1 142 1 107 1-111 1 149 1-73 1-108 1-93 1-2 1 302 1-381 1 30 1 300 1-263 1 18 1-24 1-65 1 159 1-86 1-3 1 59 1-83 1-31 1 116 1 223 1-331 1 81 1 112 1 68 1-65 1 96 1 1 1-6 1-287 1 61 1 274 1-295 1 279 1-271 1 107 1-32 1 212 1-8 1-279 1 277 1-234 1-78 1 275 1-8 1-212 1 88 1-70 1 16 1 129 1-161 1-87 1 337 1-225 1 231 1-260 1-55 1 35 1 75 1 15 1 10 1-93 1 54 1 211 1-21 1 30 1-312 1 66 1-31 1-10 1 67 1-116 1 56 1 35 1 132 1 118 1-97 1-191 1 323 1-174 1-201 1 144 1 61 1-108 1-6 1 52 1 121 1-6 1-233 1 140 1-152 1 286 1-290 1 292 1-57 1-130 1-67 1-30 1 299 1-138 1 35 1 109 1-253 1 97 1 165 1-251 1 234 1-16 1-201 1 174 1-155 1-12 1-24 1 41 1-28 1-108 1 20 1 344 1-194 1-63 1 119 1-102 1 58 1-121 1 159 1-168 1 26 1 30 1-13 1 234 1-117 1 6 1 106 1-268 1 11 1 228 1-63 1-95 1 7 1 149 1-208 1 6 1-27 1 195 1-146 1-3 1 178 1 100 1-71 1-222 1 172 1 51 1-230 1-68 1 120 1 195 1-74 1 68 1-21 1-209 1-45 1 264 1 18 1-272 1 66 1-10 1-23 1 2 1 48 1 203 1-5 1-260 1-39 1 54 1 173 1-124 1 193 1-328 1-7 1 120 1-114 1 4 1 70 1 218 1-308 1 16 1 12 1 309 1-80 1 86 1-14 1-231 1-96 1 325 1-299 1 83 1-22 1-7 1-64 1 98 1 125 1-153 1-3 1 77 1 160 1 20 1-228 1-86 1-1 1 166 1 45 1 78 1-36 1-27 1-201 1 72 1 62 1-151 1 293 1-160 1 185 1-290 1 78 1-44 1-86 1 72 1 265 1 29 1-36 1-20 1-169 1-88 1 230 1-168 1-24 1-83 1 290 1 90 1-380 1 300 1-128 1 137 1 18 1-235 1-25 1 220 1-238 1 330 1-394 1 120 1 45 1-93 1 17 1 242 1-214 1 222 1-310 1 165 1-46 1-74 1-50 1 219 1-28 1-153 1 295 1-191 1-11 1 552 1-384 1-283 1 43 1 246 1-46 1-56 1 23 1-238 1 293 1 25 1-270 1 288 1-20 1 20 1-17 1-184 1-61 1 49 1-86 1 62 1-61 1 211 1 92 1-267 1 118 1-140 1 126 1-184 1 53 1 95 1 26 1 140 1-277 1 46 1 236 1-286 1 214 1-66 1 103 1-184 1-49 1 225 1-181 1 18 1-98 1 319 1-15 1-265 1 36 1 236 1-211 1 225 1-108 1 0 1 85 1 15 1-11 1 36 1-266 1 243 1-41 1-121 1 165 1-236 1-21 1 251 1-273 1-61 1 38 1-5 1 279 1-165 1-63 1-68 1 221 1-219 1 77 1-80 1 154 1-131 1 295 1-252 1-15 1 296 1-214 1-41 1-41 1 9 1 18 1 20 1-114 1 141 1 201 1-291 1 305 1-204 1 124 1-50 1-104 1-46 1 266 1-294 1 11 1 169 1-133 1 122 1 116 1-314 1 239 1 100 1-316 1 76 1 256 1-309 1 11 1-45 1 29 1 238 1-64 1 115 1-229 1-2 1 221 1-150 1-18 1-93 1-55 1 67 1 5 1-93 1 218 1 127 1-7 1-225 1-31 1 241 1-46 1 49 1-255 1 33 1 198 1-47 1-108 1-85 1 253 1-300 1 135 1-25 1 247 1-374 1 20 1 89 1 54 1-43 1-84 1 311 1-20 1-92 1-82 1-14 1 202 1-44 1-245 1-48 1 111 1 241 1 68 1-370 1 71 1 228 1-192 1 127 1-168 1 232 1-29 1-302 1 126 1-83 1 67 1 204 1-260 1-2 1 200 1 44 1-307 1 12 1 10 1 297 1-204 1 25 1-84 1 43 1-23 1 35 1 194 1-227 1-77 1 318 1-49 1 99 1-361 1 2 1-18 1 332 1-259 1 22 1 59 1 181 1-333 1 347 1-34 1-168 1 137 1-99 1 124 1-80 1-101 1-37 1-18 1 237 1-176 1-7 1-44 1-91 1 155 1-132 1 82 1-103 1 316 1 20 1-296 1 94 1-1 1-8 1-5 1-64 1 27 1 272 1-281 1-66 1 95 1 225 1-267 1 233 1 26 1 14 1-247 1 215 1 19 1-300 1 8 1 38 1 39 1 172 1-267 1-5 1 85 1 22 1 237 1-213 1-98 1 117 1 140 1 29 1 18 1-201 1 182 1-107 1-103 1 217 1-217 1-89 1 87 1 214 1-219 1-98 1 91 1-62 1 305 1-229 1 196 1-140 1-56 1-69 1-27 1-12 1 367 1-21 1-23 1-240 1 45 1 255 1-217 1 170 1 7 1-279 1 0 1 255 1-74 1 103 1-232 1 124 1 112 1-104 1-116 1 17 1 125 1-271 1 119 1-10 1-20 1 244 1-115 1 8 1-120 1 65 1-69 1-22 1-73 1 81 1 285 1-337 1 66 1 210 1-173 1-38 1 217 1 30 1-246 1 232 1-314 1 132 1-20 1 90 1-115 1 173 1-191 1-77 1 118 1-60 1 128 1 121 1-237 1 192 1 69 1-154 1-98 1 62 1-15 1 195 1-201 1-101 1 232 1 9 1-133 1 200 1-223 1 222 1-34 1-237 1-73 1 146 1 230 1-56 1-280 1 91 1-34 1 252 1-277 1 126 1 170 1-205 1-42 1 6 1-14 1-104 1 203 1-115 1-79 1 120 1-20 1 197 1-307 1 140 1 191 1-112 1-119 1-32 1-64 1 246 1-122 1-12 1-120 1 133 1 11 1 424 1-561 1 55 1 285 1-298 1 98 1-9 1 181 1-172 1 7 1 200 1-120 1-87 1-136 1 292 1-168 1 214 1-354 1 64 1 27 1 240 1-264 1-8 1 292 1-228 1-7 1-119 1 119 1-52 1 24 1 74 1 204 1-15 1-280 1 259 1 11 1-231 1-61 1 137 1 63 1-133 1 78 1-179 1 5 1 134 1-23 1-112 1-3 1 94 1 205 1-51 1 56 1-59 1-202 1 262 1-30 1-220 1 36 1-9 1 237 1-318 1 131 1 111 1-142 1-58 1 290 1-320 1 296 1-63 1 109 1-266 1 225 1-323 1 61 1 208 1 77 1-279 1 200 1-250 1 33 1 299 1-78 1-94 1-87 1-87 1 54 1 36 1 234 1-237 1-12 1 159 1-95 1-24 1 155 1 47 1-296 1 64 1 237 1-7 1-306 1 160 1-168 1 60 1 93 1-105 1 93 1 5 1-38 1-58 1-14 1 8 1 80 1 66 1-110 1 82 1-176 1 130 1-50 1 122 1-197 1 342 1-206 1 44 1-92 1 284 1-35 1-49 1-73 1-46 1-65 1-2 1-11 1 6 1 157 1 80 1-235 1 237 1-256 1-77 1 314 1 39 1-326 1 214 1-153 1 173 1-57 1 90 1-200 1-1 1 1 1-93 1 338 1-28 1-55 1-255 1 67 1 3 1 126 1-85 1-36 1 72 1-9 1 83 1-114 1 169 1-217 1 24 1 230 1-283 1 295 1-24 1-10 1-168 1 17 1-57 1-26 1 9 1-21 1 291 1-289 1 55 1 191 1-231 1 0 1 65 1 18 1-82 1 19 1-72 1 158 1-153 1-3 1 125 1 141 1-184 1 93 1-120 1 20 1-95 1 368 1-330 1 5 1 64 1 82 1 180 1-189 1-121 1 73 1 69 1-36 1 171 1-89 1 89 1-206 1-57 1-69 1 53 1 150 1-77 1-42 1 33 1 225 1-80 1 10 1-260 1 46 1 26 1 150 1-89 1-136 1 116 1 158 1-149 1 74 1 129 1-331 1 91 1 171 1 126 1-213 1 33 1-157 1 199 1-175 1-64 1-16 1 52 1 31 1-5 1 20 1-65 1 74 1 9 1 29 1-106 1 246 1-147 1-138 1 61 1-47 1 16 1 143 1-52 1 137 1-221 1-33 1 239 1 112 1-360 1 145 1 257 1-384 1 126 1-1 1 30 1-157 1-8 1 51 1 125 1-125 1 76 1-24 1-6 1-9 1 51 1-13 1-13 1-22 1-70 1 90 1 199 1-13 1-238 1 63 1 120 1 10 1-90 1-61 1-24 1-66 1-5 1 227 1-120 1-72 1 45 1 16 1-28 1 82 1 47 1-73 1-81 1 22 1 13 1-84 1 81 1-29 1-59 1 107 1 27 1 122 1-259 1 232 1 100 1-117 1 33 1 94 1-135 1-202 1 136 1-32 1 11 1 154 1 86 1-8 1-178 1-69 1-8 1 252 1-324 1 76 1 74 1-54 1 37 1 38 1 121 1-92 1-35 1-134 1 298 1-236 1-34 1-14 1-58 1 103 1 232 1-30 1-223 1-37 1 210 1-187 1 2 1-71 1 225 1-200 1 300 1-29 1-46 1 5 1-12 1-183 1 80 1-149 1 349 1-292 1-36 1 231 1-158 1 100 1-114 1 50 1-98 1 14 1 94 1-100 1-32 1 60 1-54 1 332 1-219 1 29 1 188 1-254 1 210 1-240 1-43 1 4 1 20 1 304 1-245 1 5 1 69 1 65 1-188 1 64 1-108 1 186 1-90 1 13 1 134 1-155 1 210 1-239 1 57 1 271 1-389 1 60 1 98 1-114 1 25 1 62 1-29 1-60 1-46 1 341 1-196 1-78 1 51 1-7 1 184 1-228 1 33 1-43 1 298 1-287 1-62 1 176 1-20 1 94 1 100 1-278 1 24 1 72 1-51 1-4 1-27 1 65 1-69 1-65 1 42 1-50 1-13 1 90 1 226 1-147 1 188 1-40 1-187 1 58 1-91 1 224 1 42 1-271 1 253 1-179 1-55 1 29 1 127 1-239 1-17 1 224 1-133 1 259 1-140 1-63 1 101 1 95 1-103 1-197 1 47 1 252 1 14 1-41 1-213 1-109 1-6 1 364 1-292 1 42 1 227 1-34 1-155 1-122 1 43 1 145 1 20 1-241 1 343 1-245 1 24 1-20 1 297 1-331 1 260 1-180 1-126 1 38 1 81 1 17 1 85 1 68 1-58 1-133 1-48 1 32 1 161 1-170 1-30 1-10 1-3 1 185 1-31 1-118 1 102 1 143 1-114 1 130 1-329 1 56 1 63 1-29 1-20 1-63 1 152 1-90 1 307 1-301 1 44 1 184 1-154 1 111 1-50 1-15 1-124 1 261 1-235 1-50 1 69 1-17 1 217 1 43 1-66 1-199 1 2 1-57 1 86 1-133 1 214 1-42 1 63 1-87 1 182 1-211 1-42 1-85 1 347 1-224 1-37 1-43 1 9 1 244 1-251 1 256 1 68 1-229 1 118 1 54 1-192 1 0 1 23 1 175 1-247 1 103 1 129 1-167 1 79 1-118 1 22 1-122 1 325 1-300 1 14 1 270 1-157 1-139 1 113 1 172 1 15 1-221 1-33 1 192 1-228 1 225 1-175 1 7 1-22 1 172 1-118 1 39 1 72 1 163 1-385 1 313 1-267 1 108 1 13 1-84 1 0 1 237 1-257 1 21 1 94 1 148 1-226 1 226 1 6 1-155 1-127 1 20 1 60 1 9 1 45 1-86 1 222 1-298 1 151 1 21 1-67 1 3 1 260 1-213 1 45 1-43 1 172 1-268 1-25 1-50 1 282 1-235 1 252 1-198 1 16 1 176 1-245 1 86 1-61 1 45 1-22 1 186 1-144 1-66 1-47 1 15 1-5 1 233 1-99 1-131 1-33 1 5 1 78 1 208 1 47 1-207 1-18 1 46 1-45 1-111 1 305 1-181 1-59 1 270 1-213 1-114 1 348 1-334 1 100 1-71 1 27 1 119 1-41 1 1 1-76 1 175 1-76 1 106 1-154 1 0" fill="none" stroke="#4d4d4d" stroke-width="3.6" vector-effect="non-scaling-stroke" stroke-linejoin="bevel" marker-start="url(#Ck)" marker-mid="url(#Ck)" marker-end="url(#Ck)"/>
<path transform="translate(208.1 1763.3) scale(0.23143 -0.5977)" d="M0 42l1 135 1-162 1 243 1-193 1-17 1 36 1-43 1 207 1-80 1 57 1 112 1 7 1-216 1 220 1-259 1-21 1 279 1-209 1-31 1 78 1 157 1-338 1 210 1-181 1 132 1 73 1 3 1 24 1-173 1 1 1 56 1 123 1-77 1-61 1-27 1-41 1 20 1 26 1 53 1-49 1 23 1 174 1 47 1-296 1 80 1-28 1-15 1 248 1-4 1-140 1 116 1-258 1 13 1 238 1-159 1 93 1-125 1 7 1-100 1 72 1 68 1-109 1-66 1 95 1-47 1 66 1-93 1 70 1 35 1 193 1-160 1 192 1-221 1 218 1-224 1 204 1 23 1-16 1-163 1-30 1 123 1-105 1-4 1 116 1-134 1-118 1 107 1-46 1 77 1-39 1-100 1 328 1-268 1-61 1 146 1 187 1-317 1 23 1 42 1 223 1 29 1-330 1 152 1 173 1-14 1-227 1 232 1-168 1 24 1-62 1-41 1 114 1 13 1 109 1 65 1-260 1 222 1-186 1-74 1-69 1 84 1 24 1-45 1-48 1 74 1 157 1 80 1-252 1-28 1 77 1-126 1 233 1-157 1-91 1 170 1 169 1-191 1-107 1-30 1 14 1 17 1 58 1 137 1-148 1 4 1-11 1 61 1 193 1-278 1 52 1-101 1 235 1 98 1-146 1-89 1 142 1-111 1-33 1 200 1 15 1-217 1 243 1-287 1 0 1 137 1-95 1-7 1-5 1 103 1-101 1 13 1 37 1-2 1 37 1-98 1-56 1 319 1-322 1 259 1-180 1 212 1 65 1-329 1 301 1-162 1-69 1 33 1 38 1-179 1 86 1 219 1-202 1-90 1 77 1 144 1-53 1-85 1 240 1-67 1-116 1 162 1-289 1 39 1 50 1 53 1-166 1 66 1 98 1 97 1 72 1-186 1 188 1-187 1 186 1-282 1-56 1 27 1-24 1 119 1-71 1 174 1-147 1-31 1 131 1-17 1-117 1 293 1-27 1-158 1-128 1 110 1-91 1 86 1 13 1-140 1 336 1-232 1-75 1-35 1 342 1-213 1 211 1-149 1-17 1 134 1 69 1-28 1-97 1-131 1 45 1 6 1 172 1-227 1 42 1 186 1-145 1-99 1 2 1-31 1 227 1-137 1-102 1 184 1-77 1 33 1 26 1-213 1 92 1 240 1-85 1 58 1-7 1-249 1 122 1-67 1-41 1 159 1 79 1-26 1-214 1 182 1-18 1-216 1 322 1-258 1 58 1-4 1-37 1-51 1-16 1 236 1-137 1 206 1-205 1 131 1-162 1-32 1-45 1 85 1 8 1-65 1 57 1-108 1 218 1 127 1-219 1 3 1 203 1-107 1-89 1-21 1 76 1-137 1 243 1 37 1-201 1-37 1 46 1 200 1-275 1 109 1-176 1 297 1-217 1-6 1 264 1-279 1-64 1 95 1 83 1-106 1 22 1-10 1 49 1 87 1 13 1-175 1 258 1-309 1 33 1 296 1-200 1-127 1 54 1 57 1-60 1 198 1-226 1 100 1 209 1 2 1-283 1-9 1 35 1-86 1 338 1-224 1 194 1-217 1 223 1-61 1-111 1-91 1 289 1-238 1-32 1 150 1 121 1-216 1 0 1 191 1-166 1-108 1 25 1-19 1-30 1 330 1-202 1-131 1 6 1 225 1 77 1-312 1 97 1-2 1 42 1 9 1-86 1 4 1-73 1 121 1 200 1 37 1-56 1-205 1 242 1-193 1 193 1-209 1 84 1-173 1 256 1-122 1-101 1 11 1-83 1 332 1-235 1 150 1-167 1 12 1 154 1-132 1-47 1 274 1-99 1-12 1 25 1-146 1 17 1-26 1 40 1 131 1-125 1-126 1 101 1-97 1 22 1-39 1 365 1-66 1-234 1 62 1-57 1 21 1 46 1 197 1-3 1-295 1 6 1 77 1 55 1 156 1-219 1 75 1 146 1-122 1-204 1 114 1 211 1 1 1 2 1-244 1-9 1-54 1 303 1-95 1 94 1-222 1 5 1 220 1-305 1 195 1-158 1 240 1-264 1 254 1-59 1-42 1 134 1-228 1 277 1-338 1 272 1-196 1 36 1 151 1-173 1 124 1-156 1 169 1 37 1-242 1 15 1 44 1 37 1-97 1-19 1-11 1-17 1 160 1 154 1-171 1-121 1-74 1-17 1 391 1-33 1-193 1-45 1 119 1-80 1 51 1 15 1-81 1 5 1-77 1 100 1-126 1 110 1 135 1-22 1-109 1-44 1 47 1 219 1-194 1-42 1-22 1-60 1 63 1 49 1-121 1 303 1-137 1-32 1-101 1-72 1 164 1-67 1 86 1-74 1 272 1-254 1 175 1 63 1-269 1 115 1 107 1-44 1-247 1 180 1-8 1-184 1 353 1-103 1 15 1-198 1 261 1-234 1 261 1-201 1 200 1-98 1-82 1 88 1-192 1 101 1 92 1-222 1 288 1-291 1 145 1 58 1 117 1-341 1 166 1 10 1-89 1 97 1 124 1-187 1 188 1-229 1-41 1 199 1-70 1 111 1-52 1 165 1-35 1-234 1 17 1 131 1-214 1 6 1 74 1-50 1-56 1 70 1-148 1 291 1-116 1-85 1 295 1-175 1-64 1 6 1 34 1-79 1 270 1-59 1-103 1-80 1-73 1 106 1 214 1 85 1-63 1-18 1-75 1-115 1-107 1 32 1-68 1 156 1 20 1-175 1 162 1 41 1-95 1 42 1-159 1 161 1-129 1 117 1-82 1 48 1 203 1-57 1-133 1-78 1 83 1 56 1-125 1 21 1-74 1 69 1 252 1-264 1 275 1 0 1-244 1-64 1 62 1 41 1-12 1 95 1-105 1 153 1-63 1-69 1-170 1 56 1 69 1-47 1 295 1-225 1 168 1 58 1-159 1-75 1 115 1 92 1-197 1-57 1 47 1 44 1-148 1-2 1 12 1 135 1-34 1 202 1-190 1 208 1-19 1-140 1-50 1-130 1 272 1-56 1-85 1 311 1-128 1 32 1-87 1 63 1-241 1 231 1 12 1 23 1-254 1 44 1 204 1-76 1-184 1 266 1 3 1-225 1 139 1-212 1 50 1 108 1 76 1-127 1 223 1-340 1 313 1-300 1 297 1-258 1 254 1-259 1 257 1 1 1-91 1-163 1 7 1 200 1-310 1 353 1-367 1 86 1 130 1-125 1 65 1 214 1-298 1 299 1-23 1 18 1-31 1-187 1-113 1 88 1 245 1-315 1 108 1-73 1 90 1-129 1 261 1-40 1-15 1 94 1-232 1 106 1-55 1 202 1-273 1 55 1 115 1-188 1-46 1 118 1-63 1-30 1 126 1 183 1-185 1-11 1-26 1 8 1 248 1-256 1 23 1 89 1-127 1 178 1-215 1-52 1 333 1-233 1-11 1 1 1-32 1-37 1 303 1-232 1-97 1-7 1 341 1-174 1-17 1 191 1-340 1 342 1-5 1-271 1 270 1-209 1-156 1 72 1 393 1-349 1-89 1 341 1-267 1 12 1-110 1 122 1 36 1-121 1 194 1-133 1-74 1 156 1 155 1-221 1 5 1 217 1-71 1-184 1 311 1-27 1-173 1-131 1 272 1-25 1-231 1 288 1-36 1-167 1-27 1 234 1-6 1 6 1-2 1-88 1-9 1-111 1 195 1-80 1 68 1-165 1-92 1 285 1-98 1-240 1 95 1 76 1-17 1 182 1 0 1-280 1 9 1-53 1 322 1-238 1-34 1 65 1 77 1-103 1 4 1-30 1 70 1 90 1 99 1-293 1 287 1-76 1-255 1 226 1-111 1 83 1-109 1-89 1 342 1-230 1 3 1 108 1 78 1 47 1-257 1 31 1-38 1 258 1-318 1 83 1 228 1-270 1 43 1 232 1 53 1-236 1-144 1 369 1-87 1-226 1-56 1 169 1 154 1-124 1 128 1-230 1 202 1-201 1-105 1 39 1-11 1 92 1 179 1-169 1-42 1-100 1 91 1 249 1-263 1-105 1 396 1-361 1 75 1-60 1 321 1-216 1 165 1-23 1-159 1 12 1-61 1 42 1 75 1 81 1-235 1 178 1 36 1-165 1 272 1-156 1-169 1 322 1-162 1 95 1-268 1 62 1-46 1 20 1 303 1-29 1-254 1 61 1 215 1-98 1-64 1-30 1 171 1-235 1-63 1 150 1 94 1 125 1-48 1-226 1 132 1-96 1 196 1-172 1 16 1-140 1 221 1-185 1 253 1-331 1 104 1 95 1 43 1 90 1-195 1-94 1 207 1-197 1 268 1-206 1 133 1 5 1 31 1-276 1 320 1 3 1-199 1-20 1 14 1-36 1 129 1 114 1-228 1-91 1 325 1-238 1 210 1-186 1-61 1-6 1 46 1 126 1-23 1-202 1 45 1-43 1 220 1-123 1 229 1-263 1-47 1-43 1 153 1 160 1-55 1-230 1 189 1 140 1-170 1 168 1-2 1-175 1 173 1-223 1 135 1-117 1-22 1-15 1 27 1-161 1 146 1-10 1 113 1 54 1 81 1-313 1 306 1-159 1 158 1 50 1-337 1 38 1 0 1 246 1-220 1 206 1-118 1 105 1 1 1-301 1 40 1 120 1-10 1-80 1 199 1-118 1-27 1-38 1-25 1-62 1 242 1-189 1 46 1 81 1 52 1-147 1 95 1-138 1-29 1 70 1-89 1 182 1-206 1 195 1 163 1-216 1 30 1 129 1 2 1-220 1 281 1-244 1 244 1-307 1 88 1 1 1 219 1-241 1-95 1 261 1-207 1 3 1 54 1-38 1 258 1-234 1-4 1 213 1 41 1-270 1 61 1-7 1 3 1-60 1-62 1 84 1 234 1-225 1 132 1-74 1-72 1 184 1-282 1 132 1-35 1 291 1-52 1-91 1 95 1-259 1-28 1 101 1-80 1 45 1-110 1 298 1-182 1 177 1-198 1-73 1 125 1 51 1 162 1-359 1 232 1-113 1-36 1-83 1 55 1 22 1-88 1 340 1-46 1-297 1 57 1 173 1-71 1 64 1-166 1 287 1-301 1 187 1-93 1-42 1 170 1-83 1-52 1 218 1-36 1-181 1 212 1-281 1-32 1 318 1-250 1 63 1 10 1 5 1-93 1-53 1 11 1 39 1 258 1-232 1-29 1-47 1 280 1-250 1 77 1-27 1 57 1 182 1-236 1 168 1-93 1 2 1-108 1-21 1 196 1 88 1-258 1-71 1 49 1-44 1 307 1-185 1 250 1-376 1 37 1 31 1 17 1 64 1 178 1-336 1 189 1-8 1-37 1-51 1-57 1 48 1 10 1-61 1 222 1-185 1 13 1 89 1-176 1 86 1 76 1-76 1 33 1 141 1-24 1-209 1 73 1-19 1 148 1-176 1 43 1 216 1 126 1-452 1 97 1 41 1-29 1-79 1 112 1 195 1-244 1 165 1 97 1-323 1 59 1 78 1 189 1-272 1-63 1 262 1-295 1 365 1-15 1 21 1-104 1-230 1 100 1 59 1-89 1 219 1-240 1 73 1 168 1 33 1-258 1 262 1 1 1-269 1-43 1 77 1-28 1-32 1-27 1 111 1 1 1 19 1 152 1-235 1-67 1 107 1-40 1-61 1 338 1-8 1-191 1-18 1 212 1-333 1 342 1-98 1-231 1 71 1 44 1 172 1-296 1 244 1 21 1-269 1 134 1-125 1 79 1 21 1 41 1-89 1 275 1-238 1-69 1 104 1 1 1 207 1-200 1-31 1-23 1 227 1-250 1 268 1 4 1-199 1 127 1-93 1-121 1-16 1 41 1-55 1 225 1 92 1-3 1-271 1 17 1 20 1 140 1-50 1-114 1 356 1-331 1-79 1-13 1 133 1-81 1 82 1-79 1 85 1-64 1 284 1-316 1 231 1-161 1-16 1 12 1 215 1-242 1 209 1-267 1 46 1 164 1-164 1 0 1 35 1-10 1-20 1 248 1-69 1 73 1-236 1-38 1 9 1 80 1-35 1-35 1-53 1-20 1 93 1 29 1 154 1 54 1-331 1 7 1 37 1-37 1 69 1 256 1-240 1 237 1-1 1-305 1 23 1 277 1 58 1-43 1-239 1-95 1 130 1-59 1-29 1 99 1 191 1-221 1-31 1-4 1 214 1-302 1 42 1 72 1-65 1 191 1-184 1 112 1-62 1-60 1 58 1-37 1 11 1-46 1 201 1 73 1 23 1-259 1 35 1-74 1 219 1-124 1 146 1-36 1-283 1 162 1-97 1 321 1-2 1-2 1-1 1-228 1 2 1-99 1 5 1 160 1-53 1 189 1-205 1 140 1 21 1-178 1-27 1 32 1 68 1-72 1-7 1 92 1 51 1 18 1 23 1-116 1 29 1-86 1-13 1-72 1 216 1-3 1 117 1-233 1-57 1 219 1 72 1-316 1 318 1-248 1 110 1 61 1 70 1-288 1 342 1-88 1-187 1-135 1 110 1-91 1 274 1 64 1 4 1-252 1 37 1-49 1 262 1-239 1 25 1 0 1 188 1 25 1-200 1-40 1 90 1-17 1-155 1 221 1-33 1-105 1 133 1 106 1 96 1-343 1 179 1-174 1-16 1-9 1-58 1 82 1-31 1 6 1 28 1 7 1-94 1 130 1-62 1 262 1-123 1-170 1 40 1 247 1-296 1 295 1-106 1-219 1 167 1-62 1-130 1 358 1-316 1 80 1 30 1 157 1-256 1-9 1 113 1 185 1-245 1 288 1-327 1-86 1 165 1-32 1 67 1-96 1 70 1 191 1 19 1-166 1 161 1-112 1-190 1 65 1 167 1 72 1-314 1 345 1-99 1 70 1-221 1-2 1 8 1 37 1-160 1 46 1 40 1 75 1-194 1 403 1-58 1-208 1-112 1 251 1-96 1 172 1-263 1 57 1 67 1-172 1 67 1 142 1-79 1 25 1-113 1 81 1 50 1-168 1 299 1-235 1 24 1-23 1 14 1 249 1-2 1-132 1 100 1-5 1-124 1-25 1-34 1 271 1-73 1-241 1-5 1-38 1 212 1 93 1 29 1-313 1 46 1-42 1 86 1 249 1-173 1 114 1-175 1-190 1 266 1 15 1 87 1-311 1-26 1 92 1 12 1-48 1 36 1 134 1 152 1-310 1-74 1 11 1 328 1-384 1 48 1 296 1-269 1 290 1 24 1-276 1 179 1-114 1 31 1-74 1 260 1-268 1 14 1 244 1-264 1 203 1-320 1 78 1 43 1 271 1-330 1 88 1-2 1 137 1 122 1-308 1 105 1-100 1 63 1 220 1-303 1 57 1-76 1-1 1 291 1-237 1-20 1-10 1 14 1 22 1 17 1-63 1 299 1-230 1-30 1 233 1-200 1 216 1-202 1 28 1-10 1 93 1 115 1-270 1 258 1 8 1-307 1 401 1-398 1 300 1-323 1 37 1 113 1-130 1 306 1-297 1 128 1-11 1-105 1 57 1-40 1 187 1-210 1 272 1-155 1 81 1-147 1 3 1 235 1-259 1 16 1 12 1-101 1 171 1-95 1 51 1-111 1 150 1-24 1 152 1-211 1 224 1-54 1-130 1 242 1-323 1 168 1 31 1-5 1 97 1-330 1 39 1 45 1 206 1-115 1-65 1 222 1-213 1 37 1-29 1 202 1-59 1-133 1 194 1-262 1 202 1-131 1-98 1 289 1-83 1 83 1-301 1-32 1 91 1 206 1-139 1-135 1 105 1-104 1 283 1-222 1 122 1 124 1-37 1 37 1-242 1-27 1 114 1-107 1-27 1 261 1-233 1 24 1-78 1 88 1 226 1-257 1 45 1 220 1-96 1-204 1 197 1 47 1-118 1 163 1-255 1-9 1-28 1-1 1 265 1 39 1-240 1-108 1 90 1-3 1-9 1 225 1-137 1-47 1-40 1 25 1 240 1-228 1 230 1-371 1 346 1 117 1-277 1-101 1 176 1-141 1 246 1-324 1 329 1-220 1-65 1 281 1-261 1 133 1 224 1-366 1 196 1 22 1-160 1 209 1-66 1 68 1-63 1 61 1 11 1-6 1-1 1-240 1-4 1 6 1-29 1-41 1 51 1 56 1-10 1 9 1-120 1-11 1 24 1 308 1-226 1-21 1 213 1-44 1-60 1 144 1-299 1 298 1-231 1 196 1-238 1 279 1-9 1-336 1 89 1-88 1 259 1-195 1 24 1 282 1-197 1-160 1 157 1-13 1-118 1 208 1-183 1-68 1 336 1-23 1-23 1-137 1-62 1 145 1 157 1-339 1 234 1-161 1 211 1-284 1 68 1-24 1-17 1 3 1-58 1-14 1 329 1-295 1-10 1 277 1 21 1 4 1-24 1-190 1 45 1-101 1 20 1 226 1-215 1 205 1-66 1-81 1-55 1-77 1 65 1 197 1-158 1 51 1 58 1-154 1-132 1 386 1-157 1-24 1-27 1 116 1 89 1-336 1 315 1-165 1 29 1-52 1-48 1 31 1 192 1-149 1-155 1 343 1-322 1-7 1 59 1-61 1 75 1-90 1 326 1-287 1 203 1-92 1-42 1 140 1-88 1-57 1-86 1 88 1 159 1 79 1-340 1 65 1 48 1 137 1-66 1-72 1 13 1-52 1 234 1-159 1 190 1-179 1 97 1-19 1-184 1 30 1 235 1-213 1-42 1 274 1 48 1-269 1 86 1-178 1 74 1-53 1 100 1-185 1 70 1 145 1-90 1 97 1-182 1 158 1 6 1 24 1-95 1-37 1-57 1 69 1-41 1 115 1 198 1-267 1-112 1 80 1 47 1 25 1 34 1 41 1 82 1-165 1 195 1-311 1 76 1 329 1-211 1-16 1-45 1 28 1 185 1-315 1 219 1-58 1-29 1 186 1-233 1-24 1-9 1 79 1 131 1 38 1 19 1-341 1 94 1 246 1 1 1-283 1 30 1 0 1 51 1-103 1 106 1 201 1-105 1-153 1 161 1 89 1 8 1-259 1 26 1-30 1 5 1 135 1-37 1-177 1 149 1-141 1 78 1 45 1-25 1-51 1 29 1 39 1-31 1-7 1 90 1 195 1-243 1 116 1-197 1-23 1 117 1-80 1 10 1-15 1-36 1-7 1 322 1-115 1-149 1-10 1 110 1 111 1-112 1 166 1-224 1-15 1 29 1 151 1 36 1-277 1 18 1 11 1 65 1-64 1-28 1 73 1 187 1-275 1 54 1-75 1 118 1 228 1-9 1-1 1-321 1 44 1 107 1-104 1 68 1-176 1 71 1 286 1 21 1-290 1 304 1-253 1 188 1-289 1 308 1-289 1 69 1 2 1 13 1 177 1 59 1-340 1 343 1-185 1-91 1 66 1-6 1-25 1 60 1 236 1-282 1-84 1 304 1-109 1-113 1-112 1 120 1 223 1-50 1-219 1-49 1 28 1 284 1-75 1 79 1-99 1-182 1 280 1-312 1 318 1-272 1 122 1-87 1 40 1-43 1-86 1 47 1 56 1 82 1-141 1-22 1 304 1-27 1-211 1 46 1-64 1 134 1-43 1-155 1 47 1-26 1 101 1-12 1-128 1 35 1 96 1 175 1-181 1-84 1 72 1-102 1 62 1 77 1-110 1 156 1 109 1-75 1 101 1-101 1-143 1 207 1-265 1 13 1 180 1-113 1-106 1 334 1-332 1 351 1-23 1-259 1 159 1-128 1-17 1 58 1-56 1-91 1 95 1 238 1-102 1-165 1 39 1 22 1-24 1 232 1-324 1 41 1 99 1-87 1 159 1 109 1-158 1 160 1-36 1-112 1-96 1-2 1 301 1-381 1 16 1 306 1-262 1 29 1-48 1-67 1 170 1-69 1-37 1 88 1-89 1-39 1 110 1 216 1-309 1 101 1 109 1 50 1-44 1 63 1 34 1-18 1-294 1 66 1 242 1-268 1 275 1-283 1 122 1-28 1 187 1-5 1-287 1 291 1-259 1-55 1 293 1-8 1-215 1 82 1-73 1 15 1 189 1-223 1-50 1 322 1-212 1 191 1-264 1 2 1-28 1 97 1 32 1-6 1-123 1 81 1 214 1-26 1-5 1-272 1 25 1 23 1-31 1 86 1-189 1 103 1 39 1 129 1 119 1-66 1-207 1 317 1-168 1-220 1 133 1 43 1-89 1 28 1 57 1 117 1-13 1-238 1 163 1-170 1 306 1-292 1 289 1-85 1-120 1-50 1-45 1 311 1-172 1 68 1 97 1-248 1 85 1 163 1-232 1 234 1-24 1-215 1 174 1-137 1 3 1-38 1 49 1-19 1-136 1 15 1 338 1-169 1-76 1 135 1-102 1 31 1-112 1 181 1-168 1 4 1 37 1-37 1 248 1-100 1-4 1 116 1-280 1 25 1 233 1-90 1-65 1-15 1 168 1-243 1 7 1-17 1 217 1-141 1-28 1 207 1 32 1-28 1-218 1 173 1 48 1-230 1-75 1 138 1 187 1-84 1 82 1-24 1-214 1-35 1 249 1 35 1-289 1 44 1 16 1-17 1-4 1 71 1 179 1-7 1-274 1-37 1 57 1 167 1-97 1 185 1-321 1-5 1 132 1-125 1-31 1 109 1 208 1-303 1 24 1-33 1 346 1-108 1 102 1-27 1-204 1-88 1 288 1-257 1 72 1-23 1-29 1-51 1 101 1 111 1-160 1 26 1 55 1 178 1 14 1-243 1-72 1-45 1 202 1 47 1 106 1-65 1-28 1-210 1 99 1 56 1-157 1 290 1-150 1 166 1-280 1 91 1-30 1-118 1 89 1 250 1 1 1 3 1-23 1-148 1-89 1 222 1-177 1-48 1-121 1 343 1 88 1-337 1 266 1-124 1 129 1 14 1-259 1-7 1 209 1-210 1 303 1-349 1 95 1 50 1-109 1 53 1 220 1-237 1 242 1-298 1 169 1-61 1-61 1-67 1 228 1-42 1-133 1 266 1-170 1-13 1 277 1-94 1-282 1 21 1 263 1-36 1-63 1 6 1-216 1 277 1 30 1-268 1 268 1-1 1 27 1-32 1-187 1-42 1 22 1-49 1 4 1-49 1 208 1 105 1-273 1 140 1-164 1 131 1-200 1 119 1 73 1-30 1 174 1-269 1 21 1 266 1-277 1 190 1-64 1 83 1-159 1-32 1 242 1-207 1 17 1-130 1 336 1 5 1-289 1 64 1 234 1-209 1 206 1-99 1-20 1 104 1-17 1 27 1 2 1-239 1 224 1-21 1-122 1 140 1-197 1-55 1 267 1-262 1-53 1 22 1-4 1 273 1-173 1-52 1-70 1 222 1-220 1 69 1-69 1 148 1-115 1 283 1-252 1-24 1 309 1-231 1-48 1-29 1 8 1 38 1 11 1-100 1 121 1 198 1-290 1 292 1-217 1 136 1-58 1-69 1-60 1 270 1-272 1 11 1 138 1-142 1 148 1 82 1-288 1 268 1 54 1-281 1 48 1 274 1-309 1 7 1-40 1 22 1 244 1-59 1 141 1-234 1-25 1 178 1-112 1-44 1-72 1-45 1 77 1-11 1-103 1 264 1 79 1-28 1-206 1-8 1 254 1-102 1 93 1-260 1 31 1 199 1-55 1-95 1-120 1 292 1-352 1 156 1-15 1 251 1-423 1 54 1 122 1 21 1-17 1-95 1 312 1-14 1-66 1-114 1-30 1 211 1-30 1-225 1-84 1 125 1 215 1 56 1-352 1 75 1 219 1-196 1 111 1-109 1 197 1-30 1-296 1 163 1-143 1 99 1 209 1-265 1 17 1 209 1 17 1-341 1 70 1 3 1 291 1-207 1 17 1-47 1 18 1-23 1 10 1 211 1-218 1-100 1 335 1-30 1 81 1-371 1-22 1 3 1 339 1-241 1 12 1 52 1 177 1-327 1 326 1 3 1-184 1 144 1-109 1 123 1-79 1-92 1-33 1-40 1 232 1-162 1-27 1 2 1-145 1 170 1-125 1 78 1-85 1 326 1 3 1-292 1 83 1 17 1-31 1 43 1-130 1 41 1 269 1-249 1-77 1 118 1 186 1-275 1 237 1 72 1-38 1-253 1 248 1 32 1-339 1 48 1 22 1 42 1 167 1-254 1-45 1 94 1 35 1 227 1-209 1-96 1 120 1 157 1 6 1 26 1-204 1 200 1-108 1-127 1 206 1-179 1-121 1 105 1 232 1-255 1-91 1 81 1-10 1 283 1-231 1 220 1-167 1-66 1-33 1-73 1 4 1 331 1 5 1 0 1-240 1 35 1 253 1-237 1 190 1-1 1-253 1-20 1 296 1-97 1 78 1-227 1 125 1 99 1-93 1-116 1 25 1 106 1-240 1 107 1-21 1-23 1 253 1-107 1 13 1-119 1 96 1-136 1-1 1-84 1 108 1 269 1-330 1 78 1 215 1-215 1-15 1 222 1 16 1-233 1 220 1-295 1 87 1-9 1 116 1-118 1 181 1-177 1-121 1 98 1 0 1 116 1 128 1-241 1 212 1 7 1-143 1-86 1 47 1 5 1 194 1-203 1-86 1 205 1 15 1-134 1 202 1-216 1 192 1-47 1-182 1-84 1 124 1 229 1-12 1-289 1 68 1-20 1 245 1-281 1 125 1 192 1-216 1-39 1-8 1-20 1-76 1 208 1-143 1-82 1 124 1-14 1 196 1-311 1 120 1 219 1-110 1-119 1-47 1-42 1 247 1-159 1 21 1-130 1 135 1-1 1 301 1-474 1 97 1 316 1-326 1 113 1-25 1 201 1-171 1-32 1 223 1-109 1-80 1-158 1 305 1-153 1 176 1-338 1 67 1 24 1 247 1-263 1-36 1 304 1-212 1-22 1-102 1 87 1-14 1 7 1 91 1 211 1-54 1-274 1 279 1-19 1-206 1-71 1 136 1 73 1-124 1 78 1-194 1-1 1 109 1-9 1-76 1-17 1 89 1 234 1-66 1 62 1-70 1-183 1 217 1 3 1-239 1 16 1 31 1 224 1-315 1 149 1 79 1-106 1-74 1 268 1-298 1 266 1-34 1 77 1-250 1 242 1-317 1 58 1 160 1 100 1-263 1 206 1-320 1 66 1 328 1-47 1-139 1-76 1-52 1 17 1 35 1 237 1-252 1-9 1 128 1-53 1-56 1 215 1 2 1-277 1 77 1 229 1-3 1-316 1 145 1-168 1 81 1 89 1-111 1 76 1 29 1-58 1-20 1 10 1-23 1 71 1 52 1-107 1 67 1-133 1 109 1-40 1 122 1-204 1 334 1-192 1 48 1-101 1 267 1-56 1-3 1-90 1-37 1-49 1-24 1 4 1-20 1 166 1 84 1-240 1 244 1-269 1-82 1 348 1 5 1-306 1 201 1-168 1 182 1-49 1 84 1-171 1-16 1 11 1-94 1 322 1-29 1-27 1-330 1 119 1-11 1 152 1-111 1-26 1 50 1 62 1 52 1-105 1 174 1-259 1 33 1 237 1-283 1 278 1-2 1-15 1-194 1 45 1-53 1-9 1 0 1-40 1 292 1-273 1 65 1 181 1-242 1 12 1 73 1 10 1-101 1 33 1-120 1 197 1-169 1-5 1 148 1 150 1-208 1 85 1-120 1 11 1-52 1 380 1-332 1-35 1 87 1 97 1 127 1-188 1-65 1 67 1 25 1-11 1 171 1-86 1 88 1-212 1-66 1-46 1 25 1 178 1-122 1-29 1 64 1 211 1-110 1 52 1-264 1 31 1 18 1 166 1-96 1-119 1 103 1 161 1-135 1 91 1 110 1-332 1 88 1 145 1 139 1-220 1 51 1-139 1 185 1-201 1-44 1-15 1 71 1 8 1-19 1 72 1-113 1 54 1 23 1 44 1-91 1 229 1-138 1-127 1 64 1-87 1 35 1 125 1-47 1 165 1-198 1-71 1 260 1 69 1-322 1 150 1 229 1-388 1 129 1 20 1 3 1-134 1-26 1 47 1 122 1-104 1 53 1 9 1-18 1-10 1 63 1-47 1 3 1-9 1-68 1 72 1 189 1-6 1-208 1 31 1 135 1 28 1-115 1-65 1-1 1-78 1-20 1 237 1-110 1-60 1 21 1 11 1-22 1 108 1 32 1-92 1-74 1 49 1 7 1-106 1 136 1-90 1-29 1 83 1 36 1 146 1-257 1 201 1 115 1-163 1 59 1 103 1-157 1-186 1 139 1-23 1 4 1 189 1 31 1 24 1-188 1-80 1 17 1 227 1-321 1 88 1 44 1-39 1 46 1 59 1 62 1-50 1-36 1-154 1 311 1-222 1-41 1-9 1-58 1 57 1 270 1-32 1-224 1-14 1 183 1-179 1 5 1-119 1 265 1-188 1 296 1 1 1-61 1-37 1 36 1-194 1 87 1-160 1 343 1-286 1-59 1 249 1-176 1 107 1-133 1 75 1-96 1 31 1 52 1-56 1-82 1 98 1-63 1 320 1-236 1 58 1 186 1-260 1 233 1-251 1-63 1 13 1 14 1 308 1-220 1 3 1 53 1 67 1-201 1 69 1-101 1 209 1-130 1 11 1 172 1-156 1 203 1-264 1 73 1 217 1-325 1 49 1 115 1-126 1 46 1 40 1-48 1-64 1-17 1 314 1-182 1-72 1 27 1 14 1 204 1-249 1 10 1 7 1 257 1-289 1-23 1 154 1-33 1 101 1 82 1-263 1 69 1 35 1-59 1 9 1-42 1 51 1-25 1-111 1 72 1-63 1-51 1 142 1 218 1-132 1 160 1-31 1-168 1 38 1-74 1 198 1 37 1-249 1 228 1-161 1-65 1 21 1 159 1-248 1-13 1 220 1-133 1 240 1-89 1-99 1 99 1 89 1-99 1-178 1 14 1 260 1 4 1-29 1-183 1-120 1-4 1 356 1-283 1 3 1 258 1-51 1-160 1-80 1 25 1 160 1 20 1-224 1 309 1-228 1 24 1-49 1 304 1-317 1 264 1-197 1-113 1 28 1 77 1 5 1 101 1 99 1-92 1-134 1-56 1 46 1 171 1-180 1-5 1-14 1-41 1 198 1-36 1-101 1 87 1 159 1-111 1 115 1-333 1 78 1 14 1 12 1-42 1-95 1 187 1-85 1 293 1-283 1 31 1 221 1-182 1 108 1-83 1 51 1-130 1 230 1-236 1-15 1 43 1 22 1 161 1 33 1-35 1-205 1 6 1-59 1 85 1-104 1 184 1-28 1 71 1-97 1 182 1-193 1-53 1-78 1 320 1-199 1-59 1-34 1 14 1 232 1-223 1 244 1 54 1-235 1 103 1 106 1-225 1-2 1 48 1 148 1-249 1 120 1 115 1-168 1 109 1-177 1 61 1-119 1 320 1-308 1 54 1 215 1-127 1-149 1 102 1 202 1-26 1-196 1-20 1 178 1-230 1 226 1-180 1 1 1-30 1 195 1-110 1 31 1 87 1 153 1-431 1 341 1-261 1 98 1 6 1-48 1-7 1 220 1-241 1 19 1 75 1 173 1-256 1 257 1-1 1-155 1-140 1-5 1 97 1-6 1 86 1-146 1 275 1-342 1 151 1 31 1-41 1-5 1 243 1-206 1 8 1-14 1 174 1-255 1-16 1-89 1 302 1-210 1 259 1-244 1 20 1 200 1-255 1 73 1-45 1 47 1-35 1 206 1-131 1-66 1-65 1 21 1-10 1 213 1-108 1-101 1-23 1-3 1 59 1 234 1 20 1-203 1-3 1 49 1-29 1-153 1 334 1-184 1-87 1 278 1-215 1-118 1 363 1-301 1 55 1-56 1 30 1 93 1-22 1-30 1-37 1 150 1-36 1 89 1-154 1-6" fill="none" stroke="#ec3a3e" stroke-width="3.6" vector-effect="non-scaling-stroke" stroke-linejoin="bevel" marker-start="url(#Cr)" marker-mid="url(#Cr)" marker-end="url(#Cr)"/>
<rect x="162" y="1107" width="972.1" height="699" fill="none" stroke="#000" stroke-width="5.4"/>
<path d="M208.1 1792.2V1806M265.96 1799.2V1806M323.81 1792.2V1806M381.67 1799.2V1806M439.53 1792.2V1806M497.39 1799.2V1806M555.25 1792.2V1806M613.1 1799.2V1806M670.96 1792.2V1806M728.82 1799.2V1806M786.68 1792.2V1806M844.53 1799.2V1806M902.39 1792.2V1806M960.25 1799.2V1806M1018.11 1792.2V1806M1075.96 1799.2V1806" stroke="#000" stroke-width="5.3"/>
<g font-family="'Liberation Serif','Times New Roman',serif" font-weight="bold" font-size="38.2"><text transform="translate(208.1 1849) scale(1.09 1)" text-anchor="middle">0</text><text transform="translate(323.81 1849) scale(1.09 1)" text-anchor="middle">500</text><text transform="translate(439.53 1849) scale(1.09 1)" text-anchor="middle">1000</text><text transform="translate(555.25 1849) scale(1.09 1)" text-anchor="middle">1500</text><text transform="translate(670.96 1849) scale(1.09 1)" text-anchor="middle">2000</text><text transform="translate(786.68 1849) scale(1.09 1)" text-anchor="middle">2500</text><text transform="translate(902.39 1849) scale(1.09 1)" text-anchor="middle">3000</text><text transform="translate(1018.11 1849) scale(1.09 1)" text-anchor="middle">3500</text><text transform="translate(1133.82 1849) scale(1.09 1)" text-anchor="middle">4000</text><text transform="translate(145.2 1775.97) scale(1.09 1)" text-anchor="end">0</text><text transform="translate(145.2 1656.43) scale(1.09 1)" text-anchor="end">20</text><text transform="translate(145.2 1536.89) scale(1.09 1)" text-anchor="end">40</text><text transform="translate(145.2 1417.35) scale(1.09 1)" text-anchor="end">60</text><text transform="translate(145.2 1297.81) scale(1.09 1)" text-anchor="end">80</text><text transform="translate(145.2 1178.27) scale(1.09 1)" text-anchor="end">100</text></g>
<text font-family="'Liberation Serif','Times New Roman',serif" font-weight="bold" font-size="41" text-anchor="middle" transform="translate(45.6 1456.2) rotate(-90) scale(0.89 1)">Peak Shear Strength/KPa</text>
<text font-family="'Liberation Serif','Times New Roman',serif" font-weight="bold" font-size="37" text-anchor="middle" transform="translate(701.7 1900.9) scale(1.1 1)">Sample number</text>
<path d="M205.2 1149.7H286.8" stroke="#4d4d4d" stroke-width="3.2"/>
<ellipse cx="246.2" cy="1149.7" rx="7.6" ry="6.9" fill="#fff" stroke="#000" stroke-width="1.5"/>
<text font-family="'Liberation Serif','Times New Roman',serif" font-weight="bold" font-size="37.8" transform="translate(287.8 1163.6) scale(1.08 1)">Measured value</text>
<path d="M205.2 1195.5H286.8" stroke="#ec3a3e" stroke-width="3.2"/>
<ellipse cx="246.2" cy="1195.5" rx="7.6" ry="6.9" fill="#fff" stroke="#f00" stroke-width="1.5"/>
<text font-family="'Liberation Serif','Times New Roman',serif" font-weight="bold" font-size="37.8" transform="translate(287.8 1208.7) scale(1.08 1)">Predictive value</text>
<text font-family="'Liberation Serif','Times New Roman',serif" font-size="56.7" text-anchor="middle" x="662.4" y="1997">GA-BPNN</text>
<text font-family="'Liberation Sans',Arial,sans-serif" font-weight="bold" font-size="49.5" x="11.9" y="1065.6">C</text>
<defs>
<marker id="Dk" markerUnits="userSpaceOnUse" viewBox="-14 -14 28 28" markerWidth="123.48" markerHeight="46.85" preserveAspectRatio="none" overflow="visible"><circle r="6.9" fill="#fff" stroke="#000" stroke-width="1.45" transform="scale(1.07 1)"/></marker>
<marker id="Dr" markerUnits="userSpaceOnUse" viewBox="-14 -14 28 28" markerWidth="123.48" markerHeight="46.85" preserveAspectRatio="none" overflow="visible"><circle r="6.9" fill="#fff" stroke="#f00" stroke-width="1.45" transform="scale(1.07 1)"/></marker>
</defs>
<path transform="translate(1541.6 1763.3) scale(0.22676 -0.5977)" d="M0 311l1-32 1-164 1 257 1-63 1-166 1 125 1-132 1 54 1-22 1 203 1-325 1-30 1 8 1 105 1 189 1-221 1-73 1 7 1 246 1-34 1-147 1 205 1-200 1 202 1-100 1 215 1-66 1-320 1 156 1 38 1 33 1-156 1 105 1 22 1 59 1 51 1-248 1 49 1 152 1-268 1-2 1 113 1-125 1 274 1 120 1-384 1 79 1 20 1 185 1-212 1-76 1 69 1-83 1 29 1 186 1-93 1 197 1-21 1-262 1 7 1 120 1-4 1-143 1-12 1 241 1-157 1-62 1 63 1 65 1 98 1-150 1 209 1-236 1 199 1 41 1-14 1-274 1 156 1-42 1-135 1 315 1-161 1-62 1 274 1-110 1-12 1-197 1 110 1-144 1-4 1 236 1-238 1 38 1-27 1-12 1 166 1 105 1-127 1-2 1 103 1-6 1-173 1-13 1 230 1-294 1 88 1 139 1 64 1-34 1-193 1 217 1-90 1-7 1-58 1-35 1 8 1-77 1 85 1-72 1-14 1 219 1 72 1-57 1-14 1 150 1-391 1 38 1-11 1 444 1-228 1-122 1-113 1 222 1 73 1-155 1 9 1 38 1-178 1 227 1-229 1 15 1 65 1-97 1 272 1-77 1 79 1-209 1 7 1 123 1-32 1-149 1 178 1 82 1-229 1 233 1-253 1 148 1 71 1-78 1 15 1-44 1 137 1 40 1-275 1 105 1 156 1-274 1 237 1-121 1 197 1-255 1 193 1-86 1-117 1 341 1-255 1 168 1-173 1-101 1 166 1 4 1 115 1-250 1-67 1 301 1-179 1-101 1 16 1 109 1 40 1 121 1-67 1-76 1-154 1 218 1-237 1 118 1-25 1 63 1-46 1 26 1 137 1-262 1 131 1-22 1 17 1 62 1 83 1-259 1 239 1-261 1 145 1 153 1-128 1-39 1 150 1-277 1 232 1-198 1 265 1-21 1-218 1 6 1 43 1-6 1 115 1-163 1-27 1-23 1 279 1-135 1-20 1 162 1-9 1-226 1 55 1 153 1-66 1 49 1-261 1 58 1 204 1-1 1-138 1 47 1 110 1-45 1-174 1-51 1-3 1 290 1-30 1-148 1 197 1-73 1-227 1 273 1-228 1-19 1 69 1 0 1-54 1 30 1 253 1-29 1-243 1 2 1 203 1 46 1-216 1 176 1 52 1-248 1 76 1-136 1 7 1 281 1-177 1 127 1-97 1-162 1 89 1 155 1-46 1-141 1 194 1-248 1 281 1-285 1 257 1 35 1-196 1-14 1 0 1 52 1-17 1-46 1 195 1-202 1 135 1-22 1 120 1-16 1-144 1 62 1 131 1-257 1 230 1-157 1 42 1-68 1 136 1-191 1 41 1-8 1 282 1-181 1 22 1-71 1 183 1-172 1 167 1-265 1 159 1-54 1-153 1 269 1-18 1-239 1 266 1-22 1-199 1 80 1 139 1-22 1-165 1-72 1 247 1-8 1-102 1-2 1-37 1 27 1-59 1-12 1 156 1 47 1-279 1 258 1-154 1 168 1-197 1-79 1 329 1-54 1-64 1 161 1-287 1-95 1 46 1 12 1 15 1 203 1-12 1-133 1-44 1-41 1 192 1-170 1 232 1-173 1-27 1-35 1-2 1 199 1-89 1-110 1 76 1-52 1-58 1 225 1-95 1-104 1 9 1-43 1-2 1 227 1-246 1 151 1 160 1-158 1-142 1 141 1-50 1 69 1-148 1 79 1-23 1 68 1 32 1-174 1 7 1 293 1-169 1 154 1 1 1-278 1 272 1 59 1-74 1-3 1-226 1 53 1-84 1 64 1 201 1-214 1-24 1 234 1-125 1 127 1-201 1 44 1 170 1 451 1-732 1 95 1-33 1 1 1 18 1-62 1 1 1 188 1-148 1 134 1-161 1 63 1 69 1-5 1 98 1 52 1 4 1-265 1 259 1-164 1-105 1 39 1 207 1-189 1-7 1 80 1 125 1-148 1-75 1 60 1 26 1-111 1 311 1-315 1 256 1-114 1-82 1-30 1 163 1-81 1-105 1-52 1 198 1 111 1-39 1 41 1-41 1-174 1 237 1-238 1 158 1-180 1-58 1 97 1-65 1 108 1 136 1-275 1 339 1-232 1 95 1-209 1 288 1-22 1-183 1-85 1 97 1 140 1 138 1-324 1 186 1 11 1 23 1-26 1-144 1-2 1-21 1-74 1 116 1 162 1-57 1 75 1-218 1-5 1-64 1 157 1 81 1 63 1-317 1 31 1 257 1-292 1 69 1-67 1 6 1 255 1-233 1 300 1-56 1-117 1-45 1 222 1-234 1-78 1 267 1-35 1-192 1 247 1-23 1-162 1 19 1 88 1 12 1 50 1-257 1 43 1 190 1-83 1-185 1 177 1-49 1 107 1-226 1 10 1 80 1 55 1-18 1 5 1 182 1-274 1 28 1-73 1 103 1 178 1 9 1-289 1 165 1 98 1 66 1-51 1-185 1 202 1-187 1 173 1 30 1-17 1-213 1 94 1 8 1-52 1 15 1-41 1-97 1 238 1-67 1-156 1-19 1 94 1-31 1 155 1 66 1-32 1 38 1-3 1-8 1-200 1-22 1 145 1-111 1 84 1-159 1 146 1-79 1 0 1 216 1-289 1 153 1 130 1 14 1-311 1 271 1-208 1 91 1-161 1 95 1 172 1 3 1-9 1-240 1 21 1-23 1 240 1-87 1 84 1-119 1-110 1 73 1-46 1-51 1 188 1-134 1 40 1 230 1-227 1 176 1 3 1-76 1 96 1-258 1-9 1 286 1-262 1 147 1-156 1 283 1-143 1-93 1 119 1-186 1-17 1 127 1 145 1 38 1-251 1-64 1 297 1-170 1-88 1 0 1 86 1-2 1-103 1 234 1 60 1-55 1-217 1 59 1 45 1 242 1-257 1 10 1 88 1-71 1 124 1 107 1-386 1 102 1 188 1-293 1-4 1 76 1 759 1-651 1-185 1 28 1 225 1-8 1-214 1 244 1-166 1-9 1 155 1-99 1 11 1 33 1 118 1-35 1-277 1 173 1-94 1 190 1-134 1 93 1-13 1-152 1-59 1 253 1-258 1 64 1 96 1-44 1 186 1-225 1 270 1-354 1 238 1 19 1-9 1 42 1-118 1-149 1 265 1-266 1 276 1-66 1-123 1 108 1-86 1-113 1-13 1 135 1-52 1-49 1 35 1 215 1-275 1 277 1-194 1 184 1-116 1-61 1 173 1 7 1 1 1 66 1-32 1-5 1-306 1 67 1 120 1-168 1 21 1 208 1-165 1 196 1 59 1 6 1-276 1-61 1 138 1 52 1-27 1-66 1 194 1-2 1-276 1-7 1 32 1-42 1 312 1 34 1-203 1 218 1-275 1 75 1-140 1 16 1 218 1-146 1-107 1 88 1 155 1-130 1-65 1 270 1-195 1 182 1-222 1-51 1 257 1-276 1 51 1 221 1-102 1-80 1 122 1 29 1-206 1-29 1 239 1-161 1-50 1 64 1 187 1-81 1-70 1-11 1-32 1 146 1-75 1-117 1 101 1-129 1-27 1 230 1-153 1-12 1 141 1 51 1-244 1 69 1 108 1-190 1 114 1-76 1 283 1-9 1-2 1-218 1 103 1-207 1 1 1 281 1 81 1-341 1 114 1-117 1 157 1 91 1-94 1-126 1 217 1-197 1 103 1-103 1-11 1 88 1-37 1 59 1 127 1 105 1-126 1-1 1-257 1 7 1 109 1 16 1 147 1-184 1-94 1 159 1-41 1 21 1-134 1 78 1 72 1-88 1-2 1 218 1-298 1 227 1 79 1-76 1-74 1 128 1-17 1-47 1-175 1 21 1 259 1-35 1 13 1 44 1-138 1 56 1 20 1-201 1 94 1 173 1-249 1-76 1 106 1 129 1-252 1 91 1 165 1-20 1-40 1-122 1 19 1-103 1 170 1-149 1 0 1 2 1 275 1-1 1-124 1-2 1 115 1-154 1 1 1-69 1 63 1 119 1-116 1 167 1-296 1 279 1-230 1 113 1 91 1-114 1 161 1-158 1-121 1 271 1-263 1 281 1-77 1 66 1-186 1 187 1-268 1 108 1 5 1-11 1-13 1-79 1 255 1 32 1-142 1 17 1-202 1 131 1 7 1 0 1 138 1 15 1-213 1 40 1 145 1-20 1 4 1-224 1 16 1-24 1 241 1-19 1-225 1 109 1 13 1-40 1 31 1-76 1 28 1 133 1-193 1 149 1 589 1-724 1 83 1-42 1 133 1-79 1-109 1 245 1-218 1-29 1 28 1 27 1 248 1-229 1-33 1 161 1-51 1-19 1-126 1 264 1-278 1 86 1 59 1 102 1-41 1-148 1 254 1-68 1-189 1 285 1-26 1-138 1-126 1 65 1 121 1-62 1-182 1 228 1 3 1-121 1 199 1-56 1 28 1-100 1-167 1 66 1 16 1 229 1-138 1 101 1 40 1-279 1 238 1-127 1 119 1-90 1-62 1 34 1-117 1 119 1 48 1-200 1 253 1-14 1-13 1-170 1-46 1 50 1 25 1-101 1 414 1-113 1-212 1 186 1-118 1 5 1-24 1 179 1-292 1 254 1-16 1-103 1 135 1 48 1-174 1-99 1-60 1 154 1 156 1-216 1 24 1 35 1-147 1 8 1 74 1 226 1-42 1-148 1 183 1-229 1 131 1-166 1 215 1-214 1 245 1 21 1-309 1 293 1-5 1-196 1-83 1 293 1-171 1 79 1 110 1-290 1 178 1-13 1-107 1 23 1 215 1-276 1-57 1 267 1 53 1 0 1-85 1-194 1 27 1 219 1-41 1-93 1-146 1 127 1 169 1-212 1-27 1-58 1 142 1-11 1 137 1 97 1-363 1 82 1 17 1-38 1 192 1-176 1-39 1 253 1-170 1-18 1 36 1-135 1 138 1-72 1 184 1-184 1 203 1 491 1-617 1 0 1-140 1 370 1-296 1 236 1-322 1 87 1 78 1 139 1-144 1 57 1-209 1 93 1 215 1-87 1-209 1 32 1-7 1 94 1-140 1-4 1 327 1-277 1 31 1 240 1-236 1-81 1 77 1-24 1 76 1-24 1-74 1 256 1-155 1-115 1 259 1-88 1 73 1-261 1 20 1 155 1 79 1-158 1 57 1 140 1-22 1 0 1-210 1 237 1-132 1-32 1-110 1 89 1-31 1 42 1 182 1-29 1-262 1 44 1-48 1 315 1-242 1 24 1 1 1 132 1-236 1 264 1-36 1-73 1-19 1-41 1 105 1-81 1-107 1 155 1-43 1 49 1-155 1 24 1 215 1-151 1-31 1-77 1 149 1 89 1-203 1 132 1 224 1-249 1-26 1 308 1-408 1-10 1 75 1-59 1 40 1 92 1-129 1 121 1-142 1 338 1 33 1-361 1 252 1-270 1 288 1-39 1-187 1 142 1-122 1 18 1 0 1 155 1 10 1 63 1-180 1-70 1 49 1-49 1 15 1-85 1 136 1-2 1 116 1-138 1-40 1 53 1 138 1-265 1 74 1-1 1-69 1 177 1 166 1-283 1 199 1-44 1-204 1 70 1 67 1 138 1-262 1 17 1-32 1 219 1 109 1-198 1-51 1 139 1-41 1 132 1-187 1-8 1-112 1 115 1 141 1 3 1-255 1 54 1 16 1 80 1-108 1 198 1-260 1 357 1-241 1 64 1-91 1 140 1-104 1-96 1-18 1 1 1 170 1 52 1-53 1 2 1 137 1-145 1 64 1-193 1 217 1-218 1 44 1-23 1-66 1 53 1 173 1-104 1 7 1 27 1-57 1 212 1-317 1 240 1-102 1 5 1-145 1 86 1 204 1-37 1 54 1-57 1-104 1-29 1 99 1 97 1-33 1-99 1-47 1-114 1 164 1 103 1-165 1 224 1-75 1 4 1 421 1-677 1 16 1 381 1-345 1 117 1-88 1 224 1-303 1-23 1 142 1 4 1 167 1-67 1-238 1 93 1-74 1 301 1 74 1-245 1-68 1-83 1 278 1-254 1 209 1-51 1-174 1 368 1-56 1-47 1-135 1 98 1-183 1 55 1-50 1-58 1 73 1 89 1 156 1-47 1-193 1 185 1-242 1 3 1 210 1-233 1 11 1 107 1 7 1 300 1-410 1 228 1-227 1 266 1-213 1 84 1 122 1-202 1 213 1 121 1-171 1 60 1-126 1 203 1-244 1 38 1 100 1-247 1 37 1 55 1 44 1-112 1 194 1 70 1-143 1 15 1 63 1-81 1-154 1-2 1 187 1 103 1-286 1 241 1-137 1 154 1 103 1 10 1-225 1 176 1 2 1-233 1-79 1-29 1 300 1-275 1 41 1 125 1-138 1-23 1 220 1-207 1 221 1 19 1-181 1 77 1 180 1-150 1-204 1 304 1-180 1-41 1 56 1-23 1-104 1 265 1-257 1 250 1-87 1-82 1 29 1-131 1 118 1-99 1 136 1-36 1-44 1 90 1-160 1 34 1 247 1-32 1-242 1 23 1 113 1 93 1-115 1-108 1 202 1 40 1-207 1 168 1 22 1-235 1 154 1 2 1-23 1-77 1 123 1-169 1 59 1 17 1 57 1 68 1-220 1 429 1-245 1-109 1 236 1-15 1-283 1 269 1-95 1 42 1-207 1 53 1 163 1-236 1 31 1 159 1-147 1-18 1 111 1-37 1 73 1-36 1-55 1 207 1-27 1 103 1 191 1-506 1 249 1-232 1 8 1-20 1 192 1-211 1 73 1 166 1-187 1 32 1-91 1-29 1 114 1 41 1-134 1 65 1-89 1 257 1-181 1 90 1-41 1-81 1 232 1-204 1 63 1 200 1-194 1-127 1 355 1-370 1 104 1 58 1-89 1 6 1 99 1-120 1-11 1 276 1-112 1-201 1 290 1-237 1 280 1-230 1-100 1 41 1 231 1 51 1-247 1-87 1 98 1 212 1-276 1 46 1 307 1-277 1 186 1-51 1 58 1-252 1 226 1 35 1-4 1-141 1 157 1-204 1 20 1-107 1 82 1 9 1-107 1 2 1 50 1 36 1-15 1 190 1-235 1 231 1-2 1-176 1-74 1-13 1 29 1 233 1 61 1-234 1 15 1-61 1 79 1 45 1-69 1 145 1 3 1-133 1-37 1 33 1 86 1-111 1-4 1-76 1 276 1-152 1-49 1-70 1 167 1-116 1 192 1-73 1 132 1-309 1 191 1 59 1-172 1-81 1 303 1-290 1 115 1-105 1 7 1 261 1-21 1-120 1 174 1-213 1-113 1 248 1-5 1 14 1-16 1-205 1-19 1 25 1-34 1 61 1-24 1 14 1 197 1-192 1 243 1-225 1 62 1-54 1 147 1-183 1 39 1-92 1 185 1-176 1 81 1 1 1-90 1 60 1 13 1 14 1-28 1 53 1-106 1 191 1 8 1 78 1-167 1-63 1-36 1 87 1 306 1-293 1 41 1-143 1 362 1-264 1-99 1 144 1 40 1-194 1-2 1 117 1-34 1-90 1 290 1-56 1-97 1-141 1 116 1-109 1 229 1-52 1 66 1-122 1-35 1-86 1 73 1 80 1 164 1-57 1-124 1 51 1-17 1 103 1 31 1-286 1 237 1-84 1 150 1-79 1-78 1 120 1-114 1-161 1 176 1 72 1 71 1-44 1-179 1 210 1-209 1 241 1-213 1-16 1-115 1 299 1-295 1 134 1-40 1 186 1-108 1-70 1-96 1-1 1 269 1-245 1-22 1 1 1 137 1-33 1 3 1-107 1 95 1-71 1-37 1-12 1 59 1 50 1 47 1 94 1-240 1 278 1-11 1-208 1-38 1 82 1 42 1-13 1-72 1 220 1-3 1-210 1-77 1 329 1-46 1-230 1 4 1 45 1 55 1 265 1-131 1-77 1-134 1 251 1-63 1-10 1-218 1 261 1-140 1-138 1 275 1-259 1-26 1-5 1 137 1-55 1 205 1-7 1-30 1-75 1-153 1 169 1-117 1 11 1-53 1 109 1-124 1 117 1-82 1-16 1-44 1 23 1 227 1-77 1-116 1-43 1 131 1-82 1 99 1-150 1 310 1-13 1-283 1 206 1 130 1-257 1 161 1-230 1 123 1-44 1-77 1-11 1 104 1-22 1 75 1 124 1 13 1-298 1-23 1 42 1-35 1 243 1-190 1 262 1-266 1-32 1 272 1-20 1 38 1-180 1-37 1 172 1 55 1-195 1-115 1 9 1-8 1 248 1-246 1 55 1 71 1 71 1 40 1 11 1-8 1-105 1-87 1-29 1 236 1-158 1 28 1-111 1-10 1-3 1 7 1 56 1 245 1-175 1-97 1 33 1-45 1 159 1 203 1-395 1 80 1 147 1-48 1 46 1-205 1 148 1-43 1-64 1-44 1-2 1 247 1 10 1 49 1-132 1 111 1-184 1-6 1-109 1 100 1 215 1-226 1-13 1-65 1-4 1 273 1-257 1 162 1-8 1-8 1 128 1-298 1 14 1 187 1 193 1-260 1-12 1-102 1 141 1 54 1-130 1 140 1 162 1-139 1-254 1 53 1 30 1 220 1 60 1-178 1-89 1 197 1-130 1-22 1 54 1-92 1-8 1 13 1-42 1-47 1 250 1-147 1 66 1-173 1 196 1-102 1-67 1 21 1-16 1 37 1-31 1-34 1 113 1 152 1-183 1-79 1-7 1 247 1-250 1 49 1 99 1-70 1-80 1 274 1-42 1-152 1 78 1-151 1-8 1 311 1-161 1 203 1-119 1 98 1-328 1 241 1 68 1-201 1 150 1-215 1 67 1 155 1 97 1-303 1-8 1 180 1-218 1 119 1-129 1 352 1-277 1-4 1-74 1 285 1-259 1 12 1 97 1-131 1 46 1 253 1-314 1 291 1-142 1 162 1-112 1 67 1-191 1-73 1 168 1-80 1 179 1-204 1-19 1-29 1 14 1 55 1-74 1 219 1-117 1 60 1-83 1 58 1-76 1 12 1 231 1-149 1-93 1-36 1 223 1-121 1-141 1 367 1-215 1-76 1 28 1 29 1 171 1-187 1 2 1 112 1-219 1 97 1 27 1 14 1 179 1-290 1 258 1-124 1-32 1 118 1-262 1 274 1-252 1 282 1-289 1 7 1-8 1 70 1 221 1-5 1 41 1-261 1 32 1 127 1-120 1-18 1-87 1 13 1 71 1 196 1-221 1-62 1 97 1-81 1-19 1 91 1 69 1-151 1 285 1-46 1-240 1 202 1 103 1-311 1 313 1-312 1 229 1-126 1 222 1-52 1 139 1-404 1 1 1 413 1-317 1 31 1 143 1-226 1 193 1 37 1 104 1-340 1 206 1-211 1-42 1 121 1 0 1-123 1 25 1-17 1 221 1 570 1-552 1-155 1-80 1 178 1-153 1 45 1-76 1 145 1 140 1-294 1 318 1-324 1 308 1-5 1-247 1-42 1 104 1-113 1 100 1 58 1-40 1-72 1 86 1 89 1 81 1-296 1 28 1 32 1 235 1 1 1-45 1-256 1 86 1 236 1-76 1 67 1-233 1 169 1-183 1 187 1 36 1-55 1-218 1 175 1 24 1-141 1 246 1-283 1 146 1 101 1 3 1-140 1-12 1 55 1 147 1-60 1-45 1-218 1 395 1-401 1 240 1-121 1 28 1 13 1 143 1-7 1 8 1-296 1 217 1-74 1-11 1-139 1 245 1-9 1-129 1-72 1 63 1-34 1-26 1 207 1 40 1-41 1 47 1-295 1 278 1-181 1 99 1-167 1 333 1-100 1-119 1-27 1-114 1 158 1-96 1 196 1-106 1-19 1-93 1 0 1 3 1 102 1 25 1 121 1-279 1 83 1-84 1 264 1-262 1 272 1-272 1 13 1 223 1 20 1-267 1 258 1 29 1-272 1-6 1 305 1-201 1-25 1 243 1-24 1-221 1 192 1-256 1-36 1 66 1 78 1-126 1 156 1 76 1 122 1-166 1-43 1-102 1 21 1 85 1 129 1-57 1-53 1 124 1-160 1 8 1 88 1 89 1-269 1 246 1-60 1 51 1-289 1 122 1 145 1-39 1-3 1-148 1 133 1 18 1-109 1-91 1 247 1 25 1-279 1 21 1-51 1 20 1 218 1-218 1-19 1 163 1 17 1-12 1-89 1 72 1-146 1-2 1 140 1-91 1 87 1-47 1-63 1 158 1 106 1 57 1-77 1-139 1 124 1-226 1 46 1-9 1 265 1-33 1-306 1 58 1-59 1 100 1 206 1-198 1 143 1-113 1 114 1-241 1 146 1-113 1-46 1 51 1 269 1-165 1 28 1-104 1-35 1 133 1-48 1-37 1 156 1 97 1-87 1-217 1 271 1-40 1-155 1 14 1 122 1-204 1-37 1-3 1 36 1-39 1 314 1-10 1-285 1 275 1-39 1-261 1 71 1-49 1 80 1 244 1-346 1 209 1-68 1 33 1 217 1-369 1 239 1 151 1-329 1 152 1-7 1-97 1 86 1 102 1-269 1 90 1 182 1-53 1-243 1 354 1-83 1 11 1-5 1-10 1-122 1-1 1-48 1-97 1 281 1 20 1-153 1 105 1 27 1 16 1-228 1 208 1-57 1 52 1-138 1 108 1-8 1-235 1 228 1-249 1 18 1 148 1 28 1-18 1 130 1-272 1 155 1-65 1-17 1 145 1 49 1-174 1 5 1 38 1 15 1-118 1 51 1 166 1-269 1 108 1 200 1-308 1 264 1-204 1-67 1 297 1-156 1 125 1-128 1 183 1-26 1-281 1 14 1 252 1-281 1 285 1 6 1-130 1-128 1 233 1-2 1-31 1-172 1 31 1 157 1-143 1 165 1-202 1 83 1-146 1 275 1-7 1 58 1-74 1-98 1-126 1-2 1 6 1 146 1-104 1-56 1 131 1-81 1 58 1-119 1 242 1-253 1 25 1 241 1 35 1-80 1-215 1 221 1-82 1-95 1 250 1-20 1 4 1-179 1 13 1-71 1 42 1-76 1 72 1-73 1 88 1 67 1-118 1 164 1-198 1 305 1-174 1 106 1 40 1 31 1-197 1 8 1 129 1-179 1-67 1 269 1-134 1-113 1 213 1-246 1 65 1-58 1 162 1-110 1-26 1 227 1-207 1-14 1-38 1 156 1-156 1-8 1 137 1-119 1 177 1-23 1-28 1 7 1-34 1 143 1 14 1-7 1-176 1 113 1-45 1-51 1-24 1 94 1 122 1-68 1-101 1-137 1 186 1 106 1 14 1-244 1 198 1-118 1-124 1 157 1 5 1-147 1 19 1 83 1-54 1 108 1-99 1 46 1-75 1 5 1 16 1 259 1-124 1-59 1-30 1-74 1 123 1-95 1 52 1 147 1-25 1-66 1 125 1 59 1-222 1 197 1-232 1-32 1 19 1 272 1-78 1-124 1-107 1 225 1-115 1 98 1-264 1 159 1 88 1-122 1-48 1-82 1 309 1-266 1 64 1 151 1-91 1 13 1-68 1 154 1-259 1 151 1-106 1 167 1-53 1 126 1-159 1 164 1-205 1 137 1 36 1-267 1 312 1-29 1 19 1-304 1 155 1-66 1 154 1 77 1-199 1-105 1 369 1-225 1 9 1-65 1-67 1 282 1-179 1 121 1-71 1-173 1 36 1-39 1 226 1 5 1-219 1 105 1 254 1-280 1 153 1-134 1 189 1 13 1-268 1 90 1-141 1 25 1 105 1 106 1 53 1-16 1-278 1 118 1-90 1 254 1-6 1 5 1-210 1 68 1 137 1 23 1-200 1-3 1-81 1 104 1 24 1 128 1-168 1-70 1 132 1-77 1 193 1 21 1-97 1-70 1-121 1 50 1-30 1 317 1-354 1 209 1 44 1 63 1-34 1-158 1 120 1 603 1-670 1 50 1-54 1-116 1 236 1-277 1 85 1 36 1-80 1 77 1 33 1 137 1-194 1 149 1-87 1 249 1-322 1 207 1-295 1 7 1 304 1-53 1 25 1 98 1-153 1-201 1 272 1 38 1-237 1-32 1 131 1-199 1 127 1 158 1-64 1-159 1-25 1 135 1 142 1-61 1-126 1 289 1-407 1 121 1 189 1-73 1 18 1-193 1 54 1-44 1 227 1-174 1 20 1-9 1-55 1-53 1 21 1-64 1 192 1-103 1 91 1 117 1 29 1-305 1 352 1-234 1 168 1-135 1 82 1-86 1 8 1-83 1 5 1 85 1-9 1-11 1-113 1-51 1 337 1-285 1 106 1 13 1-81 1-86 1 248 1 94 1-194 1 117 1-31 1-78 1 162 1-220 1 109 1-167 1 82 1 143 1-265 1 67 1 176 1-215 1 2 1 225 1-89 1-76 1-31 1 217 1-5 1-226 1 139 1-173 1 70 1 42 1 147 1-218 1 30 1-87 1 270 1-93 1-164 1 66 1-2 1 165 1-222 1 254 1-261 1 113 1 135 1 248 1-431 1 168 1-116 1 154 1-187 1 65 1 209 1-356 1 3 1 49 1-17 1 80 1-6 1 232 1-285 1-18 1-39 1 280 1-118 1-67 1-46 1 188 1-86 1 35 1-143 1-39 1 215 1-210 1 99 1 131 1-176 1 20 1-26 1 215 1-275 1 152 1 117 1-147 1-118 1 92 1 134 1-224 1 132 1 162 1-312 1 129 1 115 1 68 1-115 1 43 1-111 1 188 1-79 1-188 1 336 1-243 1-95 1 84 1-39 1-77 1 1 1 213 1-75 1-7 1-50 1-26 1 181 1-140 1 160 1-134 1 119 1-194 1-58 1 115 1 143 1-247 1 280 1 35 1-72 1-11 1-31 1-157 1-37 1 153 1-10 1 188 1-291 1 157 1-175 1 21 1 188 1-203 1 13 1-32 1 300 1-239 1 175 1 13 1-115 1 55 1-214 1 98 1-85 1 92 1-78 1 72 1 174 1 35 1 32 1-264 1 191 1-97 1 90 1 12 1-72 1 22 1-86 1-43 1-53 1 95 1 77 1-102 1-83 1 124 1-13 1 85 1-233 1 40 1 165 1 137 1-288 1-5 1 195 1-244 1 39 1 83 1 246 1-362 1 17 1 217 1-173 1-62 1 285 1-44 1-186 1 209 1-216 1 68 1 220 1-268 1-26 1-38 1 189 1-47 1-123 1 302 1-226 1 112 1 50 1-14 1-213 1-28 1 67 1-5 1-62 1 92 1-18 1-63 1 267 1-146 1-47 1-78 1 265 1-170 1-24 1 183 1-119 1-101 1 149 1-206 1 353 1-197 1-52 1 211 1-223 1-39 1 229 1-133 1 13 1-61 1 66 1 137 1-259 1 86 1-123 1 12 1 50 1 114 1-148 1-15 1 159 1-125 1 244 1-226 1 43 1 24 1 149 1-164 1 90 1 152 1 29 1-133 1 83 1-30 1-220 1-68 1 281 1-237 1 0 1 177 1 20 1-109 1 120 1-2 1 17 1-168 1-88 1 204 1-73 1 117 1-129 1 77 1-216 1 33 1-37 1 32 1 50 1-76 1 126 1 156 1-240 1 105 1-5 1-125 1 123 1 130 1-167 1 196 1-150 1 217 1-260 1-50 1-57 1 165 1-180 1 123 1-128 1 33 1 48 1-35 1 13 1 764 1-631 1 60 1 177 1-401 1 58 1 29 1-8 1 200 1 54 1-46 1-156 1 41 1 70 1-227 1 110 1 21 1 24 1-104 1 197 1-288 1 169 1 163 1-233 1 48 1 49 1 234 1-169 1-42 1-102 1 42 1 88 1-169 1-51 1 74 1 66 1-24 1 90 1-135 1-95 1 145 1-51 1-45 1 244 1-263 1 5 1-23 1 110 1 0 1 122 1-70 1-121 1 97 1 146 1-113 1-42 1 75 1 44 1-197 1-68 1 110 1 253 1-296 1 30 1-39 1-51 1 171 1 96 1-267 1 106 1 21 1-36 1 65 1-140 1 49 1 270 1-328 1 65 1 44 1-35 1-63 1-1 1 6 1 239 1-143 1-125 1 166 1-37 1 9 1-4 1-129 1 56 1 166 1-212 1 35 1 126 1-145 1 79 1 68 1 255 1-408 1-4 1 33 1 95 1-103 1 105 1 84 1-54 1 181 1-209 1-20 1-3 1 37 1-14 1-33 1 14 1 191 1-208 1-118 1 164 1-113 1 240 1-246 1 228 1-247 1 21 1 374 1-370 1 243 1-276 1 156 1 233 1-352 1-13 1 228 1-197 1 222 1-105 1 35 1-193 1 204 1-212 1 26 1 198 1-183 1 0 1 93 1-86 1 229 1-194 1-84 1 142 1-124 1 45 1 5 1-18 1 238 1-192 1 151 1 10 1-209 1 20 1-67 1-24 1 22 1-5 1 112 1-106 1 229 1-72 1-135 1 249 1-33 1-15 1-93 1-21 1 127 1-246 1 66 1 250 1-306 1 70 1 134 1-153 1 170 1-109 1 2 1 123 1-14 1-202 1 267 1-279 1 78 1 2 1 37 1 99 1 462 1-672 1 138 1-49 1-99 1-16 1 294 1-18 1-123 1 152 1-249 1 236 1-152 1-111 1-41 1 49 1 102 1-149 1 127 1-73 1 205 1-16 1 30 1-194 1 138 1-152 1 270 1-157 1 89 1-143 1 219 1-296 1 194 1-91 1-3 1 159 1-153 1-75 1 164 1-162 1 11 1 121 1-212 1 13 1 291 1-237 1 70 1-36 1-104 1 86 1-37 1 205 1-16 1-226 1 221 1-83 1 68 1-187 1 302 1-81 1-137 1 153 1-7 1 7 1-250 1 306 1-165 1 180 1-83 1 51 1-6 1 34 1-234 1-80 1-3 1 239 1-158 1-87 1 50 1 117 1-108 1 48 1 110 1-159 1 96 1-156 1 73 1 163 1-230 1 5 1 327 1-171 1-175 1 292 1-293 1 46 1 95 1-69 1 220 1-41 1-243 1 118 1 193 1-144 1-90 1 63 1-34 1-88 1 145 1-125 1-27 1 302 1-167 1 119 1-101 1 673 1-501 1-63 1-160 1 150 1 68 1-202 1 260 1-92 1-149 1-94 1 197 1-89 1-76 1-95 1 6 1 1 1 298 1-279 1 83 1 65 1-149 1 124 1 74 1 64 1-269 1 15 1-3 1 235 1-116 1-60 1 262 1-308 1 46 1 54 1-57 1 39 1-5 1 81 1 83 1-139 1 26 1-147 1 35 1 253 1-65 1-8 1-230 1 298 1-117 1-169 1 233 1-187 1 192 1 40 1-5 1-246 1 140 1-103 1 29 1 7 1 137 1-227 1 76 1 195 1-130 1-57 1 14 1-112 1 269 1-116 1-155 1 162 1-134 1 85 1-33 1-87 1 16 1 228 1 15 1-232 1 213 1 44 1-242 1 72 1-114 1 3 1 43 1 17 1-21 1 53 1 203 1-132 1-94 1-18 1 42 1 54 1-99 1-23 1 228 1 19 1-227 1-35 1 414 1-338 1-57 1 190 1-204 1 231 1-246 1 301 1-97 1-154 1-37 1 27 1-47 1 111 1 129 1 7 1-223 1 209 1-227 1 109 1 24 1-40 1 181 1-3 1-191 1-57 1 24 1 260 1-310 1 296 1-11 1-20 1 32 1-44 1 43 1 104 1-260 1 129 1 5 1-137 1-4 1-132 1 5 1 290 1-18 1-209 1 89 1-43 1 172 1-136 1 176 1-181 1 122 1-265 1 302 1-150 1-98 1 183 1 60 1-250 1 234 1-258 1 1 1 76 1 36 1 118 1-186 1-75 1 60 1 51 1-68 1 84 1 8 1 170 1-229 1 30 1 71" fill="none" stroke="#4d4d4d" stroke-width="3" vector-effect="non-scaling-stroke" stroke-linejoin="bevel" marker-start="url(#Dk)" marker-mid="url(#Dk)" marker-end="url(#Dk)"/>
<path transform="translate(1541.6 1763.3) scale(0.22676 -0.5977)" d="M0 333l1-49 1-173 1 237 1-18 1-183 1 115 1-101 1 21 1-10 1 175 1-287 1-51 1 0 1 155 1 149 1-201 1-110 1 37 1 274 1-59 1-149 1 193 1-167 1 184 1-91 1 182 1-82 1-270 1 130 1 45 1 43 1-188 1 86 1 54 1 90 1 33 1-240 1 30 1 162 1-274 1-2 1 105 1-112 1 240 1 162 1-410 1 85 1 21 1 193 1-224 1-17 1 15 1-56 1 34 1 136 1-61 1 193 1-19 1-271 1 8 1 129 1-1 1-118 1-72 1 289 1-146 1-70 1 31 1 83 1 90 1-143 1 201 1-231 1 183 1 53 1-18 1-241 1 121 1-37 1-107 1 293 1-139 1-88 1 272 1-98 1-31 1-159 1 108 1-151 1-25 1 249 1-235 1 51 1-47 1-26 1 177 1 125 1-129 1-5 1 112 1-21 1-181 1-14 1 255 1-289 1 77 1 130 1 66 1-14 1-232 1 220 1-88 1-14 1-66 1-7 1-3 1-82 1 80 1-39 1-43 1 235 1 46 1-18 1-15 1 107 1-377 1 42 1-18 1 428 1-193 1-119 1-111 1 221 1 65 1-150 1 10 1 16 1-181 1 240 1-277 1 78 1 47 1-85 1 252 1-78 1 77 1-191 1 15 1 102 1-33 1-141 1 171 1 71 1-222 1 251 1-263 1 158 1 62 1-104 1 41 1-66 1 191 1 13 1-263 1 83 1 155 1-253 1 209 1-119 1 184 1-229 1 198 1-89 1-133 1 334 1-231 1 164 1-191 1-62 1 180 1-5 1 58 1-220 1-82 1 303 1-159 1-103 1 24 1 124 1-4 1 129 1-45 1-85 1-154 1 209 1-238 1 146 1-38 1 70 1-56 1 28 1 138 1-304 1 164 1-18 1 10 1 64 1 84 1-259 1 255 1-278 1 156 1 157 1-137 1-41 1 147 1-269 1 240 1-209 1 251 1-21 1-202 1 4 1 40 1 16 1 96 1-173 1-39 1 29 1 266 1-153 1-56 1 170 1 21 1-220 1 39 1 168 1-98 1 76 1-289 1 76 1 227 1-13 1-160 1 59 1 114 1-29 1-171 1-54 1-13 1 290 1-57 1-129 1 187 1-56 1-211 1 242 1-244 1-3 1 95 1-21 1-56 1 15 1 258 1-13 1-256 1 4 1 221 1 12 1-192 1 168 1 51 1-223 1 86 1-131 1 3 1 250 1-184 1 144 1-95 1-193 1 108 1 154 1-52 1-109 1 172 1-229 1 245 1-248 1 264 1 23 1-196 1-26 1-2 1 48 1-28 1-32 1 214 1-227 1 142 1-26 1 129 1-16 1-138 1 44 1 126 1-238 1 231 1-163 1 39 1-45 1 122 1-230 1 75 1 14 1 276 1-220 1 15 1-32 1 172 1-160 1 145 1-254 1 194 1-96 1-137 1 255 1 2 1-230 1 221 1 1 1-199 1 61 1 155 1-10 1-201 1-34 1 231 1 5 1-111 1 2 1-46 1 44 1-48 1-17 1 141 1 44 1-283 1 276 1-162 1 149 1-169 1-94 1 339 1-53 1-42 1 123 1-263 1-90 1 32 1-11 1 20 1 230 1-29 1-131 1-58 1-27 1 182 1-132 1 173 1-134 1-34 1-22 1-46 1 216 1-76 1-129 1 105 1-57 1-70 1 226 1-65 1-123 1-10 1-38 1-20 1 247 1-259 1 175 1 145 1-138 1-125 1 109 1-42 1 71 1-175 1 91 1-8 1 62 1-19 1-112 1-8 1 319 1-194 1 137 1 32 1-298 1 285 1 76 1-106 1 2 1-188 1 23 1-86 1 95 1 189 1-231 1-10 1 220 1-116 1 122 1-219 1 45 1 189 1 247 1-538 1 69 1 4 1-27 1 47 1-64 1-23 1 204 1-148 1 126 1-168 1 86 1 49 1 14 1 107 1 18 1 6 1-264 1 287 1-152 1-147 1 44 1 224 1-168 1-12 1 61 1 134 1-141 1-93 1 63 1 35 1-113 1 314 1-335 1 268 1-148 1-54 1-30 1 138 1-21 1-155 1-42 1 217 1 99 1-24 1 14 1-23 1-180 1 210 1-225 1 170 1-198 1-26 1 78 1-63 1 107 1 106 1-255 1 338 1-224 1 125 1-230 1 289 1-37 1-161 1-112 1 131 1 127 1 135 1-342 1 217 1 6 1 22 1-26 1-149 1 25 1-77 1-79 1 134 1 192 1-55 1 36 1-192 1-5 1-74 1 160 1 103 1 33 1-294 1 37 1 228 1-278 1 79 1-75 1-25 1 290 1-237 1 292 1-26 1-125 1-49 1 189 1-201 1-109 1 266 1-6 1-218 1 269 1-16 1-153 1 15 1 95 1-3 1 41 1-267 1 49 1 171 1-67 1-156 1 157 1-42 1 99 1-236 1 20 1 95 1 32 1-5 1 1 1 150 1-248 1 31 1-45 1 65 1 199 1-19 1-281 1 170 1 87 1 57 1-30 1-185 1 195 1-173 1 195 1-4 1-13 1-216 1 66 1 29 1-42 1 10 1-50 1-113 1 273 1-78 1-158 1-11 1 107 1-73 1 206 1 38 1 7 1-10 1 17 1-18 1-235 1 10 1 132 1-92 1 82 1-145 1 151 1-92 1 13 1 176 1-260 1 154 1 118 1-12 1-300 1 304 1-187 1 53 1-154 1 80 1 182 1 8 1-24 1-238 1 42 1-36 1 237 1-80 1 88 1-126 1-108 1 83 1-58 1-77 1 218 1-142 1 46 1 190 1-181 1 166 1 7 1-89 1 98 1-242 1 5 1 275 1-268 1 132 1-132 1 264 1-129 1-73 1 96 1-191 1-15 1 106 1 146 1 89 1-279 1-85 1 309 1-131 1-112 1-11 1 90 1 25 1-171 1 279 1 37 1-34 1-203 1 36 1 51 1 234 1-226 1-44 1 129 1-107 1 178 1 83 1-391 1 81 1 201 1-301 1 23 1 59 1 571 1-454 1-173 1 13 1 242 1-5 1-213 1 204 1-133 1-7 1 155 1-96 1-9 1 24 1 132 1-52 1-253 1 173 1-94 1 147 1-97 1 95 1 7 1-171 1-80 1 253 1-229 1 82 1 64 1-37 1 197 1-260 1 292 1-327 1 202 1 29 1 1 1 45 1-144 1-159 1 289 1-285 1 291 1-73 1-128 1 144 1-145 1-82 1-20 1 152 1-60 1-57 1 65 1 207 1-319 1 315 1-229 1 248 1-167 1-44 1 211 1-41 1 0 1 85 1-63 1 20 1-334 1 95 1 96 1-156 1 28 1 200 1-175 1 223 1 22 1 10 1-261 1-55 1 144 1 17 1 17 1-87 1 164 1 58 1-287 1-27 1 61 1-72 1 308 1 47 1-216 1 240 1-266 1 44 1-135 1 34 1 215 1-137 1-94 1 53 1 168 1-146 1-48 1 258 1-193 1 183 1-229 1-23 1 235 1-303 1 90 1 190 1-99 1-67 1 136 1 9 1-207 1 3 1 195 1-122 1-73 1 57 1 167 1-33 1-86 1 24 1-63 1 159 1-88 1-107 1 109 1-151 1-5 1 225 1-150 1-41 1 155 1 61 1-226 1 47 1 104 1-174 1 112 1-90 1 281 1-15 1 12 1-220 1 104 1-226 1 16 1 254 1 108 1-354 1 116 1-75 1 119 1 95 1-103 1-120 1 208 1-174 1 83 1-96 1-22 1 86 1-11 1 70 1 93 1 110 1-91 1-40 1-254 1 10 1 89 1 37 1 131 1-143 1-165 1 205 1-34 1 35 1-193 1 125 1 55 1-72 1 10 1 220 1-319 1 246 1 41 1-48 1-74 1 151 1-69 1-30 1-180 1 39 1 245 1-5 1-21 1 28 1-110 1 56 1 33 1-221 1 79 1 209 1-306 1-36 1 102 1 118 1-225 1 107 1 143 1-34 1-63 1-115 1 44 1-95 1 137 1-127 1-22 1-11 1 298 1-5 1-126 1 26 1 97 1-134 1 5 1-71 1 49 1 128 1-137 1 193 1-312 1 287 1-234 1 130 1 70 1-91 1 120 1-154 1-130 1 286 1-224 1 269 1-80 1 65 1-208 1 202 1-284 1 137 1-14 1-23 1-2 1-51 1 221 1 19 1-118 1-2 1-177 1 125 1 0 1-9 1 177 1-8 1-176 1-4 1 157 1-19 1 16 1-229 1-6 1-24 1 240 1 1 1-252 1 140 1-14 1-33 1 36 1-79 1 34 1 102 1-199 1 180 1 476 1-604 1 74 1-48 1 147 1-120 1-69 1 285 1-252 1-14 1 26 1-17 1 268 1-210 1-32 1 158 1-81 1-2 1-133 1 271 1-300 1 95 1 75 1 93 1-15 1-165 1 246 1-35 1-220 1 260 1 2 1-145 1-106 1 42 1 123 1-74 1-151 1 223 1 0 1-130 1 200 1-47 1 21 1-99 1-173 1 82 1 36 1 192 1-160 1 124 1 62 1-288 1 222 1-93 1 106 1-83 1-96 1 61 1-135 1 115 1 56 1-208 1 275 1-22 1-4 1-208 1-73 1 109 1 22 1-89 1 410 1-131 1-210 1 203 1-150 1 29 1-20 1 170 1-307 1 282 1-44 1-109 1 186 1 16 1-199 1-81 1-57 1 174 1 147 1-235 1 22 1 61 1-172 1 31 1 85 1 201 1-30 1-154 1 192 1-250 1 141 1-158 1 208 1-207 1 270 1-3 1-307 1 301 1-2 1-219 1-86 1 292 1-161 1 66 1 101 1-259 1 188 1-56 1-62 1-13 1 201 1-250 1-84 1 321 1 26 1-17 1-51 1-202 1 33 1 198 1-35 1-99 1-150 1 149 1 153 1-195 1-51 1-61 1 167 1-26 1 127 1 118 1-392 1 81 1 49 1-36 1 178 1-155 1-63 1 232 1-141 1-29 1 58 1-140 1 148 1-108 1 202 1-198 1 200 1 332 1-424 1-28 1-161 1 399 1-274 1 212 1-301 1 21 1 147 1 131 1-144 1 85 1-229 1 62 1 231 1-105 1-199 1 50 1-8 1 82 1-154 1 23 1 283 1-252 1 53 1 207 1-221 1-76 1 65 1-26 1 105 1-36 1-74 1 262 1-173 1-128 1 244 1-60 1 95 1-255 1 7 1 154 1 69 1-170 1 104 1 123 1-42 1 6 1-203 1 210 1-98 1-58 1-82 1 66 1-14 1 49 1 152 1-14 1-266 1 38 1-36 1 303 1-206 1-24 1 20 1 144 1-237 1 268 1-49 1-75 1-25 1-39 1 100 1-78 1-136 1 192 1-38 1 37 1-160 1 19 1 213 1-152 1 25 1-141 1 162 1 107 1-204 1 123 1 235 1-246 1-20 1 271 1-396 1-24 1 71 1-34 1 44 1 88 1-115 1 78 1-111 1 315 1 61 1-375 1 247 1-225 1 269 1-51 1-212 1 141 1-101 1 29 1-9 1 149 1 5 1 48 1-140 1-78 1 30 1-18 1 1 1-80 1 135 1-17 1 125 1-114 1-56 1 48 1 121 1-201 1 23 1-11 1-91 1 206 1 163 1-282 1 197 1-49 1-200 1 65 1 68 1 166 1-279 1 28 1-49 1 231 1 83 1-165 1-35 1 91 1-2 1 94 1-168 1-13 1-128 1 128 1 164 1-14 1-242 1 46 1 34 1 57 1-108 1 218 1-313 1 384 1-226 1 67 1-76 1 127 1-100 1-126 1-4 1 13 1 147 1 61 1-26 1-49 1 144 1-125 1 67 1-196 1 216 1-232 1 43 1-33 1-60 1 73 1 185 1-110 1 9 1 11 1-60 1 201 1-285 1 243 1-114 1 34 1-145 1 49 1 224 1-33 1 25 1-28 1-107 1-28 1 89 1 79 1-29 1-79 1-81 1-134 1 215 1 94 1-153 1 210 1-64 1-15 1 262 1-541 1 52 1 390 1-345 1 103 1-76 1 183 1-280 1 12 1 128 1-6 1 182 1-61 1-249 1 75 1-97 1 313 1 72 1-222 1-70 1-67 1 245 1-216 1 203 1-70 1-163 1 357 1-51 1-68 1-117 1 105 1-224 1 102 1-48 1-83 1 99 1 72 1 150 1-31 1-207 1 190 1-276 1 47 1 176 1-225 1 37 1 88 1 9 1 287 1-391 1 223 1-216 1 257 1-203 1 89 1 114 1-185 1 173 1 110 1-140 1 56 1-135 1 220 1-258 1 49 1 118 1-277 1 63 1 33 1 51 1-129 1 235 1 43 1-133 1-4 1 91 1-73 1-183 1 17 1 192 1 83 1-304 1 262 1-141 1 177 1 55 1 34 1-223 1 174 1-10 1-234 1-45 1-57 1 293 1-286 1 46 1 143 1-120 1-36 1 228 1-199 1 211 1 14 1-192 1 81 1 195 1-144 1-223 1 316 1-174 1-43 1 28 1-9 1-102 1 266 1-260 1 237 1-72 1-91 1 43 1-155 1 134 1-126 1 169 1-23 1-52 1 90 1-151 1 20 1 253 1-35 1-278 1 40 1 140 1 79 1-139 1-104 1 191 1 64 1-205 1 163 1 25 1-225 1 135 1 37 1-48 1-53 1 98 1-197 1 97 1 1 1 65 1 40 1-170 1 406 1-248 1-89 1 213 1 4 1-318 1 296 1-117 1 76 1-226 1 75 1 148 1-240 1 52 1 137 1-162 1-1 1 123 1-50 1 90 1-61 1-54 1 232 1-38 1 110 1 108 1-421 1 241 1-259 1 55 1-47 1 188 1-158 1 62 1 129 1-173 1 20 1-76 1-28 1 110 1 18 1-165 1 127 1-137 1 325 1-189 1 35 1-5 1-102 1 241 1-209 1 69 1 192 1-188 1-165 1 415 1-416 1 106 1 107 1-137 1 36 1 89 1-118 1-17 1 286 1-137 1-179 1 294 1-255 1 288 1-205 1-144 1 69 1 206 1 62 1-240 1-67 1 82 1 198 1-266 1 57 1 312 1-302 1 195 1-42 1 76 1-270 1 240 1 5 1 8 1-137 1 151 1-229 1 67 1-118 1 83 1 10 1-129 1 41 1 13 1 52 1-35 1 206 1-248 1 225 1 23 1-173 1-143 1 47 1 21 1 245 1 82 1-261 1-17 1-26 1 67 1 64 1-66 1 131 1-14 1-128 1-4 1 13 1 94 1-106 1-3 1-81 1 266 1-161 1-31 1-65 1 136 1-84 1 176 1-71 1 126 1-294 1 196 1 56 1-178 1-67 1 282 1-314 1 138 1-85 1 1 1 219 1 42 1-123 1 134 1-185 1-128 1 257 1-8 1 2 1-6 1-201 1-17 1 19 1-45 1 79 1-52 1 35 1 181 1-198 1 255 1-201 1 39 1-57 1 152 1-203 1 34 1-98 1 234 1-200 1 95 1-32 1-78 1 66 1-13 1 40 1 2 1 26 1-117 1 184 1 33 1 57 1-158 1-49 1-30 1 75 1 301 1-294 1 42 1-155 1 373 1-248 1-147 1 191 1 11 1-176 1 10 1 126 1-51 1-89 1 279 1-75 1-70 1-132 1 100 1-118 1 279 1-111 1 94 1-126 1-13 1-129 1 99 1 95 1 122 1-44 1-126 1 52 1 2 1 126 1 6 1-305 1 253 1-74 1 139 1-91 1-63 1 82 1-82 1-176 1 185 1 70 1 52 1-20 1-172 1 209 1-203 1 226 1-187 1-34 1-102 1 293 1-290 1 131 1-27 1 180 1-131 1-60 1-62 1-41 1 261 1-243 1-10 1-27 1 137 1-11 1 22 1-126 1 102 1-99 1-3 1 11 1 35 1 37 1 56 1 92 1-215 1 221 1 34 1-213 1-45 1 92 1 50 1-33 1-56 1 176 1 7 1-192 1-59 1 301 1-34 1-264 1 18 1 58 1 77 1 222 1-117 1-64 1-136 1 235 1-72 1 29 1-219 1 240 1-112 1-189 1 287 1-239 1-27 1 4 1 113 1-36 1 196 1-7 1-26 1-40 1-191 1 160 1-94 1-14 1-54 1 126 1-149 1 138 1-72 1-18 1-59 1 4 1 264 1-83 1-120 1-59 1 153 1-122 1 157 1-175 1 292 1-2 1-288 1 232 1 138 1-303 1 178 1-224 1 138 1-47 1-84 1-26 1 91 1 17 1 65 1 138 1 2 1-343 1 36 1 22 1-71 1 289 1-197 1 236 1-265 1-60 1 317 1-19 1 29 1-155 1-47 1 182 1 29 1-175 1-113 1 2 1-17 1 270 1-264 1 49 1 80 1 31 1 93 1 17 1-35 1-93 1-125 1 18 1 235 1-149 1 13 1-107 1-16 1-47 1 18 1 82 1 217 1-136 1-112 1 24 1-37 1 155 1 204 1-376 1 82 1 157 1-87 1 73 1-196 1 113 1-24 1-78 1-71 1 23 1 268 1 6 1 45 1-139 1 119 1-161 1-36 1-70 1 81 1 206 1-224 1-3 1-68 1-23 1 281 1-239 1 136 1-12 1-9 1 162 1-308 1-15 1 232 1 185 1-264 1-21 1-112 1 156 1 80 1-161 1 154 1 138 1-145 1-246 1 34 1 64 1 181 1 97 1-202 1-97 1 230 1-158 1-2 1 30 1-79 1 7 1 7 1-37 1-56 1 269 1-173 1 74 1-161 1 189 1-85 1-97 1 60 1-28 1 3 1-33 1-45 1 140 1 145 1-177 1-111 1-6 1 289 1-244 1 30 1 96 1-54 1-116 1 288 1-22 1-160 1 98 1-144 1-34 1 292 1-127 1 217 1-129 1 56 1-280 1 219 1 80 1-211 1 170 1-228 1 61 1 136 1 318 1-507 1-11 1 204 1-232 1 106 1-115 1 334 1-256 1-11 1-94 1 296 1-261 1 31 1 89 1-188 1 100 1 219 1-302 1 316 1-145 1 170 1-114 1 40 1-189 1-56 1 182 1-77 1 178 1-251 1 21 1-26 1 7 1 55 1-114 1 261 1-126 1 63 1-73 1 80 1-103 1 6 1 232 1-151 1-101 1-21 1 223 1-90 1-161 1 344 1-193 1-77 1 11 1 24 1 190 1-195 1 3 1 120 1-208 1 87 1 13 1 39 1 144 1-261 1 220 1-103 1-68 1 143 1-226 1 251 1-270 1 270 1-269 1 4 1-29 1 117 1 211 1-3 1 44 1-248 1 18 1 94 1-111 1-8 1-96 1 5 1 95 1 210 1-253 1-45 1 84 1-75 1-43 1 124 1 65 1-134 1 280 1-66 1-247 1 211 1 96 1-305 1 306 1-292 1 199 1-86 1 177 1-39 1 140 1-391 1-10 1 396 1-266 1-8 1 158 1-217 1 193 1 19 1 93 1-317 1 222 1-204 1-106 1 160 1-17 1-106 1 15 1-5 1 225 1 378 1-386 1-102 1-131 1 177 1-114 1 30 1-66 1 112 1 138 1-305 1 328 1-290 1 292 1-4 1-256 1-69 1 136 1-104 1 107 1 46 1-26 1-71 1 87 1 105 1 62 1-317 1 24 1 40 1 223 1 16 1-68 1-224 1 85 1 211 1-28 1 43 1-231 1 175 1-172 1 150 1 67 1-91 1-185 1 177 1-22 1-128 1 210 1-252 1 166 1 92 1 29 1-168 1-8 1 50 1 136 1-59 1 3 1-266 1 404 1-391 1 265 1-145 1 52 1 3 1 130 1-10 1 20 1-315 1 234 1-68 1-16 1-144 1 236 1-7 1-112 1-67 1 33 1-11 1-21 1 198 1 22 1-24 1 33 1-317 1 310 1-203 1 134 1-180 1 338 1-100 1-128 1-2 1-133 1 140 1-87 1 215 1-100 1-55 1-86 1 18 1 2 1 96 1 25 1 125 1-292 1 68 1-97 1 280 1-257 1 302 1-310 1 47 1 213 1 29 1-304 1 286 1 32 1-270 1-8 1 286 1-196 1-13 1 234 1-13 1-226 1 191 1-249 1-57 1 94 1 63 1-111 1 160 1 61 1 125 1-161 1-72 1-84 1 9 1 72 1 108 1 13 1-84 1 142 1-163 1 11 1 77 1 79 1-250 1 246 1-39 1 44 1-330 1 150 1 120 1-15 1 20 1-185 1 131 1 33 1-122 1-86 1 253 1 24 1-262 1 15 1-85 1 60 1 197 1-235 1 3 1 155 1 18 1-26 1-97 1 76 1-144 1 27 1 130 1-90 1 99 1-9 1-114 1 154 1 88 1 86 1-76 1-148 1 114 1-227 1 51 1 6 1 285 1-57 1-298 1 57 1-79 1 130 1 177 1-185 1 138 1-117 1 120 1-239 1 124 1-86 1-35 1 34 1 286 1-201 1 46 1-103 1-26 1 97 1 4 1-57 1 154 1 67 1-68 1-202 1 257 1-38 1-149 1-6 1 155 1-242 1-42 1 30 1 45 1-47 1 308 1-15 1-295 1 288 1-28 1-254 1 23 1-52 1 117 1 222 1-308 1 157 1-36 1 12 1 241 1-373 1 250 1 157 1-315 1 106 1 20 1-105 1 111 1 83 1-298 1 114 1 154 1-35 1-249 1 383 1-120 1 38 1-8 1-40 1-95 1-3 1-52 1-59 1 262 1 14 1-149 1 107 1 23 1 13 1-257 1 229 1-39 1 42 1-138 1 103 1 27 1-267 1 244 1-261 1-40 1 199 1 19 1-3 1 129 1-290 1 151 1-62 1-24 1 173 1 47 1-165 1-14 1 58 1 28 1-137 1 32 1 178 1-271 1 101 1 208 1-292 1 267 1-182 1-93 1 275 1-147 1 118 1-137 1 195 1-14 1-300 1 32 1 273 1-323 1 287 1 24 1-151 1-102 1 248 1-11 1-45 1-185 1 42 1 145 1-144 1 157 1-213 1 94 1-139 1 274 1-9 1 49 1-56 1-111 1-115 1-6 1 3 1 134 1-110 1-10 1 121 1-109 1 89 1-171 1 286 1-253 1 32 1 220 1 17 1-31 1-271 1 231 1-70 1-78 1 227 1 21 1-20 1-174 1 1 1-68 1 46 1-102 1 131 1-84 1 63 1 68 1-125 1 201 1-233 1 329 1-193 1 101 1 39 1 26 1-192 1 6 1 150 1-181 1-48 1 237 1-105 1-140 1 214 1-268 1 111 1-104 1 160 1-64 1-46 1 242 1-213 1-26 1-33 1 156 1-177 1 22 1 144 1-134 1 156 1-6 1-19 1 23 1-65 1 136 1 53 1-41 1-167 1 84 1 9 1-53 1-47 1 99 1 129 1-64 1-112 1-134 1 178 1 127 1-9 1-230 1 183 1-102 1-123 1 138 1 14 1-161 1 59 1 50 1-57 1 107 1-60 1-4 1-53 1 9 1 32 1 234 1-100 1-82 1-21 1-77 1 157 1-122 1 41 1 161 1-35 1-72 1 126 1 71 1-233 1 203 1-258 1-16 1 21 1 299 1-92 1-152 1-91 1 227 1-113 1 92 1-281 1 179 1 106 1-102 1-78 1-66 1 258 1-261 1 68 1 177 1-102 1 18 1-40 1 141 1-279 1 171 1-108 1 177 1-76 1 125 1-168 1 177 1-207 1 151 1 29 1-273 1 311 1-40 1 28 1-292 1 158 1-61 1 151 1 60 1-206 1-86 1 361 1-237 1 28 1-40 1-90 1 260 1-183 1 149 1-89 1-172 1 30 1-61 1 267 1 25 1-236 1 88 1 272 1-294 1 149 1-114 1 158 1 19 1-247 1 85 1-136 1 6 1 107 1 108 1 55 1-4 1-283 1 94 1-70 1 252 1 11 1-10 1-204 1 54 1 157 1-7 1-219 1 18 1-65 1 102 1 0 1 145 1-153 1-70 1 117 1-48 1 189 1-18 1-66 1-112 1-101 1 51 1-9 1 327 1-386 1 221 1 51 1 43 1-5 1-170 1 119 1 384 1-444 1 46 1-75 1-121 1 233 1-262 1 74 1 38 1-42 1 54 1 35 1 154 1-219 1 181 1-119 1 251 1-329 1 212 1-326 1 30 1 316 1-30 1 15 1 74 1-118 1-220 1 259 1 65 1-244 1-33 1 100 1-178 1 110 1 177 1-56 1-157 1-53 1 149 1 141 1-69 1-107 1 274 1-415 1 151 1 164 1-60 1 8 1-171 1 29 1-28 1 222 1-185 1 27 1-23 1-44 1-16 1-9 1-86 1 199 1-76 1 78 1 135 1-3 1-260 1 316 1-245 1 167 1-111 1 90 1-125 1 32 1-100 1 9 1 97 1-24 1 6 1-120 1-40 1 355 1-304 1 113 1-7 1-82 1-92 1 278 1 95 1-223 1 160 1-69 1-43 1 130 1-216 1 108 1-165 1 74 1 159 1-294 1 91 1 201 1-218 1-12 1 247 1-106 1-99 1-14 1 203 1 0 1-239 1 146 1-157 1 59 1 18 1 190 1-249 1 43 1-76 1 255 1-86 1-168 1 50 1 49 1 126 1-263 1 314 1-255 1 91 1 138 1 206 1-397 1 220 1-131 1 141 1-201 1 40 1 236 1-352 1-61 1 109 1-6 1 86 1-26 1 229 1-273 1-37 1-35 1 278 1-116 1-56 1-52 1 222 1-121 1 22 1-131 1-55 1 234 1-202 1 59 1 178 1-202 1 10 1-18 1 215 1-275 1 134 1 153 1-151 1-115 1 97 1 139 1-265 1 151 1 158 1-294 1 96 1 153 1 48 1-127 1 75 1-91 1 116 1-44 1-187 1 358 1-253 1-128 1 116 1-29 1-121 1 2 1 245 1-108 1 21 1-48 1-21 1 185 1-157 1 169 1-147 1 158 1-217 1-94 1 156 1 129 1-250 1 294 1 56 1-69 1-23 1-32 1-157 1-50 1 139 1 7 1 174 1-281 1 135 1-169 1 32 1 195 1-198 1 7 1-24 1 274 1-242 1 167 1 26 1-113 1 85 1-256 1 122 1-72 1 78 1-64 1 45 1 188 1 33 1 40 1-282 1 239 1-142 1 89 1 14 1-68 1 28 1-81 1-47 1-61 1 88 1 111 1-134 1-98 1 165 1-49 1 80 1-199 1 53 1 117 1 127 1-269 1-3 1 201 1-250 1 69 1 53 1 266 1-363 1 5 1 257 1-202 1-55 1 260 1-15 1-193 1 197 1-205 1 62 1 198 1-237 1-52 1-41 1 189 1-26 1-126 1 286 1-219 1 121 1 55 1-18 1-207 1-55 1 83 1 3 1-93 1 146 1-57 1-58 1 272 1-162 1-53 1-69 1 295 1-146 1-75 1 194 1-141 1-45 1 91 1-163 1 348 1-197 1-85 1 218 1-221 1-33 1 261 1-128 1-39 1-73 1 106 1 132 1-254 1 79 1-148 1 33 1 42 1 113 1-111 1-43 1 173 1-129 1 250 1-261 1 52 1 41 1 139 1-148 1 40 1 180 1 53 1-156 1 75 1-9 1-225 1-118 1 333 1-236 1-11 1 188 1 38 1-109 1 93 1 9 1 11 1-130 1-109 1 209 1-79 1 110 1-126 1 79 1-234 1 53 1-60 1 63 1 50 1-104 1 139 1 165 1-250 1 109 1-26 1-110 1 117 1 145 1-185 1 208 1-195 1 240 1-227 1-42 1-100 1 173 1-164 1 116 1-99 1 2 1 49 1-35 1 13 1 574 1-457 1 84 1 159 1-380 1 36 1 28 1 16 1 221 1 14 1-39 1-137 1 6 1 64 1-204 1 119 1 26 1-18 1-61 1 182 1-274 1 140 1 168 1-198 1 1 1 88 1 210 1-147 1-52 1-83 1 18 1 111 1-166 1-63 1 95 1 25 1-26 1 103 1-144 1-108 1 136 1-24 1-30 1 227 1-255 1 5 1-19 1 102 1-19 1 149 1-77 1-129 1 104 1 139 1-80 1-64 1 62 1 46 1-192 1-56 1 86 1 276 1-313 1 40 1-47 1-46 1 161 1 108 1-235 1 77 1-8 1-18 1 53 1-137 1 67 1 259 1-307 1 55 1 61 1-77 1-84 1 3 1 62 1 225 1-182 1-69 1 147 1-31 1-39 1 27 1-101 1 47 1 185 1-249 1 25 1 131 1-138 1 78 1 58 1 251 1-386 1-17 1 44 1 96 1-106 1 106 1 74 1-57 1 180 1-192 1-17 1-11 1 29 1-4 1-34 1-2 1 204 1-202 1-102 1 152 1-116 1 254 1-279 1 259 1-265 1 42 1 355 1-386 1 228 1-221 1 122 1 256 1-379 1-14 1 215 1-195 1 234 1-102 1 70 1-220 1 212 1-222 1 54 1 168 1-166 1-12 1 72 1-68 1 244 1-187 1-103 1 138 1-124 1 57 1 8 1-33 1 236 1-170 1 147 1 6 1-226 1 9 1-91 1 38 1 12 1-41 1 171 1-129 1 247 1-87 1-132 1 236 1-29 1-13 1-91 1-29 1 133 1-248 1 91 1 222 1-310 1 93 1 103 1-126 1 168 1-126 1 24 1 90 1 31 1-238 1 279 1-293 1 95 1-10 1 41 1 118 1 290 1-524 1 142 1-36 1-116 1 2 1 275 1-7 1-113 1 130 1-244 1 225 1-137 1-114 1-20 1 36 1 96 1-167 1 144 1-86 1 228 1-21 1 28 1-202 1 142 1-152 1 258 1-158 1 87 1-122 1 224 1-302 1 196 1-109 1 18 1 155 1-138 1-89 1 175 1-164 1 4 1 79 1-156 1-20 1 288 1-236 1 83 1-33 1-77 1 49 1-43 1 252 1-30 1-253 1 250 1-103 1 71 1-189 1 278 1-51 1-133 1 160 1-17 1-24 1-262 1 360 1-195 1 177 1-51 1 22 1-15 1 42 1-233 1-64 1-19 1 233 1-118 1-133 1 74 1 118 1-117 1 32 1 145 1-167 1 110 1-175 1 73 1 159 1-239 1 17 1 295 1-130 1-167 1 269 1-293 1 70 1 75 1-62 1 231 1-66 1-236 1 117 1 181 1-117 1-95 1 52 1-19 1-102 1 142 1-98 1-50 1 291 1-134 1 107 1-95 1 458 1-286 1-94 1-132 1 148 1 59 1-181 1 234 1-84 1-131 1-128 1 205 1-90 1-108 1-68 1 28 1-37 1 293 1-236 1 85 1 30 1-149 1 154 1 86 1 51 1-309 1 48 1-5 1 225 1-114 1-16 1 231 1-320 1 55 1 56 1-66 1 39 1 9 1 62 1 96 1-136 1 11 1-175 1 65 1 263 1-42 1-4 1-257 1 291 1-127 1-183 1 285 1-220 1 213 1 23 1-3 1-230 1 113 1-96 1 50 1-25 1 174 1-241 1 84 1 169 1-121 1-6 1-24 1-124 1 287 1-133 1-181 1 179 1-120 1 92 1-75 1-43 1 12 1 250 1-6 1-226 1 216 1 39 1-247 1 83 1-117 1-5 1 52 1-19 1-4 1 70 1 180 1-146 1-80 1-7 1 49 1 10 1-78 1-6 1 237 1-14 1-172 1-67 1 393 1-289 1-97 1 189 1-171 1 238 1-292 1 323 1-122 1-138 1-35 1 63 1-78 1 116 1 140 1 9 1-256 1 202 1-208 1 150 1-6 1-51 1 169 1 39 1-217 1-39 1-5 1 273 1-309 1 301 1-4 1-32 1 25 1-45 1 53 1 116 1-257 1 112 1-1 1-136 1-34 1-100 1 54 1 250 1-52 1-193 1 113 1-58 1 165 1-136 1 173 1-164 1 124 1-282 1 309 1-158 1-69 1 156 1 75 1-256 1 218 1-238 1 23 1 62 1 18 1 115 1-171 1-76 1 30 1 73 1-86 1 93 1 33 1 156 1-205 1-8 1 85" fill="none" stroke="#ec3a3e" stroke-width="3" vector-effect="non-scaling-stroke" stroke-linejoin="bevel" marker-start="url(#Dr)" marker-mid="url(#Dr)" marker-end="url(#Dr)"/>
<rect x="1496.6" y="1106.9" width="950.9" height="698.8" fill="none" stroke="#000" stroke-width="5"/>
<path d="M1541.6 1792.2V1805.7M1598.29 1799.2V1805.7M1654.98 1792.2V1805.7M1711.67 1799.2V1805.7M1768.36 1792.2V1805.7M1825.05 1799.2V1805.7M1881.74 1792.2V1805.7M1938.43 1799.2V1805.7M1995.12 1792.2V1805.7M2051.81 1799.2V1805.7M2108.5 1792.2V1805.7M2165.19 1799.2V1805.7M2221.88 1792.2V1805.7M2278.57 1799.2V1805.7M2335.26 1792.2V1805.7M2391.95 1799.2V1805.7" stroke="#000" stroke-width="4.9"/>
<g font-family="'Liberation Serif','Times New Roman',serif" font-weight="bold" font-size="38.2"><text transform="translate(1541.6 1849) scale(1.06 1)" text-anchor="middle">0</text><text transform="translate(1654.98 1849) scale(1.06 1)" text-anchor="middle">500</text><text transform="translate(1768.36 1849) scale(1.06 1)" text-anchor="middle">1000</text><text transform="translate(1881.74 1849) scale(1.06 1)" text-anchor="middle">1500</text><text transform="translate(1995.12 1849) scale(1.06 1)" text-anchor="middle">2000</text><text transform="translate(2108.5 1849) scale(1.06 1)" text-anchor="middle">2500</text><text transform="translate(2221.88 1849) scale(1.06 1)" text-anchor="middle">3000</text><text transform="translate(2335.26 1849) scale(1.06 1)" text-anchor="middle">3500</text><text transform="translate(2448.64 1849) scale(1.06 1)" text-anchor="middle">4000</text><text transform="translate(1480.2 1775.97) scale(1.06 1)" text-anchor="end">0</text><text transform="translate(1480.2 1656.43) scale(1.06 1)" text-anchor="end">20</text><text transform="translate(1480.2 1536.89) scale(1.06 1)" text-anchor="end">40</text><text transform="translate(1480.2 1417.35) scale(1.06 1)" text-anchor="end">60</text><text transform="translate(1480.2 1297.81) scale(1.06 1)" text-anchor="end">80</text><text transform="translate(1480.2 1178.27) scale(1.06 1)" text-anchor="end">100</text></g>
<text font-family="'Liberation Serif','Times New Roman',serif" font-weight="bold" font-size="41" text-anchor="middle" transform="translate(1382.8 1456.2) rotate(-90) scale(0.89 1)">Peak Shear Strength/KPa</text>
<text font-family="'Liberation Serif','Times New Roman',serif" font-weight="bold" font-size="37" text-anchor="middle" transform="translate(2024.6 1900.9) scale(1.07 1)">Sample number</text>
<path d="M1539.3 1149.7H1619" stroke="#4d4d4d" stroke-width="3"/>
<ellipse cx="1578.6" cy="1149.7" rx="7.3" ry="6.8" fill="#fff" stroke="#000" stroke-width="1.5"/>
<text font-family="'Liberation Serif','Times New Roman',serif" font-weight="bold" font-size="37.8" transform="translate(1619.9 1163.6) scale(1.05 1)">Measured value</text>
<path d="M1539.3 1195.5H1619" stroke="#ec3a3e" stroke-width="3"/>
<ellipse cx="1578.6" cy="1195.5" rx="7.3" ry="6.8" fill="#fff" stroke="#f00" stroke-width="1.5"/>
<text font-family="'Liberation Serif','Times New Roman',serif" font-weight="bold" font-size="37.8" transform="translate(1619.9 1208.7) scale(1.05 1)">Predictive value</text>
<text font-family="'Liberation Serif','Times New Roman',serif" font-size="56.7" text-anchor="middle" x="1991.2" y="1997">CNN</text>
<text font-family="'Liberation Sans',Arial,sans-serif" font-weight="bold" font-size="49.5" x="1346.5" y="1065.2">D</text>
</svg></body></html>
